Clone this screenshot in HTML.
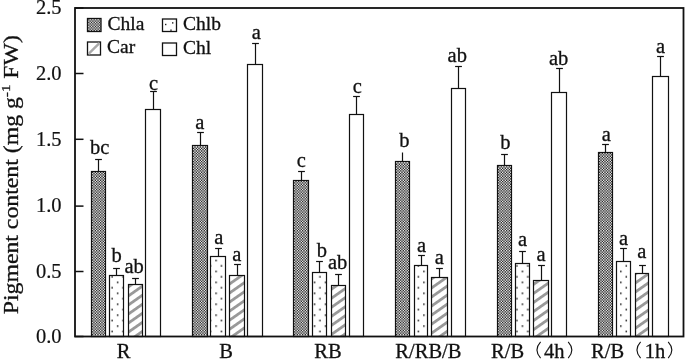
<!DOCTYPE html><html><head><meta charset="utf-8"><style>html,body{margin:0;padding:0;background:#fff;width:685px;height:359px;overflow:hidden}svg{display:block;filter:grayscale(1) blur(0.35px)}text{font-family:"Liberation Serif",serif;fill:#111;stroke:#111;stroke-width:0.3px}</style></head><body>
<svg width="685" height="359" viewBox="0 0 685 359">
<defs>
<pattern id="pb" patternUnits="userSpaceOnUse" width="10.94" height="10.94" x="116.85" y="303.45"><rect width="10.94" height="10.94" fill="#fff"/><rect x="0" y="0" width="1.5" height="1.5" fill="#111"/><rect x="5.47" y="5.47" width="1.5" height="1.5" fill="#111"/></pattern>
<pattern id="pc0" patternUnits="userSpaceOnUse" width="40" height="7.413" patternTransform="translate(129.6,311.48) rotate(-35)"><rect x="-1" y="-1" width="42" height="9.413" fill="#fff"/><rect x="-1" y="0" width="42" height="2.817" fill="#999"/></pattern>
<pattern id="pc1" patternUnits="userSpaceOnUse" width="40" height="7.413" patternTransform="translate(230.6,308.68) rotate(-35)"><rect x="-1" y="-1" width="42" height="9.413" fill="#fff"/><rect x="-1" y="0" width="42" height="2.817" fill="#999"/></pattern>
<pattern id="pc2" patternUnits="userSpaceOnUse" width="40" height="7.413" patternTransform="translate(331.9,305.28) rotate(-35)"><rect x="-1" y="-1" width="42" height="9.413" fill="#fff"/><rect x="-1" y="0" width="42" height="2.817" fill="#999"/></pattern>
<pattern id="pc3" patternUnits="userSpaceOnUse" width="40" height="7.413" patternTransform="translate(433.3,312.18) rotate(-35)"><rect x="-1" y="-1" width="42" height="9.413" fill="#fff"/><rect x="-1" y="0" width="42" height="2.817" fill="#999"/></pattern>
<pattern id="pc4" patternUnits="userSpaceOnUse" width="40" height="7.413" patternTransform="translate(534.2,309.38) rotate(-35)"><rect x="-1" y="-1" width="42" height="9.413" fill="#fff"/><rect x="-1" y="0" width="42" height="2.817" fill="#999"/></pattern>
<pattern id="pc5" patternUnits="userSpaceOnUse" width="40" height="7.413" patternTransform="translate(636,307.98) rotate(-35)"><rect x="-1" y="-1" width="42" height="9.413" fill="#fff"/><rect x="-1" y="0" width="42" height="2.817" fill="#999"/></pattern>
</defs>
<rect x="91.50" y="171.50" width="14.00" height="165.00" fill="#e8e8e8"/>
<path d="M92.00 333.84h1.33v1.33h-1.33zM94.66 333.84h1.33v1.33h-1.33zM97.32 333.84h1.33v1.33h-1.33zM99.98 333.84h1.33v1.33h-1.33zM102.64 333.84h1.33v1.33h-1.33zM93.33 332.51h1.33v1.33h-1.33zM95.99 332.51h1.33v1.33h-1.33zM98.65 332.51h1.33v1.33h-1.33zM101.31 332.51h1.33v1.33h-1.33zM103.97 332.51h1.03v1.33h-1.03zM92.00 331.18h1.33v1.33h-1.33zM94.66 331.18h1.33v1.33h-1.33zM97.32 331.18h1.33v1.33h-1.33zM99.98 331.18h1.33v1.33h-1.33zM102.64 331.18h1.33v1.33h-1.33zM93.33 329.85h1.33v1.33h-1.33zM95.99 329.85h1.33v1.33h-1.33zM98.65 329.85h1.33v1.33h-1.33zM101.31 329.85h1.33v1.33h-1.33zM103.97 329.85h1.03v1.33h-1.03zM92.00 328.52h1.33v1.33h-1.33zM94.66 328.52h1.33v1.33h-1.33zM97.32 328.52h1.33v1.33h-1.33zM99.98 328.52h1.33v1.33h-1.33zM102.64 328.52h1.33v1.33h-1.33zM93.33 327.19h1.33v1.33h-1.33zM95.99 327.19h1.33v1.33h-1.33zM98.65 327.19h1.33v1.33h-1.33zM101.31 327.19h1.33v1.33h-1.33zM103.97 327.19h1.03v1.33h-1.03zM92.00 325.86h1.33v1.33h-1.33zM94.66 325.86h1.33v1.33h-1.33zM97.32 325.86h1.33v1.33h-1.33zM99.98 325.86h1.33v1.33h-1.33zM102.64 325.86h1.33v1.33h-1.33zM93.33 324.53h1.33v1.33h-1.33zM95.99 324.53h1.33v1.33h-1.33zM98.65 324.53h1.33v1.33h-1.33zM101.31 324.53h1.33v1.33h-1.33zM103.97 324.53h1.03v1.33h-1.03zM92.00 323.20h1.33v1.33h-1.33zM94.66 323.20h1.33v1.33h-1.33zM97.32 323.20h1.33v1.33h-1.33zM99.98 323.20h1.33v1.33h-1.33zM102.64 323.20h1.33v1.33h-1.33zM93.33 321.87h1.33v1.33h-1.33zM95.99 321.87h1.33v1.33h-1.33zM98.65 321.87h1.33v1.33h-1.33zM101.31 321.87h1.33v1.33h-1.33zM103.97 321.87h1.03v1.33h-1.03zM92.00 320.54h1.33v1.33h-1.33zM94.66 320.54h1.33v1.33h-1.33zM97.32 320.54h1.33v1.33h-1.33zM99.98 320.54h1.33v1.33h-1.33zM102.64 320.54h1.33v1.33h-1.33zM93.33 319.21h1.33v1.33h-1.33zM95.99 319.21h1.33v1.33h-1.33zM98.65 319.21h1.33v1.33h-1.33zM101.31 319.21h1.33v1.33h-1.33zM103.97 319.21h1.03v1.33h-1.03zM92.00 317.88h1.33v1.33h-1.33zM94.66 317.88h1.33v1.33h-1.33zM97.32 317.88h1.33v1.33h-1.33zM99.98 317.88h1.33v1.33h-1.33zM102.64 317.88h1.33v1.33h-1.33zM93.33 316.55h1.33v1.33h-1.33zM95.99 316.55h1.33v1.33h-1.33zM98.65 316.55h1.33v1.33h-1.33zM101.31 316.55h1.33v1.33h-1.33zM103.97 316.55h1.03v1.33h-1.03zM92.00 315.22h1.33v1.33h-1.33zM94.66 315.22h1.33v1.33h-1.33zM97.32 315.22h1.33v1.33h-1.33zM99.98 315.22h1.33v1.33h-1.33zM102.64 315.22h1.33v1.33h-1.33zM93.33 313.89h1.33v1.33h-1.33zM95.99 313.89h1.33v1.33h-1.33zM98.65 313.89h1.33v1.33h-1.33zM101.31 313.89h1.33v1.33h-1.33zM103.97 313.89h1.03v1.33h-1.03zM92.00 312.56h1.33v1.33h-1.33zM94.66 312.56h1.33v1.33h-1.33zM97.32 312.56h1.33v1.33h-1.33zM99.98 312.56h1.33v1.33h-1.33zM102.64 312.56h1.33v1.33h-1.33zM93.33 311.23h1.33v1.33h-1.33zM95.99 311.23h1.33v1.33h-1.33zM98.65 311.23h1.33v1.33h-1.33zM101.31 311.23h1.33v1.33h-1.33zM103.97 311.23h1.03v1.33h-1.03zM92.00 309.90h1.33v1.33h-1.33zM94.66 309.90h1.33v1.33h-1.33zM97.32 309.90h1.33v1.33h-1.33zM99.98 309.90h1.33v1.33h-1.33zM102.64 309.90h1.33v1.33h-1.33zM93.33 308.57h1.33v1.33h-1.33zM95.99 308.57h1.33v1.33h-1.33zM98.65 308.57h1.33v1.33h-1.33zM101.31 308.57h1.33v1.33h-1.33zM103.97 308.57h1.03v1.33h-1.03zM92.00 307.24h1.33v1.33h-1.33zM94.66 307.24h1.33v1.33h-1.33zM97.32 307.24h1.33v1.33h-1.33zM99.98 307.24h1.33v1.33h-1.33zM102.64 307.24h1.33v1.33h-1.33zM93.33 305.91h1.33v1.33h-1.33zM95.99 305.91h1.33v1.33h-1.33zM98.65 305.91h1.33v1.33h-1.33zM101.31 305.91h1.33v1.33h-1.33zM103.97 305.91h1.03v1.33h-1.03zM92.00 304.58h1.33v1.33h-1.33zM94.66 304.58h1.33v1.33h-1.33zM97.32 304.58h1.33v1.33h-1.33zM99.98 304.58h1.33v1.33h-1.33zM102.64 304.58h1.33v1.33h-1.33zM93.33 303.25h1.33v1.33h-1.33zM95.99 303.25h1.33v1.33h-1.33zM98.65 303.25h1.33v1.33h-1.33zM101.31 303.25h1.33v1.33h-1.33zM103.97 303.25h1.03v1.33h-1.03zM92.00 301.92h1.33v1.33h-1.33zM94.66 301.92h1.33v1.33h-1.33zM97.32 301.92h1.33v1.33h-1.33zM99.98 301.92h1.33v1.33h-1.33zM102.64 301.92h1.33v1.33h-1.33zM93.33 300.59h1.33v1.33h-1.33zM95.99 300.59h1.33v1.33h-1.33zM98.65 300.59h1.33v1.33h-1.33zM101.31 300.59h1.33v1.33h-1.33zM103.97 300.59h1.03v1.33h-1.03zM92.00 299.26h1.33v1.33h-1.33zM94.66 299.26h1.33v1.33h-1.33zM97.32 299.26h1.33v1.33h-1.33zM99.98 299.26h1.33v1.33h-1.33zM102.64 299.26h1.33v1.33h-1.33zM93.33 297.93h1.33v1.33h-1.33zM95.99 297.93h1.33v1.33h-1.33zM98.65 297.93h1.33v1.33h-1.33zM101.31 297.93h1.33v1.33h-1.33zM103.97 297.93h1.03v1.33h-1.03zM92.00 296.60h1.33v1.33h-1.33zM94.66 296.60h1.33v1.33h-1.33zM97.32 296.60h1.33v1.33h-1.33zM99.98 296.60h1.33v1.33h-1.33zM102.64 296.60h1.33v1.33h-1.33zM93.33 295.27h1.33v1.33h-1.33zM95.99 295.27h1.33v1.33h-1.33zM98.65 295.27h1.33v1.33h-1.33zM101.31 295.27h1.33v1.33h-1.33zM103.97 295.27h1.03v1.33h-1.03zM92.00 293.94h1.33v1.33h-1.33zM94.66 293.94h1.33v1.33h-1.33zM97.32 293.94h1.33v1.33h-1.33zM99.98 293.94h1.33v1.33h-1.33zM102.64 293.94h1.33v1.33h-1.33zM93.33 292.61h1.33v1.33h-1.33zM95.99 292.61h1.33v1.33h-1.33zM98.65 292.61h1.33v1.33h-1.33zM101.31 292.61h1.33v1.33h-1.33zM103.97 292.61h1.03v1.33h-1.03zM92.00 291.28h1.33v1.33h-1.33zM94.66 291.28h1.33v1.33h-1.33zM97.32 291.28h1.33v1.33h-1.33zM99.98 291.28h1.33v1.33h-1.33zM102.64 291.28h1.33v1.33h-1.33zM93.33 289.95h1.33v1.33h-1.33zM95.99 289.95h1.33v1.33h-1.33zM98.65 289.95h1.33v1.33h-1.33zM101.31 289.95h1.33v1.33h-1.33zM103.97 289.95h1.03v1.33h-1.03zM92.00 288.62h1.33v1.33h-1.33zM94.66 288.62h1.33v1.33h-1.33zM97.32 288.62h1.33v1.33h-1.33zM99.98 288.62h1.33v1.33h-1.33zM102.64 288.62h1.33v1.33h-1.33zM93.33 287.29h1.33v1.33h-1.33zM95.99 287.29h1.33v1.33h-1.33zM98.65 287.29h1.33v1.33h-1.33zM101.31 287.29h1.33v1.33h-1.33zM103.97 287.29h1.03v1.33h-1.03zM92.00 285.96h1.33v1.33h-1.33zM94.66 285.96h1.33v1.33h-1.33zM97.32 285.96h1.33v1.33h-1.33zM99.98 285.96h1.33v1.33h-1.33zM102.64 285.96h1.33v1.33h-1.33zM93.33 284.63h1.33v1.33h-1.33zM95.99 284.63h1.33v1.33h-1.33zM98.65 284.63h1.33v1.33h-1.33zM101.31 284.63h1.33v1.33h-1.33zM103.97 284.63h1.03v1.33h-1.03zM92.00 283.30h1.33v1.33h-1.33zM94.66 283.30h1.33v1.33h-1.33zM97.32 283.30h1.33v1.33h-1.33zM99.98 283.30h1.33v1.33h-1.33zM102.64 283.30h1.33v1.33h-1.33zM93.33 281.97h1.33v1.33h-1.33zM95.99 281.97h1.33v1.33h-1.33zM98.65 281.97h1.33v1.33h-1.33zM101.31 281.97h1.33v1.33h-1.33zM103.97 281.97h1.03v1.33h-1.03zM92.00 280.64h1.33v1.33h-1.33zM94.66 280.64h1.33v1.33h-1.33zM97.32 280.64h1.33v1.33h-1.33zM99.98 280.64h1.33v1.33h-1.33zM102.64 280.64h1.33v1.33h-1.33zM93.33 279.31h1.33v1.33h-1.33zM95.99 279.31h1.33v1.33h-1.33zM98.65 279.31h1.33v1.33h-1.33zM101.31 279.31h1.33v1.33h-1.33zM103.97 279.31h1.03v1.33h-1.03zM92.00 277.98h1.33v1.33h-1.33zM94.66 277.98h1.33v1.33h-1.33zM97.32 277.98h1.33v1.33h-1.33zM99.98 277.98h1.33v1.33h-1.33zM102.64 277.98h1.33v1.33h-1.33zM93.33 276.65h1.33v1.33h-1.33zM95.99 276.65h1.33v1.33h-1.33zM98.65 276.65h1.33v1.33h-1.33zM101.31 276.65h1.33v1.33h-1.33zM103.97 276.65h1.03v1.33h-1.03zM92.00 275.32h1.33v1.33h-1.33zM94.66 275.32h1.33v1.33h-1.33zM97.32 275.32h1.33v1.33h-1.33zM99.98 275.32h1.33v1.33h-1.33zM102.64 275.32h1.33v1.33h-1.33zM93.33 273.99h1.33v1.33h-1.33zM95.99 273.99h1.33v1.33h-1.33zM98.65 273.99h1.33v1.33h-1.33zM101.31 273.99h1.33v1.33h-1.33zM103.97 273.99h1.03v1.33h-1.03zM92.00 272.66h1.33v1.33h-1.33zM94.66 272.66h1.33v1.33h-1.33zM97.32 272.66h1.33v1.33h-1.33zM99.98 272.66h1.33v1.33h-1.33zM102.64 272.66h1.33v1.33h-1.33zM93.33 271.33h1.33v1.33h-1.33zM95.99 271.33h1.33v1.33h-1.33zM98.65 271.33h1.33v1.33h-1.33zM101.31 271.33h1.33v1.33h-1.33zM103.97 271.33h1.03v1.33h-1.03zM92.00 270.00h1.33v1.33h-1.33zM94.66 270.00h1.33v1.33h-1.33zM97.32 270.00h1.33v1.33h-1.33zM99.98 270.00h1.33v1.33h-1.33zM102.64 270.00h1.33v1.33h-1.33zM93.33 268.67h1.33v1.33h-1.33zM95.99 268.67h1.33v1.33h-1.33zM98.65 268.67h1.33v1.33h-1.33zM101.31 268.67h1.33v1.33h-1.33zM103.97 268.67h1.03v1.33h-1.03zM92.00 267.34h1.33v1.33h-1.33zM94.66 267.34h1.33v1.33h-1.33zM97.32 267.34h1.33v1.33h-1.33zM99.98 267.34h1.33v1.33h-1.33zM102.64 267.34h1.33v1.33h-1.33zM93.33 266.01h1.33v1.33h-1.33zM95.99 266.01h1.33v1.33h-1.33zM98.65 266.01h1.33v1.33h-1.33zM101.31 266.01h1.33v1.33h-1.33zM103.97 266.01h1.03v1.33h-1.03zM92.00 264.68h1.33v1.33h-1.33zM94.66 264.68h1.33v1.33h-1.33zM97.32 264.68h1.33v1.33h-1.33zM99.98 264.68h1.33v1.33h-1.33zM102.64 264.68h1.33v1.33h-1.33zM93.33 263.35h1.33v1.33h-1.33zM95.99 263.35h1.33v1.33h-1.33zM98.65 263.35h1.33v1.33h-1.33zM101.31 263.35h1.33v1.33h-1.33zM103.97 263.35h1.03v1.33h-1.03zM92.00 262.02h1.33v1.33h-1.33zM94.66 262.02h1.33v1.33h-1.33zM97.32 262.02h1.33v1.33h-1.33zM99.98 262.02h1.33v1.33h-1.33zM102.64 262.02h1.33v1.33h-1.33zM93.33 260.69h1.33v1.33h-1.33zM95.99 260.69h1.33v1.33h-1.33zM98.65 260.69h1.33v1.33h-1.33zM101.31 260.69h1.33v1.33h-1.33zM103.97 260.69h1.03v1.33h-1.03zM92.00 259.36h1.33v1.33h-1.33zM94.66 259.36h1.33v1.33h-1.33zM97.32 259.36h1.33v1.33h-1.33zM99.98 259.36h1.33v1.33h-1.33zM102.64 259.36h1.33v1.33h-1.33zM93.33 258.03h1.33v1.33h-1.33zM95.99 258.03h1.33v1.33h-1.33zM98.65 258.03h1.33v1.33h-1.33zM101.31 258.03h1.33v1.33h-1.33zM103.97 258.03h1.03v1.33h-1.03zM92.00 256.70h1.33v1.33h-1.33zM94.66 256.70h1.33v1.33h-1.33zM97.32 256.70h1.33v1.33h-1.33zM99.98 256.70h1.33v1.33h-1.33zM102.64 256.70h1.33v1.33h-1.33zM93.33 255.37h1.33v1.33h-1.33zM95.99 255.37h1.33v1.33h-1.33zM98.65 255.37h1.33v1.33h-1.33zM101.31 255.37h1.33v1.33h-1.33zM103.97 255.37h1.03v1.33h-1.03zM92.00 254.04h1.33v1.33h-1.33zM94.66 254.04h1.33v1.33h-1.33zM97.32 254.04h1.33v1.33h-1.33zM99.98 254.04h1.33v1.33h-1.33zM102.64 254.04h1.33v1.33h-1.33zM93.33 252.71h1.33v1.33h-1.33zM95.99 252.71h1.33v1.33h-1.33zM98.65 252.71h1.33v1.33h-1.33zM101.31 252.71h1.33v1.33h-1.33zM103.97 252.71h1.03v1.33h-1.03zM92.00 251.38h1.33v1.33h-1.33zM94.66 251.38h1.33v1.33h-1.33zM97.32 251.38h1.33v1.33h-1.33zM99.98 251.38h1.33v1.33h-1.33zM102.64 251.38h1.33v1.33h-1.33zM93.33 250.05h1.33v1.33h-1.33zM95.99 250.05h1.33v1.33h-1.33zM98.65 250.05h1.33v1.33h-1.33zM101.31 250.05h1.33v1.33h-1.33zM103.97 250.05h1.03v1.33h-1.03zM92.00 248.72h1.33v1.33h-1.33zM94.66 248.72h1.33v1.33h-1.33zM97.32 248.72h1.33v1.33h-1.33zM99.98 248.72h1.33v1.33h-1.33zM102.64 248.72h1.33v1.33h-1.33zM93.33 247.39h1.33v1.33h-1.33zM95.99 247.39h1.33v1.33h-1.33zM98.65 247.39h1.33v1.33h-1.33zM101.31 247.39h1.33v1.33h-1.33zM103.97 247.39h1.03v1.33h-1.03zM92.00 246.06h1.33v1.33h-1.33zM94.66 246.06h1.33v1.33h-1.33zM97.32 246.06h1.33v1.33h-1.33zM99.98 246.06h1.33v1.33h-1.33zM102.64 246.06h1.33v1.33h-1.33zM93.33 244.73h1.33v1.33h-1.33zM95.99 244.73h1.33v1.33h-1.33zM98.65 244.73h1.33v1.33h-1.33zM101.31 244.73h1.33v1.33h-1.33zM103.97 244.73h1.03v1.33h-1.03zM92.00 243.40h1.33v1.33h-1.33zM94.66 243.40h1.33v1.33h-1.33zM97.32 243.40h1.33v1.33h-1.33zM99.98 243.40h1.33v1.33h-1.33zM102.64 243.40h1.33v1.33h-1.33zM93.33 242.07h1.33v1.33h-1.33zM95.99 242.07h1.33v1.33h-1.33zM98.65 242.07h1.33v1.33h-1.33zM101.31 242.07h1.33v1.33h-1.33zM103.97 242.07h1.03v1.33h-1.03zM92.00 240.74h1.33v1.33h-1.33zM94.66 240.74h1.33v1.33h-1.33zM97.32 240.74h1.33v1.33h-1.33zM99.98 240.74h1.33v1.33h-1.33zM102.64 240.74h1.33v1.33h-1.33zM93.33 239.41h1.33v1.33h-1.33zM95.99 239.41h1.33v1.33h-1.33zM98.65 239.41h1.33v1.33h-1.33zM101.31 239.41h1.33v1.33h-1.33zM103.97 239.41h1.03v1.33h-1.03zM92.00 238.08h1.33v1.33h-1.33zM94.66 238.08h1.33v1.33h-1.33zM97.32 238.08h1.33v1.33h-1.33zM99.98 238.08h1.33v1.33h-1.33zM102.64 238.08h1.33v1.33h-1.33zM93.33 236.75h1.33v1.33h-1.33zM95.99 236.75h1.33v1.33h-1.33zM98.65 236.75h1.33v1.33h-1.33zM101.31 236.75h1.33v1.33h-1.33zM103.97 236.75h1.03v1.33h-1.03zM92.00 235.42h1.33v1.33h-1.33zM94.66 235.42h1.33v1.33h-1.33zM97.32 235.42h1.33v1.33h-1.33zM99.98 235.42h1.33v1.33h-1.33zM102.64 235.42h1.33v1.33h-1.33zM93.33 234.09h1.33v1.33h-1.33zM95.99 234.09h1.33v1.33h-1.33zM98.65 234.09h1.33v1.33h-1.33zM101.31 234.09h1.33v1.33h-1.33zM103.97 234.09h1.03v1.33h-1.03zM92.00 232.76h1.33v1.33h-1.33zM94.66 232.76h1.33v1.33h-1.33zM97.32 232.76h1.33v1.33h-1.33zM99.98 232.76h1.33v1.33h-1.33zM102.64 232.76h1.33v1.33h-1.33zM93.33 231.43h1.33v1.33h-1.33zM95.99 231.43h1.33v1.33h-1.33zM98.65 231.43h1.33v1.33h-1.33zM101.31 231.43h1.33v1.33h-1.33zM103.97 231.43h1.03v1.33h-1.03zM92.00 230.10h1.33v1.33h-1.33zM94.66 230.10h1.33v1.33h-1.33zM97.32 230.10h1.33v1.33h-1.33zM99.98 230.10h1.33v1.33h-1.33zM102.64 230.10h1.33v1.33h-1.33zM93.33 228.77h1.33v1.33h-1.33zM95.99 228.77h1.33v1.33h-1.33zM98.65 228.77h1.33v1.33h-1.33zM101.31 228.77h1.33v1.33h-1.33zM103.97 228.77h1.03v1.33h-1.03zM92.00 227.44h1.33v1.33h-1.33zM94.66 227.44h1.33v1.33h-1.33zM97.32 227.44h1.33v1.33h-1.33zM99.98 227.44h1.33v1.33h-1.33zM102.64 227.44h1.33v1.33h-1.33zM93.33 226.11h1.33v1.33h-1.33zM95.99 226.11h1.33v1.33h-1.33zM98.65 226.11h1.33v1.33h-1.33zM101.31 226.11h1.33v1.33h-1.33zM103.97 226.11h1.03v1.33h-1.03zM92.00 224.78h1.33v1.33h-1.33zM94.66 224.78h1.33v1.33h-1.33zM97.32 224.78h1.33v1.33h-1.33zM99.98 224.78h1.33v1.33h-1.33zM102.64 224.78h1.33v1.33h-1.33zM93.33 223.45h1.33v1.33h-1.33zM95.99 223.45h1.33v1.33h-1.33zM98.65 223.45h1.33v1.33h-1.33zM101.31 223.45h1.33v1.33h-1.33zM103.97 223.45h1.03v1.33h-1.03zM92.00 222.12h1.33v1.33h-1.33zM94.66 222.12h1.33v1.33h-1.33zM97.32 222.12h1.33v1.33h-1.33zM99.98 222.12h1.33v1.33h-1.33zM102.64 222.12h1.33v1.33h-1.33zM93.33 220.79h1.33v1.33h-1.33zM95.99 220.79h1.33v1.33h-1.33zM98.65 220.79h1.33v1.33h-1.33zM101.31 220.79h1.33v1.33h-1.33zM103.97 220.79h1.03v1.33h-1.03zM92.00 219.46h1.33v1.33h-1.33zM94.66 219.46h1.33v1.33h-1.33zM97.32 219.46h1.33v1.33h-1.33zM99.98 219.46h1.33v1.33h-1.33zM102.64 219.46h1.33v1.33h-1.33zM93.33 218.13h1.33v1.33h-1.33zM95.99 218.13h1.33v1.33h-1.33zM98.65 218.13h1.33v1.33h-1.33zM101.31 218.13h1.33v1.33h-1.33zM103.97 218.13h1.03v1.33h-1.03zM92.00 216.80h1.33v1.33h-1.33zM94.66 216.80h1.33v1.33h-1.33zM97.32 216.80h1.33v1.33h-1.33zM99.98 216.80h1.33v1.33h-1.33zM102.64 216.80h1.33v1.33h-1.33zM93.33 215.47h1.33v1.33h-1.33zM95.99 215.47h1.33v1.33h-1.33zM98.65 215.47h1.33v1.33h-1.33zM101.31 215.47h1.33v1.33h-1.33zM103.97 215.47h1.03v1.33h-1.03zM92.00 214.14h1.33v1.33h-1.33zM94.66 214.14h1.33v1.33h-1.33zM97.32 214.14h1.33v1.33h-1.33zM99.98 214.14h1.33v1.33h-1.33zM102.64 214.14h1.33v1.33h-1.33zM93.33 212.81h1.33v1.33h-1.33zM95.99 212.81h1.33v1.33h-1.33zM98.65 212.81h1.33v1.33h-1.33zM101.31 212.81h1.33v1.33h-1.33zM103.97 212.81h1.03v1.33h-1.03zM92.00 211.48h1.33v1.33h-1.33zM94.66 211.48h1.33v1.33h-1.33zM97.32 211.48h1.33v1.33h-1.33zM99.98 211.48h1.33v1.33h-1.33zM102.64 211.48h1.33v1.33h-1.33zM93.33 210.15h1.33v1.33h-1.33zM95.99 210.15h1.33v1.33h-1.33zM98.65 210.15h1.33v1.33h-1.33zM101.31 210.15h1.33v1.33h-1.33zM103.97 210.15h1.03v1.33h-1.03zM92.00 208.82h1.33v1.33h-1.33zM94.66 208.82h1.33v1.33h-1.33zM97.32 208.82h1.33v1.33h-1.33zM99.98 208.82h1.33v1.33h-1.33zM102.64 208.82h1.33v1.33h-1.33zM93.33 207.49h1.33v1.33h-1.33zM95.99 207.49h1.33v1.33h-1.33zM98.65 207.49h1.33v1.33h-1.33zM101.31 207.49h1.33v1.33h-1.33zM103.97 207.49h1.03v1.33h-1.03zM92.00 206.16h1.33v1.33h-1.33zM94.66 206.16h1.33v1.33h-1.33zM97.32 206.16h1.33v1.33h-1.33zM99.98 206.16h1.33v1.33h-1.33zM102.64 206.16h1.33v1.33h-1.33zM93.33 204.83h1.33v1.33h-1.33zM95.99 204.83h1.33v1.33h-1.33zM98.65 204.83h1.33v1.33h-1.33zM101.31 204.83h1.33v1.33h-1.33zM103.97 204.83h1.03v1.33h-1.03zM92.00 203.50h1.33v1.33h-1.33zM94.66 203.50h1.33v1.33h-1.33zM97.32 203.50h1.33v1.33h-1.33zM99.98 203.50h1.33v1.33h-1.33zM102.64 203.50h1.33v1.33h-1.33zM93.33 202.17h1.33v1.33h-1.33zM95.99 202.17h1.33v1.33h-1.33zM98.65 202.17h1.33v1.33h-1.33zM101.31 202.17h1.33v1.33h-1.33zM103.97 202.17h1.03v1.33h-1.03zM92.00 200.84h1.33v1.33h-1.33zM94.66 200.84h1.33v1.33h-1.33zM97.32 200.84h1.33v1.33h-1.33zM99.98 200.84h1.33v1.33h-1.33zM102.64 200.84h1.33v1.33h-1.33zM93.33 199.51h1.33v1.33h-1.33zM95.99 199.51h1.33v1.33h-1.33zM98.65 199.51h1.33v1.33h-1.33zM101.31 199.51h1.33v1.33h-1.33zM103.97 199.51h1.03v1.33h-1.03zM92.00 198.18h1.33v1.33h-1.33zM94.66 198.18h1.33v1.33h-1.33zM97.32 198.18h1.33v1.33h-1.33zM99.98 198.18h1.33v1.33h-1.33zM102.64 198.18h1.33v1.33h-1.33zM93.33 196.85h1.33v1.33h-1.33zM95.99 196.85h1.33v1.33h-1.33zM98.65 196.85h1.33v1.33h-1.33zM101.31 196.85h1.33v1.33h-1.33zM103.97 196.85h1.03v1.33h-1.03zM92.00 195.52h1.33v1.33h-1.33zM94.66 195.52h1.33v1.33h-1.33zM97.32 195.52h1.33v1.33h-1.33zM99.98 195.52h1.33v1.33h-1.33zM102.64 195.52h1.33v1.33h-1.33zM93.33 194.19h1.33v1.33h-1.33zM95.99 194.19h1.33v1.33h-1.33zM98.65 194.19h1.33v1.33h-1.33zM101.31 194.19h1.33v1.33h-1.33zM103.97 194.19h1.03v1.33h-1.03zM92.00 192.86h1.33v1.33h-1.33zM94.66 192.86h1.33v1.33h-1.33zM97.32 192.86h1.33v1.33h-1.33zM99.98 192.86h1.33v1.33h-1.33zM102.64 192.86h1.33v1.33h-1.33zM93.33 191.53h1.33v1.33h-1.33zM95.99 191.53h1.33v1.33h-1.33zM98.65 191.53h1.33v1.33h-1.33zM101.31 191.53h1.33v1.33h-1.33zM103.97 191.53h1.03v1.33h-1.03zM92.00 190.20h1.33v1.33h-1.33zM94.66 190.20h1.33v1.33h-1.33zM97.32 190.20h1.33v1.33h-1.33zM99.98 190.20h1.33v1.33h-1.33zM102.64 190.20h1.33v1.33h-1.33zM93.33 188.87h1.33v1.33h-1.33zM95.99 188.87h1.33v1.33h-1.33zM98.65 188.87h1.33v1.33h-1.33zM101.31 188.87h1.33v1.33h-1.33zM103.97 188.87h1.03v1.33h-1.03zM92.00 187.54h1.33v1.33h-1.33zM94.66 187.54h1.33v1.33h-1.33zM97.32 187.54h1.33v1.33h-1.33zM99.98 187.54h1.33v1.33h-1.33zM102.64 187.54h1.33v1.33h-1.33zM93.33 186.21h1.33v1.33h-1.33zM95.99 186.21h1.33v1.33h-1.33zM98.65 186.21h1.33v1.33h-1.33zM101.31 186.21h1.33v1.33h-1.33zM103.97 186.21h1.03v1.33h-1.03zM92.00 184.88h1.33v1.33h-1.33zM94.66 184.88h1.33v1.33h-1.33zM97.32 184.88h1.33v1.33h-1.33zM99.98 184.88h1.33v1.33h-1.33zM102.64 184.88h1.33v1.33h-1.33zM93.33 183.55h1.33v1.33h-1.33zM95.99 183.55h1.33v1.33h-1.33zM98.65 183.55h1.33v1.33h-1.33zM101.31 183.55h1.33v1.33h-1.33zM103.97 183.55h1.03v1.33h-1.03zM92.00 182.22h1.33v1.33h-1.33zM94.66 182.22h1.33v1.33h-1.33zM97.32 182.22h1.33v1.33h-1.33zM99.98 182.22h1.33v1.33h-1.33zM102.64 182.22h1.33v1.33h-1.33zM93.33 180.89h1.33v1.33h-1.33zM95.99 180.89h1.33v1.33h-1.33zM98.65 180.89h1.33v1.33h-1.33zM101.31 180.89h1.33v1.33h-1.33zM103.97 180.89h1.03v1.33h-1.03zM92.00 179.56h1.33v1.33h-1.33zM94.66 179.56h1.33v1.33h-1.33zM97.32 179.56h1.33v1.33h-1.33zM99.98 179.56h1.33v1.33h-1.33zM102.64 179.56h1.33v1.33h-1.33zM93.33 178.23h1.33v1.33h-1.33zM95.99 178.23h1.33v1.33h-1.33zM98.65 178.23h1.33v1.33h-1.33zM101.31 178.23h1.33v1.33h-1.33zM103.97 178.23h1.03v1.33h-1.03zM92.00 176.90h1.33v1.33h-1.33zM94.66 176.90h1.33v1.33h-1.33zM97.32 176.90h1.33v1.33h-1.33zM99.98 176.90h1.33v1.33h-1.33zM102.64 176.90h1.33v1.33h-1.33zM93.33 175.57h1.33v1.33h-1.33zM95.99 175.57h1.33v1.33h-1.33zM98.65 175.57h1.33v1.33h-1.33zM101.31 175.57h1.33v1.33h-1.33zM103.97 175.57h1.03v1.33h-1.03zM92.00 174.24h1.33v1.33h-1.33zM94.66 174.24h1.33v1.33h-1.33zM97.32 174.24h1.33v1.33h-1.33zM99.98 174.24h1.33v1.33h-1.33zM102.64 174.24h1.33v1.33h-1.33zM93.33 172.91h1.33v1.33h-1.33zM95.99 172.91h1.33v1.33h-1.33zM98.65 172.91h1.33v1.33h-1.33zM101.31 172.91h1.33v1.33h-1.33zM103.97 172.91h1.03v1.33h-1.03zM92.00 172.00h1.33v0.91h-1.33zM94.66 172.00h1.33v0.91h-1.33zM97.32 172.00h1.33v0.91h-1.33zM99.98 172.00h1.33v0.91h-1.33zM102.64 172.00h1.33v0.91h-1.33z" fill="#2a2a2a"/>
<rect x="91.50" y="171.50" width="14.00" height="165.00" fill="none" stroke="#111" stroke-width="1.2"/>
<line x1="98.50" y1="171.00" x2="98.50" y2="159.50" stroke="#111" stroke-width="1.2"/>
<line x1="95.10" y1="159.50" x2="101.90" y2="159.50" stroke="#111" stroke-width="1.2"/>
<text x="99.60" y="154.20" font-size="20.5" text-anchor="middle">bc</text>
<rect x="109.50" y="275.50" width="14.00" height="61.00" fill="url(#pb)" stroke="#111" stroke-width="1.2"/>
<line x1="116.50" y1="275.00" x2="116.50" y2="268.50" stroke="#111" stroke-width="1.2"/>
<line x1="113.10" y1="268.50" x2="119.90" y2="268.50" stroke="#111" stroke-width="1.2"/>
<text x="116.60" y="262.10" font-size="20.5" text-anchor="middle">b</text>
<rect x="128.50" y="284.50" width="14.00" height="52.00" fill="url(#pc0)" stroke="#111" stroke-width="1.2"/>
<line x1="135.50" y1="284.00" x2="135.50" y2="278.50" stroke="#111" stroke-width="1.2"/>
<line x1="132.10" y1="278.50" x2="138.90" y2="278.50" stroke="#111" stroke-width="1.2"/>
<text x="134.20" y="272.80" font-size="20.5" text-anchor="middle">ab</text>
<rect x="145.50" y="109.50" width="15.00" height="227.00" fill="#fff" stroke="#111" stroke-width="1.2"/>
<line x1="153.50" y1="109.00" x2="153.50" y2="91.50" stroke="#111" stroke-width="1.2"/>
<line x1="150.10" y1="91.50" x2="156.90" y2="91.50" stroke="#111" stroke-width="1.2"/>
<text x="153.50" y="89.90" font-size="20.5" text-anchor="middle">c</text>
<rect x="192.50" y="145.50" width="15.00" height="191.00" fill="#e8e8e8"/>
<path d="M193.00 333.84h1.33v1.33h-1.33zM195.66 333.84h1.33v1.33h-1.33zM198.32 333.84h1.33v1.33h-1.33zM200.98 333.84h1.33v1.33h-1.33zM203.64 333.84h1.33v1.33h-1.33zM206.30 333.84h0.70v1.33h-0.70zM194.33 332.51h1.33v1.33h-1.33zM196.99 332.51h1.33v1.33h-1.33zM199.65 332.51h1.33v1.33h-1.33zM202.31 332.51h1.33v1.33h-1.33zM204.97 332.51h1.33v1.33h-1.33zM193.00 331.18h1.33v1.33h-1.33zM195.66 331.18h1.33v1.33h-1.33zM198.32 331.18h1.33v1.33h-1.33zM200.98 331.18h1.33v1.33h-1.33zM203.64 331.18h1.33v1.33h-1.33zM206.30 331.18h0.70v1.33h-0.70zM194.33 329.85h1.33v1.33h-1.33zM196.99 329.85h1.33v1.33h-1.33zM199.65 329.85h1.33v1.33h-1.33zM202.31 329.85h1.33v1.33h-1.33zM204.97 329.85h1.33v1.33h-1.33zM193.00 328.52h1.33v1.33h-1.33zM195.66 328.52h1.33v1.33h-1.33zM198.32 328.52h1.33v1.33h-1.33zM200.98 328.52h1.33v1.33h-1.33zM203.64 328.52h1.33v1.33h-1.33zM206.30 328.52h0.70v1.33h-0.70zM194.33 327.19h1.33v1.33h-1.33zM196.99 327.19h1.33v1.33h-1.33zM199.65 327.19h1.33v1.33h-1.33zM202.31 327.19h1.33v1.33h-1.33zM204.97 327.19h1.33v1.33h-1.33zM193.00 325.86h1.33v1.33h-1.33zM195.66 325.86h1.33v1.33h-1.33zM198.32 325.86h1.33v1.33h-1.33zM200.98 325.86h1.33v1.33h-1.33zM203.64 325.86h1.33v1.33h-1.33zM206.30 325.86h0.70v1.33h-0.70zM194.33 324.53h1.33v1.33h-1.33zM196.99 324.53h1.33v1.33h-1.33zM199.65 324.53h1.33v1.33h-1.33zM202.31 324.53h1.33v1.33h-1.33zM204.97 324.53h1.33v1.33h-1.33zM193.00 323.20h1.33v1.33h-1.33zM195.66 323.20h1.33v1.33h-1.33zM198.32 323.20h1.33v1.33h-1.33zM200.98 323.20h1.33v1.33h-1.33zM203.64 323.20h1.33v1.33h-1.33zM206.30 323.20h0.70v1.33h-0.70zM194.33 321.87h1.33v1.33h-1.33zM196.99 321.87h1.33v1.33h-1.33zM199.65 321.87h1.33v1.33h-1.33zM202.31 321.87h1.33v1.33h-1.33zM204.97 321.87h1.33v1.33h-1.33zM193.00 320.54h1.33v1.33h-1.33zM195.66 320.54h1.33v1.33h-1.33zM198.32 320.54h1.33v1.33h-1.33zM200.98 320.54h1.33v1.33h-1.33zM203.64 320.54h1.33v1.33h-1.33zM206.30 320.54h0.70v1.33h-0.70zM194.33 319.21h1.33v1.33h-1.33zM196.99 319.21h1.33v1.33h-1.33zM199.65 319.21h1.33v1.33h-1.33zM202.31 319.21h1.33v1.33h-1.33zM204.97 319.21h1.33v1.33h-1.33zM193.00 317.88h1.33v1.33h-1.33zM195.66 317.88h1.33v1.33h-1.33zM198.32 317.88h1.33v1.33h-1.33zM200.98 317.88h1.33v1.33h-1.33zM203.64 317.88h1.33v1.33h-1.33zM206.30 317.88h0.70v1.33h-0.70zM194.33 316.55h1.33v1.33h-1.33zM196.99 316.55h1.33v1.33h-1.33zM199.65 316.55h1.33v1.33h-1.33zM202.31 316.55h1.33v1.33h-1.33zM204.97 316.55h1.33v1.33h-1.33zM193.00 315.22h1.33v1.33h-1.33zM195.66 315.22h1.33v1.33h-1.33zM198.32 315.22h1.33v1.33h-1.33zM200.98 315.22h1.33v1.33h-1.33zM203.64 315.22h1.33v1.33h-1.33zM206.30 315.22h0.70v1.33h-0.70zM194.33 313.89h1.33v1.33h-1.33zM196.99 313.89h1.33v1.33h-1.33zM199.65 313.89h1.33v1.33h-1.33zM202.31 313.89h1.33v1.33h-1.33zM204.97 313.89h1.33v1.33h-1.33zM193.00 312.56h1.33v1.33h-1.33zM195.66 312.56h1.33v1.33h-1.33zM198.32 312.56h1.33v1.33h-1.33zM200.98 312.56h1.33v1.33h-1.33zM203.64 312.56h1.33v1.33h-1.33zM206.30 312.56h0.70v1.33h-0.70zM194.33 311.23h1.33v1.33h-1.33zM196.99 311.23h1.33v1.33h-1.33zM199.65 311.23h1.33v1.33h-1.33zM202.31 311.23h1.33v1.33h-1.33zM204.97 311.23h1.33v1.33h-1.33zM193.00 309.90h1.33v1.33h-1.33zM195.66 309.90h1.33v1.33h-1.33zM198.32 309.90h1.33v1.33h-1.33zM200.98 309.90h1.33v1.33h-1.33zM203.64 309.90h1.33v1.33h-1.33zM206.30 309.90h0.70v1.33h-0.70zM194.33 308.57h1.33v1.33h-1.33zM196.99 308.57h1.33v1.33h-1.33zM199.65 308.57h1.33v1.33h-1.33zM202.31 308.57h1.33v1.33h-1.33zM204.97 308.57h1.33v1.33h-1.33zM193.00 307.24h1.33v1.33h-1.33zM195.66 307.24h1.33v1.33h-1.33zM198.32 307.24h1.33v1.33h-1.33zM200.98 307.24h1.33v1.33h-1.33zM203.64 307.24h1.33v1.33h-1.33zM206.30 307.24h0.70v1.33h-0.70zM194.33 305.91h1.33v1.33h-1.33zM196.99 305.91h1.33v1.33h-1.33zM199.65 305.91h1.33v1.33h-1.33zM202.31 305.91h1.33v1.33h-1.33zM204.97 305.91h1.33v1.33h-1.33zM193.00 304.58h1.33v1.33h-1.33zM195.66 304.58h1.33v1.33h-1.33zM198.32 304.58h1.33v1.33h-1.33zM200.98 304.58h1.33v1.33h-1.33zM203.64 304.58h1.33v1.33h-1.33zM206.30 304.58h0.70v1.33h-0.70zM194.33 303.25h1.33v1.33h-1.33zM196.99 303.25h1.33v1.33h-1.33zM199.65 303.25h1.33v1.33h-1.33zM202.31 303.25h1.33v1.33h-1.33zM204.97 303.25h1.33v1.33h-1.33zM193.00 301.92h1.33v1.33h-1.33zM195.66 301.92h1.33v1.33h-1.33zM198.32 301.92h1.33v1.33h-1.33zM200.98 301.92h1.33v1.33h-1.33zM203.64 301.92h1.33v1.33h-1.33zM206.30 301.92h0.70v1.33h-0.70zM194.33 300.59h1.33v1.33h-1.33zM196.99 300.59h1.33v1.33h-1.33zM199.65 300.59h1.33v1.33h-1.33zM202.31 300.59h1.33v1.33h-1.33zM204.97 300.59h1.33v1.33h-1.33zM193.00 299.26h1.33v1.33h-1.33zM195.66 299.26h1.33v1.33h-1.33zM198.32 299.26h1.33v1.33h-1.33zM200.98 299.26h1.33v1.33h-1.33zM203.64 299.26h1.33v1.33h-1.33zM206.30 299.26h0.70v1.33h-0.70zM194.33 297.93h1.33v1.33h-1.33zM196.99 297.93h1.33v1.33h-1.33zM199.65 297.93h1.33v1.33h-1.33zM202.31 297.93h1.33v1.33h-1.33zM204.97 297.93h1.33v1.33h-1.33zM193.00 296.60h1.33v1.33h-1.33zM195.66 296.60h1.33v1.33h-1.33zM198.32 296.60h1.33v1.33h-1.33zM200.98 296.60h1.33v1.33h-1.33zM203.64 296.60h1.33v1.33h-1.33zM206.30 296.60h0.70v1.33h-0.70zM194.33 295.27h1.33v1.33h-1.33zM196.99 295.27h1.33v1.33h-1.33zM199.65 295.27h1.33v1.33h-1.33zM202.31 295.27h1.33v1.33h-1.33zM204.97 295.27h1.33v1.33h-1.33zM193.00 293.94h1.33v1.33h-1.33zM195.66 293.94h1.33v1.33h-1.33zM198.32 293.94h1.33v1.33h-1.33zM200.98 293.94h1.33v1.33h-1.33zM203.64 293.94h1.33v1.33h-1.33zM206.30 293.94h0.70v1.33h-0.70zM194.33 292.61h1.33v1.33h-1.33zM196.99 292.61h1.33v1.33h-1.33zM199.65 292.61h1.33v1.33h-1.33zM202.31 292.61h1.33v1.33h-1.33zM204.97 292.61h1.33v1.33h-1.33zM193.00 291.28h1.33v1.33h-1.33zM195.66 291.28h1.33v1.33h-1.33zM198.32 291.28h1.33v1.33h-1.33zM200.98 291.28h1.33v1.33h-1.33zM203.64 291.28h1.33v1.33h-1.33zM206.30 291.28h0.70v1.33h-0.70zM194.33 289.95h1.33v1.33h-1.33zM196.99 289.95h1.33v1.33h-1.33zM199.65 289.95h1.33v1.33h-1.33zM202.31 289.95h1.33v1.33h-1.33zM204.97 289.95h1.33v1.33h-1.33zM193.00 288.62h1.33v1.33h-1.33zM195.66 288.62h1.33v1.33h-1.33zM198.32 288.62h1.33v1.33h-1.33zM200.98 288.62h1.33v1.33h-1.33zM203.64 288.62h1.33v1.33h-1.33zM206.30 288.62h0.70v1.33h-0.70zM194.33 287.29h1.33v1.33h-1.33zM196.99 287.29h1.33v1.33h-1.33zM199.65 287.29h1.33v1.33h-1.33zM202.31 287.29h1.33v1.33h-1.33zM204.97 287.29h1.33v1.33h-1.33zM193.00 285.96h1.33v1.33h-1.33zM195.66 285.96h1.33v1.33h-1.33zM198.32 285.96h1.33v1.33h-1.33zM200.98 285.96h1.33v1.33h-1.33zM203.64 285.96h1.33v1.33h-1.33zM206.30 285.96h0.70v1.33h-0.70zM194.33 284.63h1.33v1.33h-1.33zM196.99 284.63h1.33v1.33h-1.33zM199.65 284.63h1.33v1.33h-1.33zM202.31 284.63h1.33v1.33h-1.33zM204.97 284.63h1.33v1.33h-1.33zM193.00 283.30h1.33v1.33h-1.33zM195.66 283.30h1.33v1.33h-1.33zM198.32 283.30h1.33v1.33h-1.33zM200.98 283.30h1.33v1.33h-1.33zM203.64 283.30h1.33v1.33h-1.33zM206.30 283.30h0.70v1.33h-0.70zM194.33 281.97h1.33v1.33h-1.33zM196.99 281.97h1.33v1.33h-1.33zM199.65 281.97h1.33v1.33h-1.33zM202.31 281.97h1.33v1.33h-1.33zM204.97 281.97h1.33v1.33h-1.33zM193.00 280.64h1.33v1.33h-1.33zM195.66 280.64h1.33v1.33h-1.33zM198.32 280.64h1.33v1.33h-1.33zM200.98 280.64h1.33v1.33h-1.33zM203.64 280.64h1.33v1.33h-1.33zM206.30 280.64h0.70v1.33h-0.70zM194.33 279.31h1.33v1.33h-1.33zM196.99 279.31h1.33v1.33h-1.33zM199.65 279.31h1.33v1.33h-1.33zM202.31 279.31h1.33v1.33h-1.33zM204.97 279.31h1.33v1.33h-1.33zM193.00 277.98h1.33v1.33h-1.33zM195.66 277.98h1.33v1.33h-1.33zM198.32 277.98h1.33v1.33h-1.33zM200.98 277.98h1.33v1.33h-1.33zM203.64 277.98h1.33v1.33h-1.33zM206.30 277.98h0.70v1.33h-0.70zM194.33 276.65h1.33v1.33h-1.33zM196.99 276.65h1.33v1.33h-1.33zM199.65 276.65h1.33v1.33h-1.33zM202.31 276.65h1.33v1.33h-1.33zM204.97 276.65h1.33v1.33h-1.33zM193.00 275.32h1.33v1.33h-1.33zM195.66 275.32h1.33v1.33h-1.33zM198.32 275.32h1.33v1.33h-1.33zM200.98 275.32h1.33v1.33h-1.33zM203.64 275.32h1.33v1.33h-1.33zM206.30 275.32h0.70v1.33h-0.70zM194.33 273.99h1.33v1.33h-1.33zM196.99 273.99h1.33v1.33h-1.33zM199.65 273.99h1.33v1.33h-1.33zM202.31 273.99h1.33v1.33h-1.33zM204.97 273.99h1.33v1.33h-1.33zM193.00 272.66h1.33v1.33h-1.33zM195.66 272.66h1.33v1.33h-1.33zM198.32 272.66h1.33v1.33h-1.33zM200.98 272.66h1.33v1.33h-1.33zM203.64 272.66h1.33v1.33h-1.33zM206.30 272.66h0.70v1.33h-0.70zM194.33 271.33h1.33v1.33h-1.33zM196.99 271.33h1.33v1.33h-1.33zM199.65 271.33h1.33v1.33h-1.33zM202.31 271.33h1.33v1.33h-1.33zM204.97 271.33h1.33v1.33h-1.33zM193.00 270.00h1.33v1.33h-1.33zM195.66 270.00h1.33v1.33h-1.33zM198.32 270.00h1.33v1.33h-1.33zM200.98 270.00h1.33v1.33h-1.33zM203.64 270.00h1.33v1.33h-1.33zM206.30 270.00h0.70v1.33h-0.70zM194.33 268.67h1.33v1.33h-1.33zM196.99 268.67h1.33v1.33h-1.33zM199.65 268.67h1.33v1.33h-1.33zM202.31 268.67h1.33v1.33h-1.33zM204.97 268.67h1.33v1.33h-1.33zM193.00 267.34h1.33v1.33h-1.33zM195.66 267.34h1.33v1.33h-1.33zM198.32 267.34h1.33v1.33h-1.33zM200.98 267.34h1.33v1.33h-1.33zM203.64 267.34h1.33v1.33h-1.33zM206.30 267.34h0.70v1.33h-0.70zM194.33 266.01h1.33v1.33h-1.33zM196.99 266.01h1.33v1.33h-1.33zM199.65 266.01h1.33v1.33h-1.33zM202.31 266.01h1.33v1.33h-1.33zM204.97 266.01h1.33v1.33h-1.33zM193.00 264.68h1.33v1.33h-1.33zM195.66 264.68h1.33v1.33h-1.33zM198.32 264.68h1.33v1.33h-1.33zM200.98 264.68h1.33v1.33h-1.33zM203.64 264.68h1.33v1.33h-1.33zM206.30 264.68h0.70v1.33h-0.70zM194.33 263.35h1.33v1.33h-1.33zM196.99 263.35h1.33v1.33h-1.33zM199.65 263.35h1.33v1.33h-1.33zM202.31 263.35h1.33v1.33h-1.33zM204.97 263.35h1.33v1.33h-1.33zM193.00 262.02h1.33v1.33h-1.33zM195.66 262.02h1.33v1.33h-1.33zM198.32 262.02h1.33v1.33h-1.33zM200.98 262.02h1.33v1.33h-1.33zM203.64 262.02h1.33v1.33h-1.33zM206.30 262.02h0.70v1.33h-0.70zM194.33 260.69h1.33v1.33h-1.33zM196.99 260.69h1.33v1.33h-1.33zM199.65 260.69h1.33v1.33h-1.33zM202.31 260.69h1.33v1.33h-1.33zM204.97 260.69h1.33v1.33h-1.33zM193.00 259.36h1.33v1.33h-1.33zM195.66 259.36h1.33v1.33h-1.33zM198.32 259.36h1.33v1.33h-1.33zM200.98 259.36h1.33v1.33h-1.33zM203.64 259.36h1.33v1.33h-1.33zM206.30 259.36h0.70v1.33h-0.70zM194.33 258.03h1.33v1.33h-1.33zM196.99 258.03h1.33v1.33h-1.33zM199.65 258.03h1.33v1.33h-1.33zM202.31 258.03h1.33v1.33h-1.33zM204.97 258.03h1.33v1.33h-1.33zM193.00 256.70h1.33v1.33h-1.33zM195.66 256.70h1.33v1.33h-1.33zM198.32 256.70h1.33v1.33h-1.33zM200.98 256.70h1.33v1.33h-1.33zM203.64 256.70h1.33v1.33h-1.33zM206.30 256.70h0.70v1.33h-0.70zM194.33 255.37h1.33v1.33h-1.33zM196.99 255.37h1.33v1.33h-1.33zM199.65 255.37h1.33v1.33h-1.33zM202.31 255.37h1.33v1.33h-1.33zM204.97 255.37h1.33v1.33h-1.33zM193.00 254.04h1.33v1.33h-1.33zM195.66 254.04h1.33v1.33h-1.33zM198.32 254.04h1.33v1.33h-1.33zM200.98 254.04h1.33v1.33h-1.33zM203.64 254.04h1.33v1.33h-1.33zM206.30 254.04h0.70v1.33h-0.70zM194.33 252.71h1.33v1.33h-1.33zM196.99 252.71h1.33v1.33h-1.33zM199.65 252.71h1.33v1.33h-1.33zM202.31 252.71h1.33v1.33h-1.33zM204.97 252.71h1.33v1.33h-1.33zM193.00 251.38h1.33v1.33h-1.33zM195.66 251.38h1.33v1.33h-1.33zM198.32 251.38h1.33v1.33h-1.33zM200.98 251.38h1.33v1.33h-1.33zM203.64 251.38h1.33v1.33h-1.33zM206.30 251.38h0.70v1.33h-0.70zM194.33 250.05h1.33v1.33h-1.33zM196.99 250.05h1.33v1.33h-1.33zM199.65 250.05h1.33v1.33h-1.33zM202.31 250.05h1.33v1.33h-1.33zM204.97 250.05h1.33v1.33h-1.33zM193.00 248.72h1.33v1.33h-1.33zM195.66 248.72h1.33v1.33h-1.33zM198.32 248.72h1.33v1.33h-1.33zM200.98 248.72h1.33v1.33h-1.33zM203.64 248.72h1.33v1.33h-1.33zM206.30 248.72h0.70v1.33h-0.70zM194.33 247.39h1.33v1.33h-1.33zM196.99 247.39h1.33v1.33h-1.33zM199.65 247.39h1.33v1.33h-1.33zM202.31 247.39h1.33v1.33h-1.33zM204.97 247.39h1.33v1.33h-1.33zM193.00 246.06h1.33v1.33h-1.33zM195.66 246.06h1.33v1.33h-1.33zM198.32 246.06h1.33v1.33h-1.33zM200.98 246.06h1.33v1.33h-1.33zM203.64 246.06h1.33v1.33h-1.33zM206.30 246.06h0.70v1.33h-0.70zM194.33 244.73h1.33v1.33h-1.33zM196.99 244.73h1.33v1.33h-1.33zM199.65 244.73h1.33v1.33h-1.33zM202.31 244.73h1.33v1.33h-1.33zM204.97 244.73h1.33v1.33h-1.33zM193.00 243.40h1.33v1.33h-1.33zM195.66 243.40h1.33v1.33h-1.33zM198.32 243.40h1.33v1.33h-1.33zM200.98 243.40h1.33v1.33h-1.33zM203.64 243.40h1.33v1.33h-1.33zM206.30 243.40h0.70v1.33h-0.70zM194.33 242.07h1.33v1.33h-1.33zM196.99 242.07h1.33v1.33h-1.33zM199.65 242.07h1.33v1.33h-1.33zM202.31 242.07h1.33v1.33h-1.33zM204.97 242.07h1.33v1.33h-1.33zM193.00 240.74h1.33v1.33h-1.33zM195.66 240.74h1.33v1.33h-1.33zM198.32 240.74h1.33v1.33h-1.33zM200.98 240.74h1.33v1.33h-1.33zM203.64 240.74h1.33v1.33h-1.33zM206.30 240.74h0.70v1.33h-0.70zM194.33 239.41h1.33v1.33h-1.33zM196.99 239.41h1.33v1.33h-1.33zM199.65 239.41h1.33v1.33h-1.33zM202.31 239.41h1.33v1.33h-1.33zM204.97 239.41h1.33v1.33h-1.33zM193.00 238.08h1.33v1.33h-1.33zM195.66 238.08h1.33v1.33h-1.33zM198.32 238.08h1.33v1.33h-1.33zM200.98 238.08h1.33v1.33h-1.33zM203.64 238.08h1.33v1.33h-1.33zM206.30 238.08h0.70v1.33h-0.70zM194.33 236.75h1.33v1.33h-1.33zM196.99 236.75h1.33v1.33h-1.33zM199.65 236.75h1.33v1.33h-1.33zM202.31 236.75h1.33v1.33h-1.33zM204.97 236.75h1.33v1.33h-1.33zM193.00 235.42h1.33v1.33h-1.33zM195.66 235.42h1.33v1.33h-1.33zM198.32 235.42h1.33v1.33h-1.33zM200.98 235.42h1.33v1.33h-1.33zM203.64 235.42h1.33v1.33h-1.33zM206.30 235.42h0.70v1.33h-0.70zM194.33 234.09h1.33v1.33h-1.33zM196.99 234.09h1.33v1.33h-1.33zM199.65 234.09h1.33v1.33h-1.33zM202.31 234.09h1.33v1.33h-1.33zM204.97 234.09h1.33v1.33h-1.33zM193.00 232.76h1.33v1.33h-1.33zM195.66 232.76h1.33v1.33h-1.33zM198.32 232.76h1.33v1.33h-1.33zM200.98 232.76h1.33v1.33h-1.33zM203.64 232.76h1.33v1.33h-1.33zM206.30 232.76h0.70v1.33h-0.70zM194.33 231.43h1.33v1.33h-1.33zM196.99 231.43h1.33v1.33h-1.33zM199.65 231.43h1.33v1.33h-1.33zM202.31 231.43h1.33v1.33h-1.33zM204.97 231.43h1.33v1.33h-1.33zM193.00 230.10h1.33v1.33h-1.33zM195.66 230.10h1.33v1.33h-1.33zM198.32 230.10h1.33v1.33h-1.33zM200.98 230.10h1.33v1.33h-1.33zM203.64 230.10h1.33v1.33h-1.33zM206.30 230.10h0.70v1.33h-0.70zM194.33 228.77h1.33v1.33h-1.33zM196.99 228.77h1.33v1.33h-1.33zM199.65 228.77h1.33v1.33h-1.33zM202.31 228.77h1.33v1.33h-1.33zM204.97 228.77h1.33v1.33h-1.33zM193.00 227.44h1.33v1.33h-1.33zM195.66 227.44h1.33v1.33h-1.33zM198.32 227.44h1.33v1.33h-1.33zM200.98 227.44h1.33v1.33h-1.33zM203.64 227.44h1.33v1.33h-1.33zM206.30 227.44h0.70v1.33h-0.70zM194.33 226.11h1.33v1.33h-1.33zM196.99 226.11h1.33v1.33h-1.33zM199.65 226.11h1.33v1.33h-1.33zM202.31 226.11h1.33v1.33h-1.33zM204.97 226.11h1.33v1.33h-1.33zM193.00 224.78h1.33v1.33h-1.33zM195.66 224.78h1.33v1.33h-1.33zM198.32 224.78h1.33v1.33h-1.33zM200.98 224.78h1.33v1.33h-1.33zM203.64 224.78h1.33v1.33h-1.33zM206.30 224.78h0.70v1.33h-0.70zM194.33 223.45h1.33v1.33h-1.33zM196.99 223.45h1.33v1.33h-1.33zM199.65 223.45h1.33v1.33h-1.33zM202.31 223.45h1.33v1.33h-1.33zM204.97 223.45h1.33v1.33h-1.33zM193.00 222.12h1.33v1.33h-1.33zM195.66 222.12h1.33v1.33h-1.33zM198.32 222.12h1.33v1.33h-1.33zM200.98 222.12h1.33v1.33h-1.33zM203.64 222.12h1.33v1.33h-1.33zM206.30 222.12h0.70v1.33h-0.70zM194.33 220.79h1.33v1.33h-1.33zM196.99 220.79h1.33v1.33h-1.33zM199.65 220.79h1.33v1.33h-1.33zM202.31 220.79h1.33v1.33h-1.33zM204.97 220.79h1.33v1.33h-1.33zM193.00 219.46h1.33v1.33h-1.33zM195.66 219.46h1.33v1.33h-1.33zM198.32 219.46h1.33v1.33h-1.33zM200.98 219.46h1.33v1.33h-1.33zM203.64 219.46h1.33v1.33h-1.33zM206.30 219.46h0.70v1.33h-0.70zM194.33 218.13h1.33v1.33h-1.33zM196.99 218.13h1.33v1.33h-1.33zM199.65 218.13h1.33v1.33h-1.33zM202.31 218.13h1.33v1.33h-1.33zM204.97 218.13h1.33v1.33h-1.33zM193.00 216.80h1.33v1.33h-1.33zM195.66 216.80h1.33v1.33h-1.33zM198.32 216.80h1.33v1.33h-1.33zM200.98 216.80h1.33v1.33h-1.33zM203.64 216.80h1.33v1.33h-1.33zM206.30 216.80h0.70v1.33h-0.70zM194.33 215.47h1.33v1.33h-1.33zM196.99 215.47h1.33v1.33h-1.33zM199.65 215.47h1.33v1.33h-1.33zM202.31 215.47h1.33v1.33h-1.33zM204.97 215.47h1.33v1.33h-1.33zM193.00 214.14h1.33v1.33h-1.33zM195.66 214.14h1.33v1.33h-1.33zM198.32 214.14h1.33v1.33h-1.33zM200.98 214.14h1.33v1.33h-1.33zM203.64 214.14h1.33v1.33h-1.33zM206.30 214.14h0.70v1.33h-0.70zM194.33 212.81h1.33v1.33h-1.33zM196.99 212.81h1.33v1.33h-1.33zM199.65 212.81h1.33v1.33h-1.33zM202.31 212.81h1.33v1.33h-1.33zM204.97 212.81h1.33v1.33h-1.33zM193.00 211.48h1.33v1.33h-1.33zM195.66 211.48h1.33v1.33h-1.33zM198.32 211.48h1.33v1.33h-1.33zM200.98 211.48h1.33v1.33h-1.33zM203.64 211.48h1.33v1.33h-1.33zM206.30 211.48h0.70v1.33h-0.70zM194.33 210.15h1.33v1.33h-1.33zM196.99 210.15h1.33v1.33h-1.33zM199.65 210.15h1.33v1.33h-1.33zM202.31 210.15h1.33v1.33h-1.33zM204.97 210.15h1.33v1.33h-1.33zM193.00 208.82h1.33v1.33h-1.33zM195.66 208.82h1.33v1.33h-1.33zM198.32 208.82h1.33v1.33h-1.33zM200.98 208.82h1.33v1.33h-1.33zM203.64 208.82h1.33v1.33h-1.33zM206.30 208.82h0.70v1.33h-0.70zM194.33 207.49h1.33v1.33h-1.33zM196.99 207.49h1.33v1.33h-1.33zM199.65 207.49h1.33v1.33h-1.33zM202.31 207.49h1.33v1.33h-1.33zM204.97 207.49h1.33v1.33h-1.33zM193.00 206.16h1.33v1.33h-1.33zM195.66 206.16h1.33v1.33h-1.33zM198.32 206.16h1.33v1.33h-1.33zM200.98 206.16h1.33v1.33h-1.33zM203.64 206.16h1.33v1.33h-1.33zM206.30 206.16h0.70v1.33h-0.70zM194.33 204.83h1.33v1.33h-1.33zM196.99 204.83h1.33v1.33h-1.33zM199.65 204.83h1.33v1.33h-1.33zM202.31 204.83h1.33v1.33h-1.33zM204.97 204.83h1.33v1.33h-1.33zM193.00 203.50h1.33v1.33h-1.33zM195.66 203.50h1.33v1.33h-1.33zM198.32 203.50h1.33v1.33h-1.33zM200.98 203.50h1.33v1.33h-1.33zM203.64 203.50h1.33v1.33h-1.33zM206.30 203.50h0.70v1.33h-0.70zM194.33 202.17h1.33v1.33h-1.33zM196.99 202.17h1.33v1.33h-1.33zM199.65 202.17h1.33v1.33h-1.33zM202.31 202.17h1.33v1.33h-1.33zM204.97 202.17h1.33v1.33h-1.33zM193.00 200.84h1.33v1.33h-1.33zM195.66 200.84h1.33v1.33h-1.33zM198.32 200.84h1.33v1.33h-1.33zM200.98 200.84h1.33v1.33h-1.33zM203.64 200.84h1.33v1.33h-1.33zM206.30 200.84h0.70v1.33h-0.70zM194.33 199.51h1.33v1.33h-1.33zM196.99 199.51h1.33v1.33h-1.33zM199.65 199.51h1.33v1.33h-1.33zM202.31 199.51h1.33v1.33h-1.33zM204.97 199.51h1.33v1.33h-1.33zM193.00 198.18h1.33v1.33h-1.33zM195.66 198.18h1.33v1.33h-1.33zM198.32 198.18h1.33v1.33h-1.33zM200.98 198.18h1.33v1.33h-1.33zM203.64 198.18h1.33v1.33h-1.33zM206.30 198.18h0.70v1.33h-0.70zM194.33 196.85h1.33v1.33h-1.33zM196.99 196.85h1.33v1.33h-1.33zM199.65 196.85h1.33v1.33h-1.33zM202.31 196.85h1.33v1.33h-1.33zM204.97 196.85h1.33v1.33h-1.33zM193.00 195.52h1.33v1.33h-1.33zM195.66 195.52h1.33v1.33h-1.33zM198.32 195.52h1.33v1.33h-1.33zM200.98 195.52h1.33v1.33h-1.33zM203.64 195.52h1.33v1.33h-1.33zM206.30 195.52h0.70v1.33h-0.70zM194.33 194.19h1.33v1.33h-1.33zM196.99 194.19h1.33v1.33h-1.33zM199.65 194.19h1.33v1.33h-1.33zM202.31 194.19h1.33v1.33h-1.33zM204.97 194.19h1.33v1.33h-1.33zM193.00 192.86h1.33v1.33h-1.33zM195.66 192.86h1.33v1.33h-1.33zM198.32 192.86h1.33v1.33h-1.33zM200.98 192.86h1.33v1.33h-1.33zM203.64 192.86h1.33v1.33h-1.33zM206.30 192.86h0.70v1.33h-0.70zM194.33 191.53h1.33v1.33h-1.33zM196.99 191.53h1.33v1.33h-1.33zM199.65 191.53h1.33v1.33h-1.33zM202.31 191.53h1.33v1.33h-1.33zM204.97 191.53h1.33v1.33h-1.33zM193.00 190.20h1.33v1.33h-1.33zM195.66 190.20h1.33v1.33h-1.33zM198.32 190.20h1.33v1.33h-1.33zM200.98 190.20h1.33v1.33h-1.33zM203.64 190.20h1.33v1.33h-1.33zM206.30 190.20h0.70v1.33h-0.70zM194.33 188.87h1.33v1.33h-1.33zM196.99 188.87h1.33v1.33h-1.33zM199.65 188.87h1.33v1.33h-1.33zM202.31 188.87h1.33v1.33h-1.33zM204.97 188.87h1.33v1.33h-1.33zM193.00 187.54h1.33v1.33h-1.33zM195.66 187.54h1.33v1.33h-1.33zM198.32 187.54h1.33v1.33h-1.33zM200.98 187.54h1.33v1.33h-1.33zM203.64 187.54h1.33v1.33h-1.33zM206.30 187.54h0.70v1.33h-0.70zM194.33 186.21h1.33v1.33h-1.33zM196.99 186.21h1.33v1.33h-1.33zM199.65 186.21h1.33v1.33h-1.33zM202.31 186.21h1.33v1.33h-1.33zM204.97 186.21h1.33v1.33h-1.33zM193.00 184.88h1.33v1.33h-1.33zM195.66 184.88h1.33v1.33h-1.33zM198.32 184.88h1.33v1.33h-1.33zM200.98 184.88h1.33v1.33h-1.33zM203.64 184.88h1.33v1.33h-1.33zM206.30 184.88h0.70v1.33h-0.70zM194.33 183.55h1.33v1.33h-1.33zM196.99 183.55h1.33v1.33h-1.33zM199.65 183.55h1.33v1.33h-1.33zM202.31 183.55h1.33v1.33h-1.33zM204.97 183.55h1.33v1.33h-1.33zM193.00 182.22h1.33v1.33h-1.33zM195.66 182.22h1.33v1.33h-1.33zM198.32 182.22h1.33v1.33h-1.33zM200.98 182.22h1.33v1.33h-1.33zM203.64 182.22h1.33v1.33h-1.33zM206.30 182.22h0.70v1.33h-0.70zM194.33 180.89h1.33v1.33h-1.33zM196.99 180.89h1.33v1.33h-1.33zM199.65 180.89h1.33v1.33h-1.33zM202.31 180.89h1.33v1.33h-1.33zM204.97 180.89h1.33v1.33h-1.33zM193.00 179.56h1.33v1.33h-1.33zM195.66 179.56h1.33v1.33h-1.33zM198.32 179.56h1.33v1.33h-1.33zM200.98 179.56h1.33v1.33h-1.33zM203.64 179.56h1.33v1.33h-1.33zM206.30 179.56h0.70v1.33h-0.70zM194.33 178.23h1.33v1.33h-1.33zM196.99 178.23h1.33v1.33h-1.33zM199.65 178.23h1.33v1.33h-1.33zM202.31 178.23h1.33v1.33h-1.33zM204.97 178.23h1.33v1.33h-1.33zM193.00 176.90h1.33v1.33h-1.33zM195.66 176.90h1.33v1.33h-1.33zM198.32 176.90h1.33v1.33h-1.33zM200.98 176.90h1.33v1.33h-1.33zM203.64 176.90h1.33v1.33h-1.33zM206.30 176.90h0.70v1.33h-0.70zM194.33 175.57h1.33v1.33h-1.33zM196.99 175.57h1.33v1.33h-1.33zM199.65 175.57h1.33v1.33h-1.33zM202.31 175.57h1.33v1.33h-1.33zM204.97 175.57h1.33v1.33h-1.33zM193.00 174.24h1.33v1.33h-1.33zM195.66 174.24h1.33v1.33h-1.33zM198.32 174.24h1.33v1.33h-1.33zM200.98 174.24h1.33v1.33h-1.33zM203.64 174.24h1.33v1.33h-1.33zM206.30 174.24h0.70v1.33h-0.70zM194.33 172.91h1.33v1.33h-1.33zM196.99 172.91h1.33v1.33h-1.33zM199.65 172.91h1.33v1.33h-1.33zM202.31 172.91h1.33v1.33h-1.33zM204.97 172.91h1.33v1.33h-1.33zM193.00 171.58h1.33v1.33h-1.33zM195.66 171.58h1.33v1.33h-1.33zM198.32 171.58h1.33v1.33h-1.33zM200.98 171.58h1.33v1.33h-1.33zM203.64 171.58h1.33v1.33h-1.33zM206.30 171.58h0.70v1.33h-0.70zM194.33 170.25h1.33v1.33h-1.33zM196.99 170.25h1.33v1.33h-1.33zM199.65 170.25h1.33v1.33h-1.33zM202.31 170.25h1.33v1.33h-1.33zM204.97 170.25h1.33v1.33h-1.33zM193.00 168.92h1.33v1.33h-1.33zM195.66 168.92h1.33v1.33h-1.33zM198.32 168.92h1.33v1.33h-1.33zM200.98 168.92h1.33v1.33h-1.33zM203.64 168.92h1.33v1.33h-1.33zM206.30 168.92h0.70v1.33h-0.70zM194.33 167.59h1.33v1.33h-1.33zM196.99 167.59h1.33v1.33h-1.33zM199.65 167.59h1.33v1.33h-1.33zM202.31 167.59h1.33v1.33h-1.33zM204.97 167.59h1.33v1.33h-1.33zM193.00 166.26h1.33v1.33h-1.33zM195.66 166.26h1.33v1.33h-1.33zM198.32 166.26h1.33v1.33h-1.33zM200.98 166.26h1.33v1.33h-1.33zM203.64 166.26h1.33v1.33h-1.33zM206.30 166.26h0.70v1.33h-0.70zM194.33 164.93h1.33v1.33h-1.33zM196.99 164.93h1.33v1.33h-1.33zM199.65 164.93h1.33v1.33h-1.33zM202.31 164.93h1.33v1.33h-1.33zM204.97 164.93h1.33v1.33h-1.33zM193.00 163.60h1.33v1.33h-1.33zM195.66 163.60h1.33v1.33h-1.33zM198.32 163.60h1.33v1.33h-1.33zM200.98 163.60h1.33v1.33h-1.33zM203.64 163.60h1.33v1.33h-1.33zM206.30 163.60h0.70v1.33h-0.70zM194.33 162.27h1.33v1.33h-1.33zM196.99 162.27h1.33v1.33h-1.33zM199.65 162.27h1.33v1.33h-1.33zM202.31 162.27h1.33v1.33h-1.33zM204.97 162.27h1.33v1.33h-1.33zM193.00 160.94h1.33v1.33h-1.33zM195.66 160.94h1.33v1.33h-1.33zM198.32 160.94h1.33v1.33h-1.33zM200.98 160.94h1.33v1.33h-1.33zM203.64 160.94h1.33v1.33h-1.33zM206.30 160.94h0.70v1.33h-0.70zM194.33 159.61h1.33v1.33h-1.33zM196.99 159.61h1.33v1.33h-1.33zM199.65 159.61h1.33v1.33h-1.33zM202.31 159.61h1.33v1.33h-1.33zM204.97 159.61h1.33v1.33h-1.33zM193.00 158.28h1.33v1.33h-1.33zM195.66 158.28h1.33v1.33h-1.33zM198.32 158.28h1.33v1.33h-1.33zM200.98 158.28h1.33v1.33h-1.33zM203.64 158.28h1.33v1.33h-1.33zM206.30 158.28h0.70v1.33h-0.70zM194.33 156.95h1.33v1.33h-1.33zM196.99 156.95h1.33v1.33h-1.33zM199.65 156.95h1.33v1.33h-1.33zM202.31 156.95h1.33v1.33h-1.33zM204.97 156.95h1.33v1.33h-1.33zM193.00 155.62h1.33v1.33h-1.33zM195.66 155.62h1.33v1.33h-1.33zM198.32 155.62h1.33v1.33h-1.33zM200.98 155.62h1.33v1.33h-1.33zM203.64 155.62h1.33v1.33h-1.33zM206.30 155.62h0.70v1.33h-0.70zM194.33 154.29h1.33v1.33h-1.33zM196.99 154.29h1.33v1.33h-1.33zM199.65 154.29h1.33v1.33h-1.33zM202.31 154.29h1.33v1.33h-1.33zM204.97 154.29h1.33v1.33h-1.33zM193.00 152.96h1.33v1.33h-1.33zM195.66 152.96h1.33v1.33h-1.33zM198.32 152.96h1.33v1.33h-1.33zM200.98 152.96h1.33v1.33h-1.33zM203.64 152.96h1.33v1.33h-1.33zM206.30 152.96h0.70v1.33h-0.70zM194.33 151.63h1.33v1.33h-1.33zM196.99 151.63h1.33v1.33h-1.33zM199.65 151.63h1.33v1.33h-1.33zM202.31 151.63h1.33v1.33h-1.33zM204.97 151.63h1.33v1.33h-1.33zM193.00 150.30h1.33v1.33h-1.33zM195.66 150.30h1.33v1.33h-1.33zM198.32 150.30h1.33v1.33h-1.33zM200.98 150.30h1.33v1.33h-1.33zM203.64 150.30h1.33v1.33h-1.33zM206.30 150.30h0.70v1.33h-0.70zM194.33 148.97h1.33v1.33h-1.33zM196.99 148.97h1.33v1.33h-1.33zM199.65 148.97h1.33v1.33h-1.33zM202.31 148.97h1.33v1.33h-1.33zM204.97 148.97h1.33v1.33h-1.33zM193.00 147.64h1.33v1.33h-1.33zM195.66 147.64h1.33v1.33h-1.33zM198.32 147.64h1.33v1.33h-1.33zM200.98 147.64h1.33v1.33h-1.33zM203.64 147.64h1.33v1.33h-1.33zM206.30 147.64h0.70v1.33h-0.70zM194.33 146.31h1.33v1.33h-1.33zM196.99 146.31h1.33v1.33h-1.33zM199.65 146.31h1.33v1.33h-1.33zM202.31 146.31h1.33v1.33h-1.33zM204.97 146.31h1.33v1.33h-1.33z" fill="#2a2a2a"/>
<rect x="192.50" y="145.50" width="15.00" height="191.00" fill="none" stroke="#111" stroke-width="1.2"/>
<line x1="200.50" y1="145.00" x2="200.50" y2="132.50" stroke="#111" stroke-width="1.2"/>
<line x1="197.10" y1="132.50" x2="203.90" y2="132.50" stroke="#111" stroke-width="1.2"/>
<text x="199.80" y="128.90" font-size="20.5" text-anchor="middle">a</text>
<rect x="210.50" y="256.50" width="15.00" height="80.00" fill="url(#pb)" stroke="#111" stroke-width="1.2"/>
<line x1="218.50" y1="256.00" x2="218.50" y2="248.50" stroke="#111" stroke-width="1.2"/>
<line x1="215.10" y1="248.50" x2="221.90" y2="248.50" stroke="#111" stroke-width="1.2"/>
<text x="218.80" y="244.00" font-size="20.5" text-anchor="middle">a</text>
<rect x="229.50" y="275.50" width="15.00" height="61.00" fill="url(#pc1)" stroke="#111" stroke-width="1.2"/>
<line x1="237.50" y1="275.00" x2="237.50" y2="264.50" stroke="#111" stroke-width="1.2"/>
<line x1="234.10" y1="264.50" x2="240.90" y2="264.50" stroke="#111" stroke-width="1.2"/>
<text x="236.70" y="261.40" font-size="20.5" text-anchor="middle">a</text>
<rect x="247.50" y="64.50" width="15.00" height="272.00" fill="#fff" stroke="#111" stroke-width="1.2"/>
<line x1="255.50" y1="64.00" x2="255.50" y2="43.50" stroke="#111" stroke-width="1.2"/>
<line x1="252.10" y1="43.50" x2="258.90" y2="43.50" stroke="#111" stroke-width="1.2"/>
<text x="256.30" y="38.80" font-size="20.5" text-anchor="middle">a</text>
<rect x="293.50" y="180.50" width="15.00" height="156.00" fill="#e8e8e8"/>
<path d="M294.00 333.84h1.33v1.33h-1.33zM296.66 333.84h1.33v1.33h-1.33zM299.32 333.84h1.33v1.33h-1.33zM301.98 333.84h1.33v1.33h-1.33zM304.64 333.84h1.33v1.33h-1.33zM307.30 333.84h0.70v1.33h-0.70zM295.33 332.51h1.33v1.33h-1.33zM297.99 332.51h1.33v1.33h-1.33zM300.65 332.51h1.33v1.33h-1.33zM303.31 332.51h1.33v1.33h-1.33zM305.97 332.51h1.33v1.33h-1.33zM294.00 331.18h1.33v1.33h-1.33zM296.66 331.18h1.33v1.33h-1.33zM299.32 331.18h1.33v1.33h-1.33zM301.98 331.18h1.33v1.33h-1.33zM304.64 331.18h1.33v1.33h-1.33zM307.30 331.18h0.70v1.33h-0.70zM295.33 329.85h1.33v1.33h-1.33zM297.99 329.85h1.33v1.33h-1.33zM300.65 329.85h1.33v1.33h-1.33zM303.31 329.85h1.33v1.33h-1.33zM305.97 329.85h1.33v1.33h-1.33zM294.00 328.52h1.33v1.33h-1.33zM296.66 328.52h1.33v1.33h-1.33zM299.32 328.52h1.33v1.33h-1.33zM301.98 328.52h1.33v1.33h-1.33zM304.64 328.52h1.33v1.33h-1.33zM307.30 328.52h0.70v1.33h-0.70zM295.33 327.19h1.33v1.33h-1.33zM297.99 327.19h1.33v1.33h-1.33zM300.65 327.19h1.33v1.33h-1.33zM303.31 327.19h1.33v1.33h-1.33zM305.97 327.19h1.33v1.33h-1.33zM294.00 325.86h1.33v1.33h-1.33zM296.66 325.86h1.33v1.33h-1.33zM299.32 325.86h1.33v1.33h-1.33zM301.98 325.86h1.33v1.33h-1.33zM304.64 325.86h1.33v1.33h-1.33zM307.30 325.86h0.70v1.33h-0.70zM295.33 324.53h1.33v1.33h-1.33zM297.99 324.53h1.33v1.33h-1.33zM300.65 324.53h1.33v1.33h-1.33zM303.31 324.53h1.33v1.33h-1.33zM305.97 324.53h1.33v1.33h-1.33zM294.00 323.20h1.33v1.33h-1.33zM296.66 323.20h1.33v1.33h-1.33zM299.32 323.20h1.33v1.33h-1.33zM301.98 323.20h1.33v1.33h-1.33zM304.64 323.20h1.33v1.33h-1.33zM307.30 323.20h0.70v1.33h-0.70zM295.33 321.87h1.33v1.33h-1.33zM297.99 321.87h1.33v1.33h-1.33zM300.65 321.87h1.33v1.33h-1.33zM303.31 321.87h1.33v1.33h-1.33zM305.97 321.87h1.33v1.33h-1.33zM294.00 320.54h1.33v1.33h-1.33zM296.66 320.54h1.33v1.33h-1.33zM299.32 320.54h1.33v1.33h-1.33zM301.98 320.54h1.33v1.33h-1.33zM304.64 320.54h1.33v1.33h-1.33zM307.30 320.54h0.70v1.33h-0.70zM295.33 319.21h1.33v1.33h-1.33zM297.99 319.21h1.33v1.33h-1.33zM300.65 319.21h1.33v1.33h-1.33zM303.31 319.21h1.33v1.33h-1.33zM305.97 319.21h1.33v1.33h-1.33zM294.00 317.88h1.33v1.33h-1.33zM296.66 317.88h1.33v1.33h-1.33zM299.32 317.88h1.33v1.33h-1.33zM301.98 317.88h1.33v1.33h-1.33zM304.64 317.88h1.33v1.33h-1.33zM307.30 317.88h0.70v1.33h-0.70zM295.33 316.55h1.33v1.33h-1.33zM297.99 316.55h1.33v1.33h-1.33zM300.65 316.55h1.33v1.33h-1.33zM303.31 316.55h1.33v1.33h-1.33zM305.97 316.55h1.33v1.33h-1.33zM294.00 315.22h1.33v1.33h-1.33zM296.66 315.22h1.33v1.33h-1.33zM299.32 315.22h1.33v1.33h-1.33zM301.98 315.22h1.33v1.33h-1.33zM304.64 315.22h1.33v1.33h-1.33zM307.30 315.22h0.70v1.33h-0.70zM295.33 313.89h1.33v1.33h-1.33zM297.99 313.89h1.33v1.33h-1.33zM300.65 313.89h1.33v1.33h-1.33zM303.31 313.89h1.33v1.33h-1.33zM305.97 313.89h1.33v1.33h-1.33zM294.00 312.56h1.33v1.33h-1.33zM296.66 312.56h1.33v1.33h-1.33zM299.32 312.56h1.33v1.33h-1.33zM301.98 312.56h1.33v1.33h-1.33zM304.64 312.56h1.33v1.33h-1.33zM307.30 312.56h0.70v1.33h-0.70zM295.33 311.23h1.33v1.33h-1.33zM297.99 311.23h1.33v1.33h-1.33zM300.65 311.23h1.33v1.33h-1.33zM303.31 311.23h1.33v1.33h-1.33zM305.97 311.23h1.33v1.33h-1.33zM294.00 309.90h1.33v1.33h-1.33zM296.66 309.90h1.33v1.33h-1.33zM299.32 309.90h1.33v1.33h-1.33zM301.98 309.90h1.33v1.33h-1.33zM304.64 309.90h1.33v1.33h-1.33zM307.30 309.90h0.70v1.33h-0.70zM295.33 308.57h1.33v1.33h-1.33zM297.99 308.57h1.33v1.33h-1.33zM300.65 308.57h1.33v1.33h-1.33zM303.31 308.57h1.33v1.33h-1.33zM305.97 308.57h1.33v1.33h-1.33zM294.00 307.24h1.33v1.33h-1.33zM296.66 307.24h1.33v1.33h-1.33zM299.32 307.24h1.33v1.33h-1.33zM301.98 307.24h1.33v1.33h-1.33zM304.64 307.24h1.33v1.33h-1.33zM307.30 307.24h0.70v1.33h-0.70zM295.33 305.91h1.33v1.33h-1.33zM297.99 305.91h1.33v1.33h-1.33zM300.65 305.91h1.33v1.33h-1.33zM303.31 305.91h1.33v1.33h-1.33zM305.97 305.91h1.33v1.33h-1.33zM294.00 304.58h1.33v1.33h-1.33zM296.66 304.58h1.33v1.33h-1.33zM299.32 304.58h1.33v1.33h-1.33zM301.98 304.58h1.33v1.33h-1.33zM304.64 304.58h1.33v1.33h-1.33zM307.30 304.58h0.70v1.33h-0.70zM295.33 303.25h1.33v1.33h-1.33zM297.99 303.25h1.33v1.33h-1.33zM300.65 303.25h1.33v1.33h-1.33zM303.31 303.25h1.33v1.33h-1.33zM305.97 303.25h1.33v1.33h-1.33zM294.00 301.92h1.33v1.33h-1.33zM296.66 301.92h1.33v1.33h-1.33zM299.32 301.92h1.33v1.33h-1.33zM301.98 301.92h1.33v1.33h-1.33zM304.64 301.92h1.33v1.33h-1.33zM307.30 301.92h0.70v1.33h-0.70zM295.33 300.59h1.33v1.33h-1.33zM297.99 300.59h1.33v1.33h-1.33zM300.65 300.59h1.33v1.33h-1.33zM303.31 300.59h1.33v1.33h-1.33zM305.97 300.59h1.33v1.33h-1.33zM294.00 299.26h1.33v1.33h-1.33zM296.66 299.26h1.33v1.33h-1.33zM299.32 299.26h1.33v1.33h-1.33zM301.98 299.26h1.33v1.33h-1.33zM304.64 299.26h1.33v1.33h-1.33zM307.30 299.26h0.70v1.33h-0.70zM295.33 297.93h1.33v1.33h-1.33zM297.99 297.93h1.33v1.33h-1.33zM300.65 297.93h1.33v1.33h-1.33zM303.31 297.93h1.33v1.33h-1.33zM305.97 297.93h1.33v1.33h-1.33zM294.00 296.60h1.33v1.33h-1.33zM296.66 296.60h1.33v1.33h-1.33zM299.32 296.60h1.33v1.33h-1.33zM301.98 296.60h1.33v1.33h-1.33zM304.64 296.60h1.33v1.33h-1.33zM307.30 296.60h0.70v1.33h-0.70zM295.33 295.27h1.33v1.33h-1.33zM297.99 295.27h1.33v1.33h-1.33zM300.65 295.27h1.33v1.33h-1.33zM303.31 295.27h1.33v1.33h-1.33zM305.97 295.27h1.33v1.33h-1.33zM294.00 293.94h1.33v1.33h-1.33zM296.66 293.94h1.33v1.33h-1.33zM299.32 293.94h1.33v1.33h-1.33zM301.98 293.94h1.33v1.33h-1.33zM304.64 293.94h1.33v1.33h-1.33zM307.30 293.94h0.70v1.33h-0.70zM295.33 292.61h1.33v1.33h-1.33zM297.99 292.61h1.33v1.33h-1.33zM300.65 292.61h1.33v1.33h-1.33zM303.31 292.61h1.33v1.33h-1.33zM305.97 292.61h1.33v1.33h-1.33zM294.00 291.28h1.33v1.33h-1.33zM296.66 291.28h1.33v1.33h-1.33zM299.32 291.28h1.33v1.33h-1.33zM301.98 291.28h1.33v1.33h-1.33zM304.64 291.28h1.33v1.33h-1.33zM307.30 291.28h0.70v1.33h-0.70zM295.33 289.95h1.33v1.33h-1.33zM297.99 289.95h1.33v1.33h-1.33zM300.65 289.95h1.33v1.33h-1.33zM303.31 289.95h1.33v1.33h-1.33zM305.97 289.95h1.33v1.33h-1.33zM294.00 288.62h1.33v1.33h-1.33zM296.66 288.62h1.33v1.33h-1.33zM299.32 288.62h1.33v1.33h-1.33zM301.98 288.62h1.33v1.33h-1.33zM304.64 288.62h1.33v1.33h-1.33zM307.30 288.62h0.70v1.33h-0.70zM295.33 287.29h1.33v1.33h-1.33zM297.99 287.29h1.33v1.33h-1.33zM300.65 287.29h1.33v1.33h-1.33zM303.31 287.29h1.33v1.33h-1.33zM305.97 287.29h1.33v1.33h-1.33zM294.00 285.96h1.33v1.33h-1.33zM296.66 285.96h1.33v1.33h-1.33zM299.32 285.96h1.33v1.33h-1.33zM301.98 285.96h1.33v1.33h-1.33zM304.64 285.96h1.33v1.33h-1.33zM307.30 285.96h0.70v1.33h-0.70zM295.33 284.63h1.33v1.33h-1.33zM297.99 284.63h1.33v1.33h-1.33zM300.65 284.63h1.33v1.33h-1.33zM303.31 284.63h1.33v1.33h-1.33zM305.97 284.63h1.33v1.33h-1.33zM294.00 283.30h1.33v1.33h-1.33zM296.66 283.30h1.33v1.33h-1.33zM299.32 283.30h1.33v1.33h-1.33zM301.98 283.30h1.33v1.33h-1.33zM304.64 283.30h1.33v1.33h-1.33zM307.30 283.30h0.70v1.33h-0.70zM295.33 281.97h1.33v1.33h-1.33zM297.99 281.97h1.33v1.33h-1.33zM300.65 281.97h1.33v1.33h-1.33zM303.31 281.97h1.33v1.33h-1.33zM305.97 281.97h1.33v1.33h-1.33zM294.00 280.64h1.33v1.33h-1.33zM296.66 280.64h1.33v1.33h-1.33zM299.32 280.64h1.33v1.33h-1.33zM301.98 280.64h1.33v1.33h-1.33zM304.64 280.64h1.33v1.33h-1.33zM307.30 280.64h0.70v1.33h-0.70zM295.33 279.31h1.33v1.33h-1.33zM297.99 279.31h1.33v1.33h-1.33zM300.65 279.31h1.33v1.33h-1.33zM303.31 279.31h1.33v1.33h-1.33zM305.97 279.31h1.33v1.33h-1.33zM294.00 277.98h1.33v1.33h-1.33zM296.66 277.98h1.33v1.33h-1.33zM299.32 277.98h1.33v1.33h-1.33zM301.98 277.98h1.33v1.33h-1.33zM304.64 277.98h1.33v1.33h-1.33zM307.30 277.98h0.70v1.33h-0.70zM295.33 276.65h1.33v1.33h-1.33zM297.99 276.65h1.33v1.33h-1.33zM300.65 276.65h1.33v1.33h-1.33zM303.31 276.65h1.33v1.33h-1.33zM305.97 276.65h1.33v1.33h-1.33zM294.00 275.32h1.33v1.33h-1.33zM296.66 275.32h1.33v1.33h-1.33zM299.32 275.32h1.33v1.33h-1.33zM301.98 275.32h1.33v1.33h-1.33zM304.64 275.32h1.33v1.33h-1.33zM307.30 275.32h0.70v1.33h-0.70zM295.33 273.99h1.33v1.33h-1.33zM297.99 273.99h1.33v1.33h-1.33zM300.65 273.99h1.33v1.33h-1.33zM303.31 273.99h1.33v1.33h-1.33zM305.97 273.99h1.33v1.33h-1.33zM294.00 272.66h1.33v1.33h-1.33zM296.66 272.66h1.33v1.33h-1.33zM299.32 272.66h1.33v1.33h-1.33zM301.98 272.66h1.33v1.33h-1.33zM304.64 272.66h1.33v1.33h-1.33zM307.30 272.66h0.70v1.33h-0.70zM295.33 271.33h1.33v1.33h-1.33zM297.99 271.33h1.33v1.33h-1.33zM300.65 271.33h1.33v1.33h-1.33zM303.31 271.33h1.33v1.33h-1.33zM305.97 271.33h1.33v1.33h-1.33zM294.00 270.00h1.33v1.33h-1.33zM296.66 270.00h1.33v1.33h-1.33zM299.32 270.00h1.33v1.33h-1.33zM301.98 270.00h1.33v1.33h-1.33zM304.64 270.00h1.33v1.33h-1.33zM307.30 270.00h0.70v1.33h-0.70zM295.33 268.67h1.33v1.33h-1.33zM297.99 268.67h1.33v1.33h-1.33zM300.65 268.67h1.33v1.33h-1.33zM303.31 268.67h1.33v1.33h-1.33zM305.97 268.67h1.33v1.33h-1.33zM294.00 267.34h1.33v1.33h-1.33zM296.66 267.34h1.33v1.33h-1.33zM299.32 267.34h1.33v1.33h-1.33zM301.98 267.34h1.33v1.33h-1.33zM304.64 267.34h1.33v1.33h-1.33zM307.30 267.34h0.70v1.33h-0.70zM295.33 266.01h1.33v1.33h-1.33zM297.99 266.01h1.33v1.33h-1.33zM300.65 266.01h1.33v1.33h-1.33zM303.31 266.01h1.33v1.33h-1.33zM305.97 266.01h1.33v1.33h-1.33zM294.00 264.68h1.33v1.33h-1.33zM296.66 264.68h1.33v1.33h-1.33zM299.32 264.68h1.33v1.33h-1.33zM301.98 264.68h1.33v1.33h-1.33zM304.64 264.68h1.33v1.33h-1.33zM307.30 264.68h0.70v1.33h-0.70zM295.33 263.35h1.33v1.33h-1.33zM297.99 263.35h1.33v1.33h-1.33zM300.65 263.35h1.33v1.33h-1.33zM303.31 263.35h1.33v1.33h-1.33zM305.97 263.35h1.33v1.33h-1.33zM294.00 262.02h1.33v1.33h-1.33zM296.66 262.02h1.33v1.33h-1.33zM299.32 262.02h1.33v1.33h-1.33zM301.98 262.02h1.33v1.33h-1.33zM304.64 262.02h1.33v1.33h-1.33zM307.30 262.02h0.70v1.33h-0.70zM295.33 260.69h1.33v1.33h-1.33zM297.99 260.69h1.33v1.33h-1.33zM300.65 260.69h1.33v1.33h-1.33zM303.31 260.69h1.33v1.33h-1.33zM305.97 260.69h1.33v1.33h-1.33zM294.00 259.36h1.33v1.33h-1.33zM296.66 259.36h1.33v1.33h-1.33zM299.32 259.36h1.33v1.33h-1.33zM301.98 259.36h1.33v1.33h-1.33zM304.64 259.36h1.33v1.33h-1.33zM307.30 259.36h0.70v1.33h-0.70zM295.33 258.03h1.33v1.33h-1.33zM297.99 258.03h1.33v1.33h-1.33zM300.65 258.03h1.33v1.33h-1.33zM303.31 258.03h1.33v1.33h-1.33zM305.97 258.03h1.33v1.33h-1.33zM294.00 256.70h1.33v1.33h-1.33zM296.66 256.70h1.33v1.33h-1.33zM299.32 256.70h1.33v1.33h-1.33zM301.98 256.70h1.33v1.33h-1.33zM304.64 256.70h1.33v1.33h-1.33zM307.30 256.70h0.70v1.33h-0.70zM295.33 255.37h1.33v1.33h-1.33zM297.99 255.37h1.33v1.33h-1.33zM300.65 255.37h1.33v1.33h-1.33zM303.31 255.37h1.33v1.33h-1.33zM305.97 255.37h1.33v1.33h-1.33zM294.00 254.04h1.33v1.33h-1.33zM296.66 254.04h1.33v1.33h-1.33zM299.32 254.04h1.33v1.33h-1.33zM301.98 254.04h1.33v1.33h-1.33zM304.64 254.04h1.33v1.33h-1.33zM307.30 254.04h0.70v1.33h-0.70zM295.33 252.71h1.33v1.33h-1.33zM297.99 252.71h1.33v1.33h-1.33zM300.65 252.71h1.33v1.33h-1.33zM303.31 252.71h1.33v1.33h-1.33zM305.97 252.71h1.33v1.33h-1.33zM294.00 251.38h1.33v1.33h-1.33zM296.66 251.38h1.33v1.33h-1.33zM299.32 251.38h1.33v1.33h-1.33zM301.98 251.38h1.33v1.33h-1.33zM304.64 251.38h1.33v1.33h-1.33zM307.30 251.38h0.70v1.33h-0.70zM295.33 250.05h1.33v1.33h-1.33zM297.99 250.05h1.33v1.33h-1.33zM300.65 250.05h1.33v1.33h-1.33zM303.31 250.05h1.33v1.33h-1.33zM305.97 250.05h1.33v1.33h-1.33zM294.00 248.72h1.33v1.33h-1.33zM296.66 248.72h1.33v1.33h-1.33zM299.32 248.72h1.33v1.33h-1.33zM301.98 248.72h1.33v1.33h-1.33zM304.64 248.72h1.33v1.33h-1.33zM307.30 248.72h0.70v1.33h-0.70zM295.33 247.39h1.33v1.33h-1.33zM297.99 247.39h1.33v1.33h-1.33zM300.65 247.39h1.33v1.33h-1.33zM303.31 247.39h1.33v1.33h-1.33zM305.97 247.39h1.33v1.33h-1.33zM294.00 246.06h1.33v1.33h-1.33zM296.66 246.06h1.33v1.33h-1.33zM299.32 246.06h1.33v1.33h-1.33zM301.98 246.06h1.33v1.33h-1.33zM304.64 246.06h1.33v1.33h-1.33zM307.30 246.06h0.70v1.33h-0.70zM295.33 244.73h1.33v1.33h-1.33zM297.99 244.73h1.33v1.33h-1.33zM300.65 244.73h1.33v1.33h-1.33zM303.31 244.73h1.33v1.33h-1.33zM305.97 244.73h1.33v1.33h-1.33zM294.00 243.40h1.33v1.33h-1.33zM296.66 243.40h1.33v1.33h-1.33zM299.32 243.40h1.33v1.33h-1.33zM301.98 243.40h1.33v1.33h-1.33zM304.64 243.40h1.33v1.33h-1.33zM307.30 243.40h0.70v1.33h-0.70zM295.33 242.07h1.33v1.33h-1.33zM297.99 242.07h1.33v1.33h-1.33zM300.65 242.07h1.33v1.33h-1.33zM303.31 242.07h1.33v1.33h-1.33zM305.97 242.07h1.33v1.33h-1.33zM294.00 240.74h1.33v1.33h-1.33zM296.66 240.74h1.33v1.33h-1.33zM299.32 240.74h1.33v1.33h-1.33zM301.98 240.74h1.33v1.33h-1.33zM304.64 240.74h1.33v1.33h-1.33zM307.30 240.74h0.70v1.33h-0.70zM295.33 239.41h1.33v1.33h-1.33zM297.99 239.41h1.33v1.33h-1.33zM300.65 239.41h1.33v1.33h-1.33zM303.31 239.41h1.33v1.33h-1.33zM305.97 239.41h1.33v1.33h-1.33zM294.00 238.08h1.33v1.33h-1.33zM296.66 238.08h1.33v1.33h-1.33zM299.32 238.08h1.33v1.33h-1.33zM301.98 238.08h1.33v1.33h-1.33zM304.64 238.08h1.33v1.33h-1.33zM307.30 238.08h0.70v1.33h-0.70zM295.33 236.75h1.33v1.33h-1.33zM297.99 236.75h1.33v1.33h-1.33zM300.65 236.75h1.33v1.33h-1.33zM303.31 236.75h1.33v1.33h-1.33zM305.97 236.75h1.33v1.33h-1.33zM294.00 235.42h1.33v1.33h-1.33zM296.66 235.42h1.33v1.33h-1.33zM299.32 235.42h1.33v1.33h-1.33zM301.98 235.42h1.33v1.33h-1.33zM304.64 235.42h1.33v1.33h-1.33zM307.30 235.42h0.70v1.33h-0.70zM295.33 234.09h1.33v1.33h-1.33zM297.99 234.09h1.33v1.33h-1.33zM300.65 234.09h1.33v1.33h-1.33zM303.31 234.09h1.33v1.33h-1.33zM305.97 234.09h1.33v1.33h-1.33zM294.00 232.76h1.33v1.33h-1.33zM296.66 232.76h1.33v1.33h-1.33zM299.32 232.76h1.33v1.33h-1.33zM301.98 232.76h1.33v1.33h-1.33zM304.64 232.76h1.33v1.33h-1.33zM307.30 232.76h0.70v1.33h-0.70zM295.33 231.43h1.33v1.33h-1.33zM297.99 231.43h1.33v1.33h-1.33zM300.65 231.43h1.33v1.33h-1.33zM303.31 231.43h1.33v1.33h-1.33zM305.97 231.43h1.33v1.33h-1.33zM294.00 230.10h1.33v1.33h-1.33zM296.66 230.10h1.33v1.33h-1.33zM299.32 230.10h1.33v1.33h-1.33zM301.98 230.10h1.33v1.33h-1.33zM304.64 230.10h1.33v1.33h-1.33zM307.30 230.10h0.70v1.33h-0.70zM295.33 228.77h1.33v1.33h-1.33zM297.99 228.77h1.33v1.33h-1.33zM300.65 228.77h1.33v1.33h-1.33zM303.31 228.77h1.33v1.33h-1.33zM305.97 228.77h1.33v1.33h-1.33zM294.00 227.44h1.33v1.33h-1.33zM296.66 227.44h1.33v1.33h-1.33zM299.32 227.44h1.33v1.33h-1.33zM301.98 227.44h1.33v1.33h-1.33zM304.64 227.44h1.33v1.33h-1.33zM307.30 227.44h0.70v1.33h-0.70zM295.33 226.11h1.33v1.33h-1.33zM297.99 226.11h1.33v1.33h-1.33zM300.65 226.11h1.33v1.33h-1.33zM303.31 226.11h1.33v1.33h-1.33zM305.97 226.11h1.33v1.33h-1.33zM294.00 224.78h1.33v1.33h-1.33zM296.66 224.78h1.33v1.33h-1.33zM299.32 224.78h1.33v1.33h-1.33zM301.98 224.78h1.33v1.33h-1.33zM304.64 224.78h1.33v1.33h-1.33zM307.30 224.78h0.70v1.33h-0.70zM295.33 223.45h1.33v1.33h-1.33zM297.99 223.45h1.33v1.33h-1.33zM300.65 223.45h1.33v1.33h-1.33zM303.31 223.45h1.33v1.33h-1.33zM305.97 223.45h1.33v1.33h-1.33zM294.00 222.12h1.33v1.33h-1.33zM296.66 222.12h1.33v1.33h-1.33zM299.32 222.12h1.33v1.33h-1.33zM301.98 222.12h1.33v1.33h-1.33zM304.64 222.12h1.33v1.33h-1.33zM307.30 222.12h0.70v1.33h-0.70zM295.33 220.79h1.33v1.33h-1.33zM297.99 220.79h1.33v1.33h-1.33zM300.65 220.79h1.33v1.33h-1.33zM303.31 220.79h1.33v1.33h-1.33zM305.97 220.79h1.33v1.33h-1.33zM294.00 219.46h1.33v1.33h-1.33zM296.66 219.46h1.33v1.33h-1.33zM299.32 219.46h1.33v1.33h-1.33zM301.98 219.46h1.33v1.33h-1.33zM304.64 219.46h1.33v1.33h-1.33zM307.30 219.46h0.70v1.33h-0.70zM295.33 218.13h1.33v1.33h-1.33zM297.99 218.13h1.33v1.33h-1.33zM300.65 218.13h1.33v1.33h-1.33zM303.31 218.13h1.33v1.33h-1.33zM305.97 218.13h1.33v1.33h-1.33zM294.00 216.80h1.33v1.33h-1.33zM296.66 216.80h1.33v1.33h-1.33zM299.32 216.80h1.33v1.33h-1.33zM301.98 216.80h1.33v1.33h-1.33zM304.64 216.80h1.33v1.33h-1.33zM307.30 216.80h0.70v1.33h-0.70zM295.33 215.47h1.33v1.33h-1.33zM297.99 215.47h1.33v1.33h-1.33zM300.65 215.47h1.33v1.33h-1.33zM303.31 215.47h1.33v1.33h-1.33zM305.97 215.47h1.33v1.33h-1.33zM294.00 214.14h1.33v1.33h-1.33zM296.66 214.14h1.33v1.33h-1.33zM299.32 214.14h1.33v1.33h-1.33zM301.98 214.14h1.33v1.33h-1.33zM304.64 214.14h1.33v1.33h-1.33zM307.30 214.14h0.70v1.33h-0.70zM295.33 212.81h1.33v1.33h-1.33zM297.99 212.81h1.33v1.33h-1.33zM300.65 212.81h1.33v1.33h-1.33zM303.31 212.81h1.33v1.33h-1.33zM305.97 212.81h1.33v1.33h-1.33zM294.00 211.48h1.33v1.33h-1.33zM296.66 211.48h1.33v1.33h-1.33zM299.32 211.48h1.33v1.33h-1.33zM301.98 211.48h1.33v1.33h-1.33zM304.64 211.48h1.33v1.33h-1.33zM307.30 211.48h0.70v1.33h-0.70zM295.33 210.15h1.33v1.33h-1.33zM297.99 210.15h1.33v1.33h-1.33zM300.65 210.15h1.33v1.33h-1.33zM303.31 210.15h1.33v1.33h-1.33zM305.97 210.15h1.33v1.33h-1.33zM294.00 208.82h1.33v1.33h-1.33zM296.66 208.82h1.33v1.33h-1.33zM299.32 208.82h1.33v1.33h-1.33zM301.98 208.82h1.33v1.33h-1.33zM304.64 208.82h1.33v1.33h-1.33zM307.30 208.82h0.70v1.33h-0.70zM295.33 207.49h1.33v1.33h-1.33zM297.99 207.49h1.33v1.33h-1.33zM300.65 207.49h1.33v1.33h-1.33zM303.31 207.49h1.33v1.33h-1.33zM305.97 207.49h1.33v1.33h-1.33zM294.00 206.16h1.33v1.33h-1.33zM296.66 206.16h1.33v1.33h-1.33zM299.32 206.16h1.33v1.33h-1.33zM301.98 206.16h1.33v1.33h-1.33zM304.64 206.16h1.33v1.33h-1.33zM307.30 206.16h0.70v1.33h-0.70zM295.33 204.83h1.33v1.33h-1.33zM297.99 204.83h1.33v1.33h-1.33zM300.65 204.83h1.33v1.33h-1.33zM303.31 204.83h1.33v1.33h-1.33zM305.97 204.83h1.33v1.33h-1.33zM294.00 203.50h1.33v1.33h-1.33zM296.66 203.50h1.33v1.33h-1.33zM299.32 203.50h1.33v1.33h-1.33zM301.98 203.50h1.33v1.33h-1.33zM304.64 203.50h1.33v1.33h-1.33zM307.30 203.50h0.70v1.33h-0.70zM295.33 202.17h1.33v1.33h-1.33zM297.99 202.17h1.33v1.33h-1.33zM300.65 202.17h1.33v1.33h-1.33zM303.31 202.17h1.33v1.33h-1.33zM305.97 202.17h1.33v1.33h-1.33zM294.00 200.84h1.33v1.33h-1.33zM296.66 200.84h1.33v1.33h-1.33zM299.32 200.84h1.33v1.33h-1.33zM301.98 200.84h1.33v1.33h-1.33zM304.64 200.84h1.33v1.33h-1.33zM307.30 200.84h0.70v1.33h-0.70zM295.33 199.51h1.33v1.33h-1.33zM297.99 199.51h1.33v1.33h-1.33zM300.65 199.51h1.33v1.33h-1.33zM303.31 199.51h1.33v1.33h-1.33zM305.97 199.51h1.33v1.33h-1.33zM294.00 198.18h1.33v1.33h-1.33zM296.66 198.18h1.33v1.33h-1.33zM299.32 198.18h1.33v1.33h-1.33zM301.98 198.18h1.33v1.33h-1.33zM304.64 198.18h1.33v1.33h-1.33zM307.30 198.18h0.70v1.33h-0.70zM295.33 196.85h1.33v1.33h-1.33zM297.99 196.85h1.33v1.33h-1.33zM300.65 196.85h1.33v1.33h-1.33zM303.31 196.85h1.33v1.33h-1.33zM305.97 196.85h1.33v1.33h-1.33zM294.00 195.52h1.33v1.33h-1.33zM296.66 195.52h1.33v1.33h-1.33zM299.32 195.52h1.33v1.33h-1.33zM301.98 195.52h1.33v1.33h-1.33zM304.64 195.52h1.33v1.33h-1.33zM307.30 195.52h0.70v1.33h-0.70zM295.33 194.19h1.33v1.33h-1.33zM297.99 194.19h1.33v1.33h-1.33zM300.65 194.19h1.33v1.33h-1.33zM303.31 194.19h1.33v1.33h-1.33zM305.97 194.19h1.33v1.33h-1.33zM294.00 192.86h1.33v1.33h-1.33zM296.66 192.86h1.33v1.33h-1.33zM299.32 192.86h1.33v1.33h-1.33zM301.98 192.86h1.33v1.33h-1.33zM304.64 192.86h1.33v1.33h-1.33zM307.30 192.86h0.70v1.33h-0.70zM295.33 191.53h1.33v1.33h-1.33zM297.99 191.53h1.33v1.33h-1.33zM300.65 191.53h1.33v1.33h-1.33zM303.31 191.53h1.33v1.33h-1.33zM305.97 191.53h1.33v1.33h-1.33zM294.00 190.20h1.33v1.33h-1.33zM296.66 190.20h1.33v1.33h-1.33zM299.32 190.20h1.33v1.33h-1.33zM301.98 190.20h1.33v1.33h-1.33zM304.64 190.20h1.33v1.33h-1.33zM307.30 190.20h0.70v1.33h-0.70zM295.33 188.87h1.33v1.33h-1.33zM297.99 188.87h1.33v1.33h-1.33zM300.65 188.87h1.33v1.33h-1.33zM303.31 188.87h1.33v1.33h-1.33zM305.97 188.87h1.33v1.33h-1.33zM294.00 187.54h1.33v1.33h-1.33zM296.66 187.54h1.33v1.33h-1.33zM299.32 187.54h1.33v1.33h-1.33zM301.98 187.54h1.33v1.33h-1.33zM304.64 187.54h1.33v1.33h-1.33zM307.30 187.54h0.70v1.33h-0.70zM295.33 186.21h1.33v1.33h-1.33zM297.99 186.21h1.33v1.33h-1.33zM300.65 186.21h1.33v1.33h-1.33zM303.31 186.21h1.33v1.33h-1.33zM305.97 186.21h1.33v1.33h-1.33zM294.00 184.88h1.33v1.33h-1.33zM296.66 184.88h1.33v1.33h-1.33zM299.32 184.88h1.33v1.33h-1.33zM301.98 184.88h1.33v1.33h-1.33zM304.64 184.88h1.33v1.33h-1.33zM307.30 184.88h0.70v1.33h-0.70zM295.33 183.55h1.33v1.33h-1.33zM297.99 183.55h1.33v1.33h-1.33zM300.65 183.55h1.33v1.33h-1.33zM303.31 183.55h1.33v1.33h-1.33zM305.97 183.55h1.33v1.33h-1.33zM294.00 182.22h1.33v1.33h-1.33zM296.66 182.22h1.33v1.33h-1.33zM299.32 182.22h1.33v1.33h-1.33zM301.98 182.22h1.33v1.33h-1.33zM304.64 182.22h1.33v1.33h-1.33zM307.30 182.22h0.70v1.33h-0.70zM295.33 181.00h1.33v1.22h-1.33zM297.99 181.00h1.33v1.22h-1.33zM300.65 181.00h1.33v1.22h-1.33zM303.31 181.00h1.33v1.22h-1.33zM305.97 181.00h1.33v1.22h-1.33z" fill="#2a2a2a"/>
<rect x="293.50" y="180.50" width="15.00" height="156.00" fill="none" stroke="#111" stroke-width="1.2"/>
<line x1="301.50" y1="180.00" x2="301.50" y2="171.50" stroke="#111" stroke-width="1.2"/>
<line x1="298.10" y1="171.50" x2="304.90" y2="171.50" stroke="#111" stroke-width="1.2"/>
<text x="301.40" y="167.30" font-size="20.5" text-anchor="middle">c</text>
<rect x="312.50" y="272.50" width="14.00" height="64.00" fill="url(#pb)" stroke="#111" stroke-width="1.2"/>
<line x1="319.50" y1="272.00" x2="319.50" y2="261.50" stroke="#111" stroke-width="1.2"/>
<line x1="316.10" y1="261.50" x2="322.90" y2="261.50" stroke="#111" stroke-width="1.2"/>
<text x="321.80" y="256.90" font-size="20.5" text-anchor="middle">b</text>
<rect x="331.50" y="285.50" width="14.00" height="51.00" fill="url(#pc2)" stroke="#111" stroke-width="1.2"/>
<line x1="338.50" y1="285.00" x2="338.50" y2="274.50" stroke="#111" stroke-width="1.2"/>
<line x1="335.10" y1="274.50" x2="341.90" y2="274.50" stroke="#111" stroke-width="1.2"/>
<text x="337.70" y="269.20" font-size="20.5" text-anchor="middle">ab</text>
<rect x="349.50" y="114.50" width="14.00" height="222.00" fill="#fff" stroke="#111" stroke-width="1.2"/>
<line x1="356.50" y1="114.00" x2="356.50" y2="96.50" stroke="#111" stroke-width="1.2"/>
<line x1="353.10" y1="96.50" x2="359.90" y2="96.50" stroke="#111" stroke-width="1.2"/>
<text x="357.40" y="92.60" font-size="20.5" text-anchor="middle">c</text>
<rect x="395.50" y="161.50" width="14.00" height="175.00" fill="#e8e8e8"/>
<path d="M396.00 333.84h1.33v1.33h-1.33zM398.66 333.84h1.33v1.33h-1.33zM401.32 333.84h1.33v1.33h-1.33zM403.98 333.84h1.33v1.33h-1.33zM406.64 333.84h1.33v1.33h-1.33zM397.33 332.51h1.33v1.33h-1.33zM399.99 332.51h1.33v1.33h-1.33zM402.65 332.51h1.33v1.33h-1.33zM405.31 332.51h1.33v1.33h-1.33zM407.97 332.51h1.03v1.33h-1.03zM396.00 331.18h1.33v1.33h-1.33zM398.66 331.18h1.33v1.33h-1.33zM401.32 331.18h1.33v1.33h-1.33zM403.98 331.18h1.33v1.33h-1.33zM406.64 331.18h1.33v1.33h-1.33zM397.33 329.85h1.33v1.33h-1.33zM399.99 329.85h1.33v1.33h-1.33zM402.65 329.85h1.33v1.33h-1.33zM405.31 329.85h1.33v1.33h-1.33zM407.97 329.85h1.03v1.33h-1.03zM396.00 328.52h1.33v1.33h-1.33zM398.66 328.52h1.33v1.33h-1.33zM401.32 328.52h1.33v1.33h-1.33zM403.98 328.52h1.33v1.33h-1.33zM406.64 328.52h1.33v1.33h-1.33zM397.33 327.19h1.33v1.33h-1.33zM399.99 327.19h1.33v1.33h-1.33zM402.65 327.19h1.33v1.33h-1.33zM405.31 327.19h1.33v1.33h-1.33zM407.97 327.19h1.03v1.33h-1.03zM396.00 325.86h1.33v1.33h-1.33zM398.66 325.86h1.33v1.33h-1.33zM401.32 325.86h1.33v1.33h-1.33zM403.98 325.86h1.33v1.33h-1.33zM406.64 325.86h1.33v1.33h-1.33zM397.33 324.53h1.33v1.33h-1.33zM399.99 324.53h1.33v1.33h-1.33zM402.65 324.53h1.33v1.33h-1.33zM405.31 324.53h1.33v1.33h-1.33zM407.97 324.53h1.03v1.33h-1.03zM396.00 323.20h1.33v1.33h-1.33zM398.66 323.20h1.33v1.33h-1.33zM401.32 323.20h1.33v1.33h-1.33zM403.98 323.20h1.33v1.33h-1.33zM406.64 323.20h1.33v1.33h-1.33zM397.33 321.87h1.33v1.33h-1.33zM399.99 321.87h1.33v1.33h-1.33zM402.65 321.87h1.33v1.33h-1.33zM405.31 321.87h1.33v1.33h-1.33zM407.97 321.87h1.03v1.33h-1.03zM396.00 320.54h1.33v1.33h-1.33zM398.66 320.54h1.33v1.33h-1.33zM401.32 320.54h1.33v1.33h-1.33zM403.98 320.54h1.33v1.33h-1.33zM406.64 320.54h1.33v1.33h-1.33zM397.33 319.21h1.33v1.33h-1.33zM399.99 319.21h1.33v1.33h-1.33zM402.65 319.21h1.33v1.33h-1.33zM405.31 319.21h1.33v1.33h-1.33zM407.97 319.21h1.03v1.33h-1.03zM396.00 317.88h1.33v1.33h-1.33zM398.66 317.88h1.33v1.33h-1.33zM401.32 317.88h1.33v1.33h-1.33zM403.98 317.88h1.33v1.33h-1.33zM406.64 317.88h1.33v1.33h-1.33zM397.33 316.55h1.33v1.33h-1.33zM399.99 316.55h1.33v1.33h-1.33zM402.65 316.55h1.33v1.33h-1.33zM405.31 316.55h1.33v1.33h-1.33zM407.97 316.55h1.03v1.33h-1.03zM396.00 315.22h1.33v1.33h-1.33zM398.66 315.22h1.33v1.33h-1.33zM401.32 315.22h1.33v1.33h-1.33zM403.98 315.22h1.33v1.33h-1.33zM406.64 315.22h1.33v1.33h-1.33zM397.33 313.89h1.33v1.33h-1.33zM399.99 313.89h1.33v1.33h-1.33zM402.65 313.89h1.33v1.33h-1.33zM405.31 313.89h1.33v1.33h-1.33zM407.97 313.89h1.03v1.33h-1.03zM396.00 312.56h1.33v1.33h-1.33zM398.66 312.56h1.33v1.33h-1.33zM401.32 312.56h1.33v1.33h-1.33zM403.98 312.56h1.33v1.33h-1.33zM406.64 312.56h1.33v1.33h-1.33zM397.33 311.23h1.33v1.33h-1.33zM399.99 311.23h1.33v1.33h-1.33zM402.65 311.23h1.33v1.33h-1.33zM405.31 311.23h1.33v1.33h-1.33zM407.97 311.23h1.03v1.33h-1.03zM396.00 309.90h1.33v1.33h-1.33zM398.66 309.90h1.33v1.33h-1.33zM401.32 309.90h1.33v1.33h-1.33zM403.98 309.90h1.33v1.33h-1.33zM406.64 309.90h1.33v1.33h-1.33zM397.33 308.57h1.33v1.33h-1.33zM399.99 308.57h1.33v1.33h-1.33zM402.65 308.57h1.33v1.33h-1.33zM405.31 308.57h1.33v1.33h-1.33zM407.97 308.57h1.03v1.33h-1.03zM396.00 307.24h1.33v1.33h-1.33zM398.66 307.24h1.33v1.33h-1.33zM401.32 307.24h1.33v1.33h-1.33zM403.98 307.24h1.33v1.33h-1.33zM406.64 307.24h1.33v1.33h-1.33zM397.33 305.91h1.33v1.33h-1.33zM399.99 305.91h1.33v1.33h-1.33zM402.65 305.91h1.33v1.33h-1.33zM405.31 305.91h1.33v1.33h-1.33zM407.97 305.91h1.03v1.33h-1.03zM396.00 304.58h1.33v1.33h-1.33zM398.66 304.58h1.33v1.33h-1.33zM401.32 304.58h1.33v1.33h-1.33zM403.98 304.58h1.33v1.33h-1.33zM406.64 304.58h1.33v1.33h-1.33zM397.33 303.25h1.33v1.33h-1.33zM399.99 303.25h1.33v1.33h-1.33zM402.65 303.25h1.33v1.33h-1.33zM405.31 303.25h1.33v1.33h-1.33zM407.97 303.25h1.03v1.33h-1.03zM396.00 301.92h1.33v1.33h-1.33zM398.66 301.92h1.33v1.33h-1.33zM401.32 301.92h1.33v1.33h-1.33zM403.98 301.92h1.33v1.33h-1.33zM406.64 301.92h1.33v1.33h-1.33zM397.33 300.59h1.33v1.33h-1.33zM399.99 300.59h1.33v1.33h-1.33zM402.65 300.59h1.33v1.33h-1.33zM405.31 300.59h1.33v1.33h-1.33zM407.97 300.59h1.03v1.33h-1.03zM396.00 299.26h1.33v1.33h-1.33zM398.66 299.26h1.33v1.33h-1.33zM401.32 299.26h1.33v1.33h-1.33zM403.98 299.26h1.33v1.33h-1.33zM406.64 299.26h1.33v1.33h-1.33zM397.33 297.93h1.33v1.33h-1.33zM399.99 297.93h1.33v1.33h-1.33zM402.65 297.93h1.33v1.33h-1.33zM405.31 297.93h1.33v1.33h-1.33zM407.97 297.93h1.03v1.33h-1.03zM396.00 296.60h1.33v1.33h-1.33zM398.66 296.60h1.33v1.33h-1.33zM401.32 296.60h1.33v1.33h-1.33zM403.98 296.60h1.33v1.33h-1.33zM406.64 296.60h1.33v1.33h-1.33zM397.33 295.27h1.33v1.33h-1.33zM399.99 295.27h1.33v1.33h-1.33zM402.65 295.27h1.33v1.33h-1.33zM405.31 295.27h1.33v1.33h-1.33zM407.97 295.27h1.03v1.33h-1.03zM396.00 293.94h1.33v1.33h-1.33zM398.66 293.94h1.33v1.33h-1.33zM401.32 293.94h1.33v1.33h-1.33zM403.98 293.94h1.33v1.33h-1.33zM406.64 293.94h1.33v1.33h-1.33zM397.33 292.61h1.33v1.33h-1.33zM399.99 292.61h1.33v1.33h-1.33zM402.65 292.61h1.33v1.33h-1.33zM405.31 292.61h1.33v1.33h-1.33zM407.97 292.61h1.03v1.33h-1.03zM396.00 291.28h1.33v1.33h-1.33zM398.66 291.28h1.33v1.33h-1.33zM401.32 291.28h1.33v1.33h-1.33zM403.98 291.28h1.33v1.33h-1.33zM406.64 291.28h1.33v1.33h-1.33zM397.33 289.95h1.33v1.33h-1.33zM399.99 289.95h1.33v1.33h-1.33zM402.65 289.95h1.33v1.33h-1.33zM405.31 289.95h1.33v1.33h-1.33zM407.97 289.95h1.03v1.33h-1.03zM396.00 288.62h1.33v1.33h-1.33zM398.66 288.62h1.33v1.33h-1.33zM401.32 288.62h1.33v1.33h-1.33zM403.98 288.62h1.33v1.33h-1.33zM406.64 288.62h1.33v1.33h-1.33zM397.33 287.29h1.33v1.33h-1.33zM399.99 287.29h1.33v1.33h-1.33zM402.65 287.29h1.33v1.33h-1.33zM405.31 287.29h1.33v1.33h-1.33zM407.97 287.29h1.03v1.33h-1.03zM396.00 285.96h1.33v1.33h-1.33zM398.66 285.96h1.33v1.33h-1.33zM401.32 285.96h1.33v1.33h-1.33zM403.98 285.96h1.33v1.33h-1.33zM406.64 285.96h1.33v1.33h-1.33zM397.33 284.63h1.33v1.33h-1.33zM399.99 284.63h1.33v1.33h-1.33zM402.65 284.63h1.33v1.33h-1.33zM405.31 284.63h1.33v1.33h-1.33zM407.97 284.63h1.03v1.33h-1.03zM396.00 283.30h1.33v1.33h-1.33zM398.66 283.30h1.33v1.33h-1.33zM401.32 283.30h1.33v1.33h-1.33zM403.98 283.30h1.33v1.33h-1.33zM406.64 283.30h1.33v1.33h-1.33zM397.33 281.97h1.33v1.33h-1.33zM399.99 281.97h1.33v1.33h-1.33zM402.65 281.97h1.33v1.33h-1.33zM405.31 281.97h1.33v1.33h-1.33zM407.97 281.97h1.03v1.33h-1.03zM396.00 280.64h1.33v1.33h-1.33zM398.66 280.64h1.33v1.33h-1.33zM401.32 280.64h1.33v1.33h-1.33zM403.98 280.64h1.33v1.33h-1.33zM406.64 280.64h1.33v1.33h-1.33zM397.33 279.31h1.33v1.33h-1.33zM399.99 279.31h1.33v1.33h-1.33zM402.65 279.31h1.33v1.33h-1.33zM405.31 279.31h1.33v1.33h-1.33zM407.97 279.31h1.03v1.33h-1.03zM396.00 277.98h1.33v1.33h-1.33zM398.66 277.98h1.33v1.33h-1.33zM401.32 277.98h1.33v1.33h-1.33zM403.98 277.98h1.33v1.33h-1.33zM406.64 277.98h1.33v1.33h-1.33zM397.33 276.65h1.33v1.33h-1.33zM399.99 276.65h1.33v1.33h-1.33zM402.65 276.65h1.33v1.33h-1.33zM405.31 276.65h1.33v1.33h-1.33zM407.97 276.65h1.03v1.33h-1.03zM396.00 275.32h1.33v1.33h-1.33zM398.66 275.32h1.33v1.33h-1.33zM401.32 275.32h1.33v1.33h-1.33zM403.98 275.32h1.33v1.33h-1.33zM406.64 275.32h1.33v1.33h-1.33zM397.33 273.99h1.33v1.33h-1.33zM399.99 273.99h1.33v1.33h-1.33zM402.65 273.99h1.33v1.33h-1.33zM405.31 273.99h1.33v1.33h-1.33zM407.97 273.99h1.03v1.33h-1.03zM396.00 272.66h1.33v1.33h-1.33zM398.66 272.66h1.33v1.33h-1.33zM401.32 272.66h1.33v1.33h-1.33zM403.98 272.66h1.33v1.33h-1.33zM406.64 272.66h1.33v1.33h-1.33zM397.33 271.33h1.33v1.33h-1.33zM399.99 271.33h1.33v1.33h-1.33zM402.65 271.33h1.33v1.33h-1.33zM405.31 271.33h1.33v1.33h-1.33zM407.97 271.33h1.03v1.33h-1.03zM396.00 270.00h1.33v1.33h-1.33zM398.66 270.00h1.33v1.33h-1.33zM401.32 270.00h1.33v1.33h-1.33zM403.98 270.00h1.33v1.33h-1.33zM406.64 270.00h1.33v1.33h-1.33zM397.33 268.67h1.33v1.33h-1.33zM399.99 268.67h1.33v1.33h-1.33zM402.65 268.67h1.33v1.33h-1.33zM405.31 268.67h1.33v1.33h-1.33zM407.97 268.67h1.03v1.33h-1.03zM396.00 267.34h1.33v1.33h-1.33zM398.66 267.34h1.33v1.33h-1.33zM401.32 267.34h1.33v1.33h-1.33zM403.98 267.34h1.33v1.33h-1.33zM406.64 267.34h1.33v1.33h-1.33zM397.33 266.01h1.33v1.33h-1.33zM399.99 266.01h1.33v1.33h-1.33zM402.65 266.01h1.33v1.33h-1.33zM405.31 266.01h1.33v1.33h-1.33zM407.97 266.01h1.03v1.33h-1.03zM396.00 264.68h1.33v1.33h-1.33zM398.66 264.68h1.33v1.33h-1.33zM401.32 264.68h1.33v1.33h-1.33zM403.98 264.68h1.33v1.33h-1.33zM406.64 264.68h1.33v1.33h-1.33zM397.33 263.35h1.33v1.33h-1.33zM399.99 263.35h1.33v1.33h-1.33zM402.65 263.35h1.33v1.33h-1.33zM405.31 263.35h1.33v1.33h-1.33zM407.97 263.35h1.03v1.33h-1.03zM396.00 262.02h1.33v1.33h-1.33zM398.66 262.02h1.33v1.33h-1.33zM401.32 262.02h1.33v1.33h-1.33zM403.98 262.02h1.33v1.33h-1.33zM406.64 262.02h1.33v1.33h-1.33zM397.33 260.69h1.33v1.33h-1.33zM399.99 260.69h1.33v1.33h-1.33zM402.65 260.69h1.33v1.33h-1.33zM405.31 260.69h1.33v1.33h-1.33zM407.97 260.69h1.03v1.33h-1.03zM396.00 259.36h1.33v1.33h-1.33zM398.66 259.36h1.33v1.33h-1.33zM401.32 259.36h1.33v1.33h-1.33zM403.98 259.36h1.33v1.33h-1.33zM406.64 259.36h1.33v1.33h-1.33zM397.33 258.03h1.33v1.33h-1.33zM399.99 258.03h1.33v1.33h-1.33zM402.65 258.03h1.33v1.33h-1.33zM405.31 258.03h1.33v1.33h-1.33zM407.97 258.03h1.03v1.33h-1.03zM396.00 256.70h1.33v1.33h-1.33zM398.66 256.70h1.33v1.33h-1.33zM401.32 256.70h1.33v1.33h-1.33zM403.98 256.70h1.33v1.33h-1.33zM406.64 256.70h1.33v1.33h-1.33zM397.33 255.37h1.33v1.33h-1.33zM399.99 255.37h1.33v1.33h-1.33zM402.65 255.37h1.33v1.33h-1.33zM405.31 255.37h1.33v1.33h-1.33zM407.97 255.37h1.03v1.33h-1.03zM396.00 254.04h1.33v1.33h-1.33zM398.66 254.04h1.33v1.33h-1.33zM401.32 254.04h1.33v1.33h-1.33zM403.98 254.04h1.33v1.33h-1.33zM406.64 254.04h1.33v1.33h-1.33zM397.33 252.71h1.33v1.33h-1.33zM399.99 252.71h1.33v1.33h-1.33zM402.65 252.71h1.33v1.33h-1.33zM405.31 252.71h1.33v1.33h-1.33zM407.97 252.71h1.03v1.33h-1.03zM396.00 251.38h1.33v1.33h-1.33zM398.66 251.38h1.33v1.33h-1.33zM401.32 251.38h1.33v1.33h-1.33zM403.98 251.38h1.33v1.33h-1.33zM406.64 251.38h1.33v1.33h-1.33zM397.33 250.05h1.33v1.33h-1.33zM399.99 250.05h1.33v1.33h-1.33zM402.65 250.05h1.33v1.33h-1.33zM405.31 250.05h1.33v1.33h-1.33zM407.97 250.05h1.03v1.33h-1.03zM396.00 248.72h1.33v1.33h-1.33zM398.66 248.72h1.33v1.33h-1.33zM401.32 248.72h1.33v1.33h-1.33zM403.98 248.72h1.33v1.33h-1.33zM406.64 248.72h1.33v1.33h-1.33zM397.33 247.39h1.33v1.33h-1.33zM399.99 247.39h1.33v1.33h-1.33zM402.65 247.39h1.33v1.33h-1.33zM405.31 247.39h1.33v1.33h-1.33zM407.97 247.39h1.03v1.33h-1.03zM396.00 246.06h1.33v1.33h-1.33zM398.66 246.06h1.33v1.33h-1.33zM401.32 246.06h1.33v1.33h-1.33zM403.98 246.06h1.33v1.33h-1.33zM406.64 246.06h1.33v1.33h-1.33zM397.33 244.73h1.33v1.33h-1.33zM399.99 244.73h1.33v1.33h-1.33zM402.65 244.73h1.33v1.33h-1.33zM405.31 244.73h1.33v1.33h-1.33zM407.97 244.73h1.03v1.33h-1.03zM396.00 243.40h1.33v1.33h-1.33zM398.66 243.40h1.33v1.33h-1.33zM401.32 243.40h1.33v1.33h-1.33zM403.98 243.40h1.33v1.33h-1.33zM406.64 243.40h1.33v1.33h-1.33zM397.33 242.07h1.33v1.33h-1.33zM399.99 242.07h1.33v1.33h-1.33zM402.65 242.07h1.33v1.33h-1.33zM405.31 242.07h1.33v1.33h-1.33zM407.97 242.07h1.03v1.33h-1.03zM396.00 240.74h1.33v1.33h-1.33zM398.66 240.74h1.33v1.33h-1.33zM401.32 240.74h1.33v1.33h-1.33zM403.98 240.74h1.33v1.33h-1.33zM406.64 240.74h1.33v1.33h-1.33zM397.33 239.41h1.33v1.33h-1.33zM399.99 239.41h1.33v1.33h-1.33zM402.65 239.41h1.33v1.33h-1.33zM405.31 239.41h1.33v1.33h-1.33zM407.97 239.41h1.03v1.33h-1.03zM396.00 238.08h1.33v1.33h-1.33zM398.66 238.08h1.33v1.33h-1.33zM401.32 238.08h1.33v1.33h-1.33zM403.98 238.08h1.33v1.33h-1.33zM406.64 238.08h1.33v1.33h-1.33zM397.33 236.75h1.33v1.33h-1.33zM399.99 236.75h1.33v1.33h-1.33zM402.65 236.75h1.33v1.33h-1.33zM405.31 236.75h1.33v1.33h-1.33zM407.97 236.75h1.03v1.33h-1.03zM396.00 235.42h1.33v1.33h-1.33zM398.66 235.42h1.33v1.33h-1.33zM401.32 235.42h1.33v1.33h-1.33zM403.98 235.42h1.33v1.33h-1.33zM406.64 235.42h1.33v1.33h-1.33zM397.33 234.09h1.33v1.33h-1.33zM399.99 234.09h1.33v1.33h-1.33zM402.65 234.09h1.33v1.33h-1.33zM405.31 234.09h1.33v1.33h-1.33zM407.97 234.09h1.03v1.33h-1.03zM396.00 232.76h1.33v1.33h-1.33zM398.66 232.76h1.33v1.33h-1.33zM401.32 232.76h1.33v1.33h-1.33zM403.98 232.76h1.33v1.33h-1.33zM406.64 232.76h1.33v1.33h-1.33zM397.33 231.43h1.33v1.33h-1.33zM399.99 231.43h1.33v1.33h-1.33zM402.65 231.43h1.33v1.33h-1.33zM405.31 231.43h1.33v1.33h-1.33zM407.97 231.43h1.03v1.33h-1.03zM396.00 230.10h1.33v1.33h-1.33zM398.66 230.10h1.33v1.33h-1.33zM401.32 230.10h1.33v1.33h-1.33zM403.98 230.10h1.33v1.33h-1.33zM406.64 230.10h1.33v1.33h-1.33zM397.33 228.77h1.33v1.33h-1.33zM399.99 228.77h1.33v1.33h-1.33zM402.65 228.77h1.33v1.33h-1.33zM405.31 228.77h1.33v1.33h-1.33zM407.97 228.77h1.03v1.33h-1.03zM396.00 227.44h1.33v1.33h-1.33zM398.66 227.44h1.33v1.33h-1.33zM401.32 227.44h1.33v1.33h-1.33zM403.98 227.44h1.33v1.33h-1.33zM406.64 227.44h1.33v1.33h-1.33zM397.33 226.11h1.33v1.33h-1.33zM399.99 226.11h1.33v1.33h-1.33zM402.65 226.11h1.33v1.33h-1.33zM405.31 226.11h1.33v1.33h-1.33zM407.97 226.11h1.03v1.33h-1.03zM396.00 224.78h1.33v1.33h-1.33zM398.66 224.78h1.33v1.33h-1.33zM401.32 224.78h1.33v1.33h-1.33zM403.98 224.78h1.33v1.33h-1.33zM406.64 224.78h1.33v1.33h-1.33zM397.33 223.45h1.33v1.33h-1.33zM399.99 223.45h1.33v1.33h-1.33zM402.65 223.45h1.33v1.33h-1.33zM405.31 223.45h1.33v1.33h-1.33zM407.97 223.45h1.03v1.33h-1.03zM396.00 222.12h1.33v1.33h-1.33zM398.66 222.12h1.33v1.33h-1.33zM401.32 222.12h1.33v1.33h-1.33zM403.98 222.12h1.33v1.33h-1.33zM406.64 222.12h1.33v1.33h-1.33zM397.33 220.79h1.33v1.33h-1.33zM399.99 220.79h1.33v1.33h-1.33zM402.65 220.79h1.33v1.33h-1.33zM405.31 220.79h1.33v1.33h-1.33zM407.97 220.79h1.03v1.33h-1.03zM396.00 219.46h1.33v1.33h-1.33zM398.66 219.46h1.33v1.33h-1.33zM401.32 219.46h1.33v1.33h-1.33zM403.98 219.46h1.33v1.33h-1.33zM406.64 219.46h1.33v1.33h-1.33zM397.33 218.13h1.33v1.33h-1.33zM399.99 218.13h1.33v1.33h-1.33zM402.65 218.13h1.33v1.33h-1.33zM405.31 218.13h1.33v1.33h-1.33zM407.97 218.13h1.03v1.33h-1.03zM396.00 216.80h1.33v1.33h-1.33zM398.66 216.80h1.33v1.33h-1.33zM401.32 216.80h1.33v1.33h-1.33zM403.98 216.80h1.33v1.33h-1.33zM406.64 216.80h1.33v1.33h-1.33zM397.33 215.47h1.33v1.33h-1.33zM399.99 215.47h1.33v1.33h-1.33zM402.65 215.47h1.33v1.33h-1.33zM405.31 215.47h1.33v1.33h-1.33zM407.97 215.47h1.03v1.33h-1.03zM396.00 214.14h1.33v1.33h-1.33zM398.66 214.14h1.33v1.33h-1.33zM401.32 214.14h1.33v1.33h-1.33zM403.98 214.14h1.33v1.33h-1.33zM406.64 214.14h1.33v1.33h-1.33zM397.33 212.81h1.33v1.33h-1.33zM399.99 212.81h1.33v1.33h-1.33zM402.65 212.81h1.33v1.33h-1.33zM405.31 212.81h1.33v1.33h-1.33zM407.97 212.81h1.03v1.33h-1.03zM396.00 211.48h1.33v1.33h-1.33zM398.66 211.48h1.33v1.33h-1.33zM401.32 211.48h1.33v1.33h-1.33zM403.98 211.48h1.33v1.33h-1.33zM406.64 211.48h1.33v1.33h-1.33zM397.33 210.15h1.33v1.33h-1.33zM399.99 210.15h1.33v1.33h-1.33zM402.65 210.15h1.33v1.33h-1.33zM405.31 210.15h1.33v1.33h-1.33zM407.97 210.15h1.03v1.33h-1.03zM396.00 208.82h1.33v1.33h-1.33zM398.66 208.82h1.33v1.33h-1.33zM401.32 208.82h1.33v1.33h-1.33zM403.98 208.82h1.33v1.33h-1.33zM406.64 208.82h1.33v1.33h-1.33zM397.33 207.49h1.33v1.33h-1.33zM399.99 207.49h1.33v1.33h-1.33zM402.65 207.49h1.33v1.33h-1.33zM405.31 207.49h1.33v1.33h-1.33zM407.97 207.49h1.03v1.33h-1.03zM396.00 206.16h1.33v1.33h-1.33zM398.66 206.16h1.33v1.33h-1.33zM401.32 206.16h1.33v1.33h-1.33zM403.98 206.16h1.33v1.33h-1.33zM406.64 206.16h1.33v1.33h-1.33zM397.33 204.83h1.33v1.33h-1.33zM399.99 204.83h1.33v1.33h-1.33zM402.65 204.83h1.33v1.33h-1.33zM405.31 204.83h1.33v1.33h-1.33zM407.97 204.83h1.03v1.33h-1.03zM396.00 203.50h1.33v1.33h-1.33zM398.66 203.50h1.33v1.33h-1.33zM401.32 203.50h1.33v1.33h-1.33zM403.98 203.50h1.33v1.33h-1.33zM406.64 203.50h1.33v1.33h-1.33zM397.33 202.17h1.33v1.33h-1.33zM399.99 202.17h1.33v1.33h-1.33zM402.65 202.17h1.33v1.33h-1.33zM405.31 202.17h1.33v1.33h-1.33zM407.97 202.17h1.03v1.33h-1.03zM396.00 200.84h1.33v1.33h-1.33zM398.66 200.84h1.33v1.33h-1.33zM401.32 200.84h1.33v1.33h-1.33zM403.98 200.84h1.33v1.33h-1.33zM406.64 200.84h1.33v1.33h-1.33zM397.33 199.51h1.33v1.33h-1.33zM399.99 199.51h1.33v1.33h-1.33zM402.65 199.51h1.33v1.33h-1.33zM405.31 199.51h1.33v1.33h-1.33zM407.97 199.51h1.03v1.33h-1.03zM396.00 198.18h1.33v1.33h-1.33zM398.66 198.18h1.33v1.33h-1.33zM401.32 198.18h1.33v1.33h-1.33zM403.98 198.18h1.33v1.33h-1.33zM406.64 198.18h1.33v1.33h-1.33zM397.33 196.85h1.33v1.33h-1.33zM399.99 196.85h1.33v1.33h-1.33zM402.65 196.85h1.33v1.33h-1.33zM405.31 196.85h1.33v1.33h-1.33zM407.97 196.85h1.03v1.33h-1.03zM396.00 195.52h1.33v1.33h-1.33zM398.66 195.52h1.33v1.33h-1.33zM401.32 195.52h1.33v1.33h-1.33zM403.98 195.52h1.33v1.33h-1.33zM406.64 195.52h1.33v1.33h-1.33zM397.33 194.19h1.33v1.33h-1.33zM399.99 194.19h1.33v1.33h-1.33zM402.65 194.19h1.33v1.33h-1.33zM405.31 194.19h1.33v1.33h-1.33zM407.97 194.19h1.03v1.33h-1.03zM396.00 192.86h1.33v1.33h-1.33zM398.66 192.86h1.33v1.33h-1.33zM401.32 192.86h1.33v1.33h-1.33zM403.98 192.86h1.33v1.33h-1.33zM406.64 192.86h1.33v1.33h-1.33zM397.33 191.53h1.33v1.33h-1.33zM399.99 191.53h1.33v1.33h-1.33zM402.65 191.53h1.33v1.33h-1.33zM405.31 191.53h1.33v1.33h-1.33zM407.97 191.53h1.03v1.33h-1.03zM396.00 190.20h1.33v1.33h-1.33zM398.66 190.20h1.33v1.33h-1.33zM401.32 190.20h1.33v1.33h-1.33zM403.98 190.20h1.33v1.33h-1.33zM406.64 190.20h1.33v1.33h-1.33zM397.33 188.87h1.33v1.33h-1.33zM399.99 188.87h1.33v1.33h-1.33zM402.65 188.87h1.33v1.33h-1.33zM405.31 188.87h1.33v1.33h-1.33zM407.97 188.87h1.03v1.33h-1.03zM396.00 187.54h1.33v1.33h-1.33zM398.66 187.54h1.33v1.33h-1.33zM401.32 187.54h1.33v1.33h-1.33zM403.98 187.54h1.33v1.33h-1.33zM406.64 187.54h1.33v1.33h-1.33zM397.33 186.21h1.33v1.33h-1.33zM399.99 186.21h1.33v1.33h-1.33zM402.65 186.21h1.33v1.33h-1.33zM405.31 186.21h1.33v1.33h-1.33zM407.97 186.21h1.03v1.33h-1.03zM396.00 184.88h1.33v1.33h-1.33zM398.66 184.88h1.33v1.33h-1.33zM401.32 184.88h1.33v1.33h-1.33zM403.98 184.88h1.33v1.33h-1.33zM406.64 184.88h1.33v1.33h-1.33zM397.33 183.55h1.33v1.33h-1.33zM399.99 183.55h1.33v1.33h-1.33zM402.65 183.55h1.33v1.33h-1.33zM405.31 183.55h1.33v1.33h-1.33zM407.97 183.55h1.03v1.33h-1.03zM396.00 182.22h1.33v1.33h-1.33zM398.66 182.22h1.33v1.33h-1.33zM401.32 182.22h1.33v1.33h-1.33zM403.98 182.22h1.33v1.33h-1.33zM406.64 182.22h1.33v1.33h-1.33zM397.33 180.89h1.33v1.33h-1.33zM399.99 180.89h1.33v1.33h-1.33zM402.65 180.89h1.33v1.33h-1.33zM405.31 180.89h1.33v1.33h-1.33zM407.97 180.89h1.03v1.33h-1.03zM396.00 179.56h1.33v1.33h-1.33zM398.66 179.56h1.33v1.33h-1.33zM401.32 179.56h1.33v1.33h-1.33zM403.98 179.56h1.33v1.33h-1.33zM406.64 179.56h1.33v1.33h-1.33zM397.33 178.23h1.33v1.33h-1.33zM399.99 178.23h1.33v1.33h-1.33zM402.65 178.23h1.33v1.33h-1.33zM405.31 178.23h1.33v1.33h-1.33zM407.97 178.23h1.03v1.33h-1.03zM396.00 176.90h1.33v1.33h-1.33zM398.66 176.90h1.33v1.33h-1.33zM401.32 176.90h1.33v1.33h-1.33zM403.98 176.90h1.33v1.33h-1.33zM406.64 176.90h1.33v1.33h-1.33zM397.33 175.57h1.33v1.33h-1.33zM399.99 175.57h1.33v1.33h-1.33zM402.65 175.57h1.33v1.33h-1.33zM405.31 175.57h1.33v1.33h-1.33zM407.97 175.57h1.03v1.33h-1.03zM396.00 174.24h1.33v1.33h-1.33zM398.66 174.24h1.33v1.33h-1.33zM401.32 174.24h1.33v1.33h-1.33zM403.98 174.24h1.33v1.33h-1.33zM406.64 174.24h1.33v1.33h-1.33zM397.33 172.91h1.33v1.33h-1.33zM399.99 172.91h1.33v1.33h-1.33zM402.65 172.91h1.33v1.33h-1.33zM405.31 172.91h1.33v1.33h-1.33zM407.97 172.91h1.03v1.33h-1.03zM396.00 171.58h1.33v1.33h-1.33zM398.66 171.58h1.33v1.33h-1.33zM401.32 171.58h1.33v1.33h-1.33zM403.98 171.58h1.33v1.33h-1.33zM406.64 171.58h1.33v1.33h-1.33zM397.33 170.25h1.33v1.33h-1.33zM399.99 170.25h1.33v1.33h-1.33zM402.65 170.25h1.33v1.33h-1.33zM405.31 170.25h1.33v1.33h-1.33zM407.97 170.25h1.03v1.33h-1.03zM396.00 168.92h1.33v1.33h-1.33zM398.66 168.92h1.33v1.33h-1.33zM401.32 168.92h1.33v1.33h-1.33zM403.98 168.92h1.33v1.33h-1.33zM406.64 168.92h1.33v1.33h-1.33zM397.33 167.59h1.33v1.33h-1.33zM399.99 167.59h1.33v1.33h-1.33zM402.65 167.59h1.33v1.33h-1.33zM405.31 167.59h1.33v1.33h-1.33zM407.97 167.59h1.03v1.33h-1.03zM396.00 166.26h1.33v1.33h-1.33zM398.66 166.26h1.33v1.33h-1.33zM401.32 166.26h1.33v1.33h-1.33zM403.98 166.26h1.33v1.33h-1.33zM406.64 166.26h1.33v1.33h-1.33zM397.33 164.93h1.33v1.33h-1.33zM399.99 164.93h1.33v1.33h-1.33zM402.65 164.93h1.33v1.33h-1.33zM405.31 164.93h1.33v1.33h-1.33zM407.97 164.93h1.03v1.33h-1.03zM396.00 163.60h1.33v1.33h-1.33zM398.66 163.60h1.33v1.33h-1.33zM401.32 163.60h1.33v1.33h-1.33zM403.98 163.60h1.33v1.33h-1.33zM406.64 163.60h1.33v1.33h-1.33zM397.33 162.27h1.33v1.33h-1.33zM399.99 162.27h1.33v1.33h-1.33zM402.65 162.27h1.33v1.33h-1.33zM405.31 162.27h1.33v1.33h-1.33zM407.97 162.27h1.03v1.33h-1.03z" fill="#2a2a2a"/>
<rect x="395.50" y="161.50" width="14.00" height="175.00" fill="none" stroke="#111" stroke-width="1.2"/>
<line x1="402.50" y1="161.00" x2="402.50" y2="152.50" stroke="#111" stroke-width="1.2"/>
<text x="404.40" y="147.20" font-size="20.5" text-anchor="middle">b</text>
<rect x="414.50" y="265.50" width="13.00" height="71.00" fill="url(#pb)" stroke="#111" stroke-width="1.2"/>
<line x1="421.50" y1="265.00" x2="421.50" y2="255.50" stroke="#111" stroke-width="1.2"/>
<line x1="418.10" y1="255.50" x2="424.90" y2="255.50" stroke="#111" stroke-width="1.2"/>
<text x="421.50" y="251.70" font-size="20.5" text-anchor="middle">a</text>
<rect x="431.50" y="277.50" width="16.00" height="59.00" fill="url(#pc3)" stroke="#111" stroke-width="1.2"/>
<line x1="439.50" y1="277.00" x2="439.50" y2="268.50" stroke="#111" stroke-width="1.2"/>
<line x1="436.10" y1="268.50" x2="442.90" y2="268.50" stroke="#111" stroke-width="1.2"/>
<text x="439.30" y="263.90" font-size="20.5" text-anchor="middle">a</text>
<rect x="451.50" y="88.50" width="14.00" height="248.00" fill="#fff" stroke="#111" stroke-width="1.2"/>
<line x1="458.50" y1="88.00" x2="458.50" y2="66.50" stroke="#111" stroke-width="1.2"/>
<line x1="455.10" y1="66.50" x2="461.90" y2="66.50" stroke="#111" stroke-width="1.2"/>
<text x="457.30" y="62.00" font-size="20.5" text-anchor="middle">ab</text>
<rect x="497.50" y="165.50" width="14.00" height="171.00" fill="#e8e8e8"/>
<path d="M498.00 333.84h1.33v1.33h-1.33zM500.66 333.84h1.33v1.33h-1.33zM503.32 333.84h1.33v1.33h-1.33zM505.98 333.84h1.33v1.33h-1.33zM508.64 333.84h1.33v1.33h-1.33zM499.33 332.51h1.33v1.33h-1.33zM501.99 332.51h1.33v1.33h-1.33zM504.65 332.51h1.33v1.33h-1.33zM507.31 332.51h1.33v1.33h-1.33zM509.97 332.51h1.03v1.33h-1.03zM498.00 331.18h1.33v1.33h-1.33zM500.66 331.18h1.33v1.33h-1.33zM503.32 331.18h1.33v1.33h-1.33zM505.98 331.18h1.33v1.33h-1.33zM508.64 331.18h1.33v1.33h-1.33zM499.33 329.85h1.33v1.33h-1.33zM501.99 329.85h1.33v1.33h-1.33zM504.65 329.85h1.33v1.33h-1.33zM507.31 329.85h1.33v1.33h-1.33zM509.97 329.85h1.03v1.33h-1.03zM498.00 328.52h1.33v1.33h-1.33zM500.66 328.52h1.33v1.33h-1.33zM503.32 328.52h1.33v1.33h-1.33zM505.98 328.52h1.33v1.33h-1.33zM508.64 328.52h1.33v1.33h-1.33zM499.33 327.19h1.33v1.33h-1.33zM501.99 327.19h1.33v1.33h-1.33zM504.65 327.19h1.33v1.33h-1.33zM507.31 327.19h1.33v1.33h-1.33zM509.97 327.19h1.03v1.33h-1.03zM498.00 325.86h1.33v1.33h-1.33zM500.66 325.86h1.33v1.33h-1.33zM503.32 325.86h1.33v1.33h-1.33zM505.98 325.86h1.33v1.33h-1.33zM508.64 325.86h1.33v1.33h-1.33zM499.33 324.53h1.33v1.33h-1.33zM501.99 324.53h1.33v1.33h-1.33zM504.65 324.53h1.33v1.33h-1.33zM507.31 324.53h1.33v1.33h-1.33zM509.97 324.53h1.03v1.33h-1.03zM498.00 323.20h1.33v1.33h-1.33zM500.66 323.20h1.33v1.33h-1.33zM503.32 323.20h1.33v1.33h-1.33zM505.98 323.20h1.33v1.33h-1.33zM508.64 323.20h1.33v1.33h-1.33zM499.33 321.87h1.33v1.33h-1.33zM501.99 321.87h1.33v1.33h-1.33zM504.65 321.87h1.33v1.33h-1.33zM507.31 321.87h1.33v1.33h-1.33zM509.97 321.87h1.03v1.33h-1.03zM498.00 320.54h1.33v1.33h-1.33zM500.66 320.54h1.33v1.33h-1.33zM503.32 320.54h1.33v1.33h-1.33zM505.98 320.54h1.33v1.33h-1.33zM508.64 320.54h1.33v1.33h-1.33zM499.33 319.21h1.33v1.33h-1.33zM501.99 319.21h1.33v1.33h-1.33zM504.65 319.21h1.33v1.33h-1.33zM507.31 319.21h1.33v1.33h-1.33zM509.97 319.21h1.03v1.33h-1.03zM498.00 317.88h1.33v1.33h-1.33zM500.66 317.88h1.33v1.33h-1.33zM503.32 317.88h1.33v1.33h-1.33zM505.98 317.88h1.33v1.33h-1.33zM508.64 317.88h1.33v1.33h-1.33zM499.33 316.55h1.33v1.33h-1.33zM501.99 316.55h1.33v1.33h-1.33zM504.65 316.55h1.33v1.33h-1.33zM507.31 316.55h1.33v1.33h-1.33zM509.97 316.55h1.03v1.33h-1.03zM498.00 315.22h1.33v1.33h-1.33zM500.66 315.22h1.33v1.33h-1.33zM503.32 315.22h1.33v1.33h-1.33zM505.98 315.22h1.33v1.33h-1.33zM508.64 315.22h1.33v1.33h-1.33zM499.33 313.89h1.33v1.33h-1.33zM501.99 313.89h1.33v1.33h-1.33zM504.65 313.89h1.33v1.33h-1.33zM507.31 313.89h1.33v1.33h-1.33zM509.97 313.89h1.03v1.33h-1.03zM498.00 312.56h1.33v1.33h-1.33zM500.66 312.56h1.33v1.33h-1.33zM503.32 312.56h1.33v1.33h-1.33zM505.98 312.56h1.33v1.33h-1.33zM508.64 312.56h1.33v1.33h-1.33zM499.33 311.23h1.33v1.33h-1.33zM501.99 311.23h1.33v1.33h-1.33zM504.65 311.23h1.33v1.33h-1.33zM507.31 311.23h1.33v1.33h-1.33zM509.97 311.23h1.03v1.33h-1.03zM498.00 309.90h1.33v1.33h-1.33zM500.66 309.90h1.33v1.33h-1.33zM503.32 309.90h1.33v1.33h-1.33zM505.98 309.90h1.33v1.33h-1.33zM508.64 309.90h1.33v1.33h-1.33zM499.33 308.57h1.33v1.33h-1.33zM501.99 308.57h1.33v1.33h-1.33zM504.65 308.57h1.33v1.33h-1.33zM507.31 308.57h1.33v1.33h-1.33zM509.97 308.57h1.03v1.33h-1.03zM498.00 307.24h1.33v1.33h-1.33zM500.66 307.24h1.33v1.33h-1.33zM503.32 307.24h1.33v1.33h-1.33zM505.98 307.24h1.33v1.33h-1.33zM508.64 307.24h1.33v1.33h-1.33zM499.33 305.91h1.33v1.33h-1.33zM501.99 305.91h1.33v1.33h-1.33zM504.65 305.91h1.33v1.33h-1.33zM507.31 305.91h1.33v1.33h-1.33zM509.97 305.91h1.03v1.33h-1.03zM498.00 304.58h1.33v1.33h-1.33zM500.66 304.58h1.33v1.33h-1.33zM503.32 304.58h1.33v1.33h-1.33zM505.98 304.58h1.33v1.33h-1.33zM508.64 304.58h1.33v1.33h-1.33zM499.33 303.25h1.33v1.33h-1.33zM501.99 303.25h1.33v1.33h-1.33zM504.65 303.25h1.33v1.33h-1.33zM507.31 303.25h1.33v1.33h-1.33zM509.97 303.25h1.03v1.33h-1.03zM498.00 301.92h1.33v1.33h-1.33zM500.66 301.92h1.33v1.33h-1.33zM503.32 301.92h1.33v1.33h-1.33zM505.98 301.92h1.33v1.33h-1.33zM508.64 301.92h1.33v1.33h-1.33zM499.33 300.59h1.33v1.33h-1.33zM501.99 300.59h1.33v1.33h-1.33zM504.65 300.59h1.33v1.33h-1.33zM507.31 300.59h1.33v1.33h-1.33zM509.97 300.59h1.03v1.33h-1.03zM498.00 299.26h1.33v1.33h-1.33zM500.66 299.26h1.33v1.33h-1.33zM503.32 299.26h1.33v1.33h-1.33zM505.98 299.26h1.33v1.33h-1.33zM508.64 299.26h1.33v1.33h-1.33zM499.33 297.93h1.33v1.33h-1.33zM501.99 297.93h1.33v1.33h-1.33zM504.65 297.93h1.33v1.33h-1.33zM507.31 297.93h1.33v1.33h-1.33zM509.97 297.93h1.03v1.33h-1.03zM498.00 296.60h1.33v1.33h-1.33zM500.66 296.60h1.33v1.33h-1.33zM503.32 296.60h1.33v1.33h-1.33zM505.98 296.60h1.33v1.33h-1.33zM508.64 296.60h1.33v1.33h-1.33zM499.33 295.27h1.33v1.33h-1.33zM501.99 295.27h1.33v1.33h-1.33zM504.65 295.27h1.33v1.33h-1.33zM507.31 295.27h1.33v1.33h-1.33zM509.97 295.27h1.03v1.33h-1.03zM498.00 293.94h1.33v1.33h-1.33zM500.66 293.94h1.33v1.33h-1.33zM503.32 293.94h1.33v1.33h-1.33zM505.98 293.94h1.33v1.33h-1.33zM508.64 293.94h1.33v1.33h-1.33zM499.33 292.61h1.33v1.33h-1.33zM501.99 292.61h1.33v1.33h-1.33zM504.65 292.61h1.33v1.33h-1.33zM507.31 292.61h1.33v1.33h-1.33zM509.97 292.61h1.03v1.33h-1.03zM498.00 291.28h1.33v1.33h-1.33zM500.66 291.28h1.33v1.33h-1.33zM503.32 291.28h1.33v1.33h-1.33zM505.98 291.28h1.33v1.33h-1.33zM508.64 291.28h1.33v1.33h-1.33zM499.33 289.95h1.33v1.33h-1.33zM501.99 289.95h1.33v1.33h-1.33zM504.65 289.95h1.33v1.33h-1.33zM507.31 289.95h1.33v1.33h-1.33zM509.97 289.95h1.03v1.33h-1.03zM498.00 288.62h1.33v1.33h-1.33zM500.66 288.62h1.33v1.33h-1.33zM503.32 288.62h1.33v1.33h-1.33zM505.98 288.62h1.33v1.33h-1.33zM508.64 288.62h1.33v1.33h-1.33zM499.33 287.29h1.33v1.33h-1.33zM501.99 287.29h1.33v1.33h-1.33zM504.65 287.29h1.33v1.33h-1.33zM507.31 287.29h1.33v1.33h-1.33zM509.97 287.29h1.03v1.33h-1.03zM498.00 285.96h1.33v1.33h-1.33zM500.66 285.96h1.33v1.33h-1.33zM503.32 285.96h1.33v1.33h-1.33zM505.98 285.96h1.33v1.33h-1.33zM508.64 285.96h1.33v1.33h-1.33zM499.33 284.63h1.33v1.33h-1.33zM501.99 284.63h1.33v1.33h-1.33zM504.65 284.63h1.33v1.33h-1.33zM507.31 284.63h1.33v1.33h-1.33zM509.97 284.63h1.03v1.33h-1.03zM498.00 283.30h1.33v1.33h-1.33zM500.66 283.30h1.33v1.33h-1.33zM503.32 283.30h1.33v1.33h-1.33zM505.98 283.30h1.33v1.33h-1.33zM508.64 283.30h1.33v1.33h-1.33zM499.33 281.97h1.33v1.33h-1.33zM501.99 281.97h1.33v1.33h-1.33zM504.65 281.97h1.33v1.33h-1.33zM507.31 281.97h1.33v1.33h-1.33zM509.97 281.97h1.03v1.33h-1.03zM498.00 280.64h1.33v1.33h-1.33zM500.66 280.64h1.33v1.33h-1.33zM503.32 280.64h1.33v1.33h-1.33zM505.98 280.64h1.33v1.33h-1.33zM508.64 280.64h1.33v1.33h-1.33zM499.33 279.31h1.33v1.33h-1.33zM501.99 279.31h1.33v1.33h-1.33zM504.65 279.31h1.33v1.33h-1.33zM507.31 279.31h1.33v1.33h-1.33zM509.97 279.31h1.03v1.33h-1.03zM498.00 277.98h1.33v1.33h-1.33zM500.66 277.98h1.33v1.33h-1.33zM503.32 277.98h1.33v1.33h-1.33zM505.98 277.98h1.33v1.33h-1.33zM508.64 277.98h1.33v1.33h-1.33zM499.33 276.65h1.33v1.33h-1.33zM501.99 276.65h1.33v1.33h-1.33zM504.65 276.65h1.33v1.33h-1.33zM507.31 276.65h1.33v1.33h-1.33zM509.97 276.65h1.03v1.33h-1.03zM498.00 275.32h1.33v1.33h-1.33zM500.66 275.32h1.33v1.33h-1.33zM503.32 275.32h1.33v1.33h-1.33zM505.98 275.32h1.33v1.33h-1.33zM508.64 275.32h1.33v1.33h-1.33zM499.33 273.99h1.33v1.33h-1.33zM501.99 273.99h1.33v1.33h-1.33zM504.65 273.99h1.33v1.33h-1.33zM507.31 273.99h1.33v1.33h-1.33zM509.97 273.99h1.03v1.33h-1.03zM498.00 272.66h1.33v1.33h-1.33zM500.66 272.66h1.33v1.33h-1.33zM503.32 272.66h1.33v1.33h-1.33zM505.98 272.66h1.33v1.33h-1.33zM508.64 272.66h1.33v1.33h-1.33zM499.33 271.33h1.33v1.33h-1.33zM501.99 271.33h1.33v1.33h-1.33zM504.65 271.33h1.33v1.33h-1.33zM507.31 271.33h1.33v1.33h-1.33zM509.97 271.33h1.03v1.33h-1.03zM498.00 270.00h1.33v1.33h-1.33zM500.66 270.00h1.33v1.33h-1.33zM503.32 270.00h1.33v1.33h-1.33zM505.98 270.00h1.33v1.33h-1.33zM508.64 270.00h1.33v1.33h-1.33zM499.33 268.67h1.33v1.33h-1.33zM501.99 268.67h1.33v1.33h-1.33zM504.65 268.67h1.33v1.33h-1.33zM507.31 268.67h1.33v1.33h-1.33zM509.97 268.67h1.03v1.33h-1.03zM498.00 267.34h1.33v1.33h-1.33zM500.66 267.34h1.33v1.33h-1.33zM503.32 267.34h1.33v1.33h-1.33zM505.98 267.34h1.33v1.33h-1.33zM508.64 267.34h1.33v1.33h-1.33zM499.33 266.01h1.33v1.33h-1.33zM501.99 266.01h1.33v1.33h-1.33zM504.65 266.01h1.33v1.33h-1.33zM507.31 266.01h1.33v1.33h-1.33zM509.97 266.01h1.03v1.33h-1.03zM498.00 264.68h1.33v1.33h-1.33zM500.66 264.68h1.33v1.33h-1.33zM503.32 264.68h1.33v1.33h-1.33zM505.98 264.68h1.33v1.33h-1.33zM508.64 264.68h1.33v1.33h-1.33zM499.33 263.35h1.33v1.33h-1.33zM501.99 263.35h1.33v1.33h-1.33zM504.65 263.35h1.33v1.33h-1.33zM507.31 263.35h1.33v1.33h-1.33zM509.97 263.35h1.03v1.33h-1.03zM498.00 262.02h1.33v1.33h-1.33zM500.66 262.02h1.33v1.33h-1.33zM503.32 262.02h1.33v1.33h-1.33zM505.98 262.02h1.33v1.33h-1.33zM508.64 262.02h1.33v1.33h-1.33zM499.33 260.69h1.33v1.33h-1.33zM501.99 260.69h1.33v1.33h-1.33zM504.65 260.69h1.33v1.33h-1.33zM507.31 260.69h1.33v1.33h-1.33zM509.97 260.69h1.03v1.33h-1.03zM498.00 259.36h1.33v1.33h-1.33zM500.66 259.36h1.33v1.33h-1.33zM503.32 259.36h1.33v1.33h-1.33zM505.98 259.36h1.33v1.33h-1.33zM508.64 259.36h1.33v1.33h-1.33zM499.33 258.03h1.33v1.33h-1.33zM501.99 258.03h1.33v1.33h-1.33zM504.65 258.03h1.33v1.33h-1.33zM507.31 258.03h1.33v1.33h-1.33zM509.97 258.03h1.03v1.33h-1.03zM498.00 256.70h1.33v1.33h-1.33zM500.66 256.70h1.33v1.33h-1.33zM503.32 256.70h1.33v1.33h-1.33zM505.98 256.70h1.33v1.33h-1.33zM508.64 256.70h1.33v1.33h-1.33zM499.33 255.37h1.33v1.33h-1.33zM501.99 255.37h1.33v1.33h-1.33zM504.65 255.37h1.33v1.33h-1.33zM507.31 255.37h1.33v1.33h-1.33zM509.97 255.37h1.03v1.33h-1.03zM498.00 254.04h1.33v1.33h-1.33zM500.66 254.04h1.33v1.33h-1.33zM503.32 254.04h1.33v1.33h-1.33zM505.98 254.04h1.33v1.33h-1.33zM508.64 254.04h1.33v1.33h-1.33zM499.33 252.71h1.33v1.33h-1.33zM501.99 252.71h1.33v1.33h-1.33zM504.65 252.71h1.33v1.33h-1.33zM507.31 252.71h1.33v1.33h-1.33zM509.97 252.71h1.03v1.33h-1.03zM498.00 251.38h1.33v1.33h-1.33zM500.66 251.38h1.33v1.33h-1.33zM503.32 251.38h1.33v1.33h-1.33zM505.98 251.38h1.33v1.33h-1.33zM508.64 251.38h1.33v1.33h-1.33zM499.33 250.05h1.33v1.33h-1.33zM501.99 250.05h1.33v1.33h-1.33zM504.65 250.05h1.33v1.33h-1.33zM507.31 250.05h1.33v1.33h-1.33zM509.97 250.05h1.03v1.33h-1.03zM498.00 248.72h1.33v1.33h-1.33zM500.66 248.72h1.33v1.33h-1.33zM503.32 248.72h1.33v1.33h-1.33zM505.98 248.72h1.33v1.33h-1.33zM508.64 248.72h1.33v1.33h-1.33zM499.33 247.39h1.33v1.33h-1.33zM501.99 247.39h1.33v1.33h-1.33zM504.65 247.39h1.33v1.33h-1.33zM507.31 247.39h1.33v1.33h-1.33zM509.97 247.39h1.03v1.33h-1.03zM498.00 246.06h1.33v1.33h-1.33zM500.66 246.06h1.33v1.33h-1.33zM503.32 246.06h1.33v1.33h-1.33zM505.98 246.06h1.33v1.33h-1.33zM508.64 246.06h1.33v1.33h-1.33zM499.33 244.73h1.33v1.33h-1.33zM501.99 244.73h1.33v1.33h-1.33zM504.65 244.73h1.33v1.33h-1.33zM507.31 244.73h1.33v1.33h-1.33zM509.97 244.73h1.03v1.33h-1.03zM498.00 243.40h1.33v1.33h-1.33zM500.66 243.40h1.33v1.33h-1.33zM503.32 243.40h1.33v1.33h-1.33zM505.98 243.40h1.33v1.33h-1.33zM508.64 243.40h1.33v1.33h-1.33zM499.33 242.07h1.33v1.33h-1.33zM501.99 242.07h1.33v1.33h-1.33zM504.65 242.07h1.33v1.33h-1.33zM507.31 242.07h1.33v1.33h-1.33zM509.97 242.07h1.03v1.33h-1.03zM498.00 240.74h1.33v1.33h-1.33zM500.66 240.74h1.33v1.33h-1.33zM503.32 240.74h1.33v1.33h-1.33zM505.98 240.74h1.33v1.33h-1.33zM508.64 240.74h1.33v1.33h-1.33zM499.33 239.41h1.33v1.33h-1.33zM501.99 239.41h1.33v1.33h-1.33zM504.65 239.41h1.33v1.33h-1.33zM507.31 239.41h1.33v1.33h-1.33zM509.97 239.41h1.03v1.33h-1.03zM498.00 238.08h1.33v1.33h-1.33zM500.66 238.08h1.33v1.33h-1.33zM503.32 238.08h1.33v1.33h-1.33zM505.98 238.08h1.33v1.33h-1.33zM508.64 238.08h1.33v1.33h-1.33zM499.33 236.75h1.33v1.33h-1.33zM501.99 236.75h1.33v1.33h-1.33zM504.65 236.75h1.33v1.33h-1.33zM507.31 236.75h1.33v1.33h-1.33zM509.97 236.75h1.03v1.33h-1.03zM498.00 235.42h1.33v1.33h-1.33zM500.66 235.42h1.33v1.33h-1.33zM503.32 235.42h1.33v1.33h-1.33zM505.98 235.42h1.33v1.33h-1.33zM508.64 235.42h1.33v1.33h-1.33zM499.33 234.09h1.33v1.33h-1.33zM501.99 234.09h1.33v1.33h-1.33zM504.65 234.09h1.33v1.33h-1.33zM507.31 234.09h1.33v1.33h-1.33zM509.97 234.09h1.03v1.33h-1.03zM498.00 232.76h1.33v1.33h-1.33zM500.66 232.76h1.33v1.33h-1.33zM503.32 232.76h1.33v1.33h-1.33zM505.98 232.76h1.33v1.33h-1.33zM508.64 232.76h1.33v1.33h-1.33zM499.33 231.43h1.33v1.33h-1.33zM501.99 231.43h1.33v1.33h-1.33zM504.65 231.43h1.33v1.33h-1.33zM507.31 231.43h1.33v1.33h-1.33zM509.97 231.43h1.03v1.33h-1.03zM498.00 230.10h1.33v1.33h-1.33zM500.66 230.10h1.33v1.33h-1.33zM503.32 230.10h1.33v1.33h-1.33zM505.98 230.10h1.33v1.33h-1.33zM508.64 230.10h1.33v1.33h-1.33zM499.33 228.77h1.33v1.33h-1.33zM501.99 228.77h1.33v1.33h-1.33zM504.65 228.77h1.33v1.33h-1.33zM507.31 228.77h1.33v1.33h-1.33zM509.97 228.77h1.03v1.33h-1.03zM498.00 227.44h1.33v1.33h-1.33zM500.66 227.44h1.33v1.33h-1.33zM503.32 227.44h1.33v1.33h-1.33zM505.98 227.44h1.33v1.33h-1.33zM508.64 227.44h1.33v1.33h-1.33zM499.33 226.11h1.33v1.33h-1.33zM501.99 226.11h1.33v1.33h-1.33zM504.65 226.11h1.33v1.33h-1.33zM507.31 226.11h1.33v1.33h-1.33zM509.97 226.11h1.03v1.33h-1.03zM498.00 224.78h1.33v1.33h-1.33zM500.66 224.78h1.33v1.33h-1.33zM503.32 224.78h1.33v1.33h-1.33zM505.98 224.78h1.33v1.33h-1.33zM508.64 224.78h1.33v1.33h-1.33zM499.33 223.45h1.33v1.33h-1.33zM501.99 223.45h1.33v1.33h-1.33zM504.65 223.45h1.33v1.33h-1.33zM507.31 223.45h1.33v1.33h-1.33zM509.97 223.45h1.03v1.33h-1.03zM498.00 222.12h1.33v1.33h-1.33zM500.66 222.12h1.33v1.33h-1.33zM503.32 222.12h1.33v1.33h-1.33zM505.98 222.12h1.33v1.33h-1.33zM508.64 222.12h1.33v1.33h-1.33zM499.33 220.79h1.33v1.33h-1.33zM501.99 220.79h1.33v1.33h-1.33zM504.65 220.79h1.33v1.33h-1.33zM507.31 220.79h1.33v1.33h-1.33zM509.97 220.79h1.03v1.33h-1.03zM498.00 219.46h1.33v1.33h-1.33zM500.66 219.46h1.33v1.33h-1.33zM503.32 219.46h1.33v1.33h-1.33zM505.98 219.46h1.33v1.33h-1.33zM508.64 219.46h1.33v1.33h-1.33zM499.33 218.13h1.33v1.33h-1.33zM501.99 218.13h1.33v1.33h-1.33zM504.65 218.13h1.33v1.33h-1.33zM507.31 218.13h1.33v1.33h-1.33zM509.97 218.13h1.03v1.33h-1.03zM498.00 216.80h1.33v1.33h-1.33zM500.66 216.80h1.33v1.33h-1.33zM503.32 216.80h1.33v1.33h-1.33zM505.98 216.80h1.33v1.33h-1.33zM508.64 216.80h1.33v1.33h-1.33zM499.33 215.47h1.33v1.33h-1.33zM501.99 215.47h1.33v1.33h-1.33zM504.65 215.47h1.33v1.33h-1.33zM507.31 215.47h1.33v1.33h-1.33zM509.97 215.47h1.03v1.33h-1.03zM498.00 214.14h1.33v1.33h-1.33zM500.66 214.14h1.33v1.33h-1.33zM503.32 214.14h1.33v1.33h-1.33zM505.98 214.14h1.33v1.33h-1.33zM508.64 214.14h1.33v1.33h-1.33zM499.33 212.81h1.33v1.33h-1.33zM501.99 212.81h1.33v1.33h-1.33zM504.65 212.81h1.33v1.33h-1.33zM507.31 212.81h1.33v1.33h-1.33zM509.97 212.81h1.03v1.33h-1.03zM498.00 211.48h1.33v1.33h-1.33zM500.66 211.48h1.33v1.33h-1.33zM503.32 211.48h1.33v1.33h-1.33zM505.98 211.48h1.33v1.33h-1.33zM508.64 211.48h1.33v1.33h-1.33zM499.33 210.15h1.33v1.33h-1.33zM501.99 210.15h1.33v1.33h-1.33zM504.65 210.15h1.33v1.33h-1.33zM507.31 210.15h1.33v1.33h-1.33zM509.97 210.15h1.03v1.33h-1.03zM498.00 208.82h1.33v1.33h-1.33zM500.66 208.82h1.33v1.33h-1.33zM503.32 208.82h1.33v1.33h-1.33zM505.98 208.82h1.33v1.33h-1.33zM508.64 208.82h1.33v1.33h-1.33zM499.33 207.49h1.33v1.33h-1.33zM501.99 207.49h1.33v1.33h-1.33zM504.65 207.49h1.33v1.33h-1.33zM507.31 207.49h1.33v1.33h-1.33zM509.97 207.49h1.03v1.33h-1.03zM498.00 206.16h1.33v1.33h-1.33zM500.66 206.16h1.33v1.33h-1.33zM503.32 206.16h1.33v1.33h-1.33zM505.98 206.16h1.33v1.33h-1.33zM508.64 206.16h1.33v1.33h-1.33zM499.33 204.83h1.33v1.33h-1.33zM501.99 204.83h1.33v1.33h-1.33zM504.65 204.83h1.33v1.33h-1.33zM507.31 204.83h1.33v1.33h-1.33zM509.97 204.83h1.03v1.33h-1.03zM498.00 203.50h1.33v1.33h-1.33zM500.66 203.50h1.33v1.33h-1.33zM503.32 203.50h1.33v1.33h-1.33zM505.98 203.50h1.33v1.33h-1.33zM508.64 203.50h1.33v1.33h-1.33zM499.33 202.17h1.33v1.33h-1.33zM501.99 202.17h1.33v1.33h-1.33zM504.65 202.17h1.33v1.33h-1.33zM507.31 202.17h1.33v1.33h-1.33zM509.97 202.17h1.03v1.33h-1.03zM498.00 200.84h1.33v1.33h-1.33zM500.66 200.84h1.33v1.33h-1.33zM503.32 200.84h1.33v1.33h-1.33zM505.98 200.84h1.33v1.33h-1.33zM508.64 200.84h1.33v1.33h-1.33zM499.33 199.51h1.33v1.33h-1.33zM501.99 199.51h1.33v1.33h-1.33zM504.65 199.51h1.33v1.33h-1.33zM507.31 199.51h1.33v1.33h-1.33zM509.97 199.51h1.03v1.33h-1.03zM498.00 198.18h1.33v1.33h-1.33zM500.66 198.18h1.33v1.33h-1.33zM503.32 198.18h1.33v1.33h-1.33zM505.98 198.18h1.33v1.33h-1.33zM508.64 198.18h1.33v1.33h-1.33zM499.33 196.85h1.33v1.33h-1.33zM501.99 196.85h1.33v1.33h-1.33zM504.65 196.85h1.33v1.33h-1.33zM507.31 196.85h1.33v1.33h-1.33zM509.97 196.85h1.03v1.33h-1.03zM498.00 195.52h1.33v1.33h-1.33zM500.66 195.52h1.33v1.33h-1.33zM503.32 195.52h1.33v1.33h-1.33zM505.98 195.52h1.33v1.33h-1.33zM508.64 195.52h1.33v1.33h-1.33zM499.33 194.19h1.33v1.33h-1.33zM501.99 194.19h1.33v1.33h-1.33zM504.65 194.19h1.33v1.33h-1.33zM507.31 194.19h1.33v1.33h-1.33zM509.97 194.19h1.03v1.33h-1.03zM498.00 192.86h1.33v1.33h-1.33zM500.66 192.86h1.33v1.33h-1.33zM503.32 192.86h1.33v1.33h-1.33zM505.98 192.86h1.33v1.33h-1.33zM508.64 192.86h1.33v1.33h-1.33zM499.33 191.53h1.33v1.33h-1.33zM501.99 191.53h1.33v1.33h-1.33zM504.65 191.53h1.33v1.33h-1.33zM507.31 191.53h1.33v1.33h-1.33zM509.97 191.53h1.03v1.33h-1.03zM498.00 190.20h1.33v1.33h-1.33zM500.66 190.20h1.33v1.33h-1.33zM503.32 190.20h1.33v1.33h-1.33zM505.98 190.20h1.33v1.33h-1.33zM508.64 190.20h1.33v1.33h-1.33zM499.33 188.87h1.33v1.33h-1.33zM501.99 188.87h1.33v1.33h-1.33zM504.65 188.87h1.33v1.33h-1.33zM507.31 188.87h1.33v1.33h-1.33zM509.97 188.87h1.03v1.33h-1.03zM498.00 187.54h1.33v1.33h-1.33zM500.66 187.54h1.33v1.33h-1.33zM503.32 187.54h1.33v1.33h-1.33zM505.98 187.54h1.33v1.33h-1.33zM508.64 187.54h1.33v1.33h-1.33zM499.33 186.21h1.33v1.33h-1.33zM501.99 186.21h1.33v1.33h-1.33zM504.65 186.21h1.33v1.33h-1.33zM507.31 186.21h1.33v1.33h-1.33zM509.97 186.21h1.03v1.33h-1.03zM498.00 184.88h1.33v1.33h-1.33zM500.66 184.88h1.33v1.33h-1.33zM503.32 184.88h1.33v1.33h-1.33zM505.98 184.88h1.33v1.33h-1.33zM508.64 184.88h1.33v1.33h-1.33zM499.33 183.55h1.33v1.33h-1.33zM501.99 183.55h1.33v1.33h-1.33zM504.65 183.55h1.33v1.33h-1.33zM507.31 183.55h1.33v1.33h-1.33zM509.97 183.55h1.03v1.33h-1.03zM498.00 182.22h1.33v1.33h-1.33zM500.66 182.22h1.33v1.33h-1.33zM503.32 182.22h1.33v1.33h-1.33zM505.98 182.22h1.33v1.33h-1.33zM508.64 182.22h1.33v1.33h-1.33zM499.33 180.89h1.33v1.33h-1.33zM501.99 180.89h1.33v1.33h-1.33zM504.65 180.89h1.33v1.33h-1.33zM507.31 180.89h1.33v1.33h-1.33zM509.97 180.89h1.03v1.33h-1.03zM498.00 179.56h1.33v1.33h-1.33zM500.66 179.56h1.33v1.33h-1.33zM503.32 179.56h1.33v1.33h-1.33zM505.98 179.56h1.33v1.33h-1.33zM508.64 179.56h1.33v1.33h-1.33zM499.33 178.23h1.33v1.33h-1.33zM501.99 178.23h1.33v1.33h-1.33zM504.65 178.23h1.33v1.33h-1.33zM507.31 178.23h1.33v1.33h-1.33zM509.97 178.23h1.03v1.33h-1.03zM498.00 176.90h1.33v1.33h-1.33zM500.66 176.90h1.33v1.33h-1.33zM503.32 176.90h1.33v1.33h-1.33zM505.98 176.90h1.33v1.33h-1.33zM508.64 176.90h1.33v1.33h-1.33zM499.33 175.57h1.33v1.33h-1.33zM501.99 175.57h1.33v1.33h-1.33zM504.65 175.57h1.33v1.33h-1.33zM507.31 175.57h1.33v1.33h-1.33zM509.97 175.57h1.03v1.33h-1.03zM498.00 174.24h1.33v1.33h-1.33zM500.66 174.24h1.33v1.33h-1.33zM503.32 174.24h1.33v1.33h-1.33zM505.98 174.24h1.33v1.33h-1.33zM508.64 174.24h1.33v1.33h-1.33zM499.33 172.91h1.33v1.33h-1.33zM501.99 172.91h1.33v1.33h-1.33zM504.65 172.91h1.33v1.33h-1.33zM507.31 172.91h1.33v1.33h-1.33zM509.97 172.91h1.03v1.33h-1.03zM498.00 171.58h1.33v1.33h-1.33zM500.66 171.58h1.33v1.33h-1.33zM503.32 171.58h1.33v1.33h-1.33zM505.98 171.58h1.33v1.33h-1.33zM508.64 171.58h1.33v1.33h-1.33zM499.33 170.25h1.33v1.33h-1.33zM501.99 170.25h1.33v1.33h-1.33zM504.65 170.25h1.33v1.33h-1.33zM507.31 170.25h1.33v1.33h-1.33zM509.97 170.25h1.03v1.33h-1.03zM498.00 168.92h1.33v1.33h-1.33zM500.66 168.92h1.33v1.33h-1.33zM503.32 168.92h1.33v1.33h-1.33zM505.98 168.92h1.33v1.33h-1.33zM508.64 168.92h1.33v1.33h-1.33zM499.33 167.59h1.33v1.33h-1.33zM501.99 167.59h1.33v1.33h-1.33zM504.65 167.59h1.33v1.33h-1.33zM507.31 167.59h1.33v1.33h-1.33zM509.97 167.59h1.03v1.33h-1.03zM498.00 166.26h1.33v1.33h-1.33zM500.66 166.26h1.33v1.33h-1.33zM503.32 166.26h1.33v1.33h-1.33zM505.98 166.26h1.33v1.33h-1.33zM508.64 166.26h1.33v1.33h-1.33z" fill="#2a2a2a"/>
<rect x="497.50" y="165.50" width="14.00" height="171.00" fill="none" stroke="#111" stroke-width="1.2"/>
<line x1="504.50" y1="165.00" x2="504.50" y2="154.50" stroke="#111" stroke-width="1.2"/>
<line x1="501.10" y1="154.50" x2="507.90" y2="154.50" stroke="#111" stroke-width="1.2"/>
<text x="505.40" y="148.80" font-size="20.5" text-anchor="middle">b</text>
<rect x="515.50" y="263.50" width="14.00" height="73.00" fill="url(#pb)" stroke="#111" stroke-width="1.2"/>
<line x1="522.50" y1="263.00" x2="522.50" y2="251.50" stroke="#111" stroke-width="1.2"/>
<line x1="519.10" y1="251.50" x2="525.90" y2="251.50" stroke="#111" stroke-width="1.2"/>
<text x="522.60" y="246.30" font-size="20.5" text-anchor="middle">a</text>
<rect x="533.50" y="280.50" width="15.00" height="56.00" fill="url(#pc4)" stroke="#111" stroke-width="1.2"/>
<line x1="541.50" y1="280.00" x2="541.50" y2="265.50" stroke="#111" stroke-width="1.2"/>
<line x1="538.10" y1="265.50" x2="544.90" y2="265.50" stroke="#111" stroke-width="1.2"/>
<text x="541.10" y="260.50" font-size="20.5" text-anchor="middle">a</text>
<rect x="551.50" y="92.50" width="15.00" height="244.00" fill="#fff" stroke="#111" stroke-width="1.2"/>
<line x1="559.50" y1="92.00" x2="559.50" y2="68.50" stroke="#111" stroke-width="1.2"/>
<line x1="556.10" y1="68.50" x2="562.90" y2="68.50" stroke="#111" stroke-width="1.2"/>
<text x="558.70" y="65.10" font-size="20.5" text-anchor="middle">ab</text>
<rect x="598.50" y="152.50" width="14.00" height="184.00" fill="#e8e8e8"/>
<path d="M599.00 333.84h1.33v1.33h-1.33zM601.66 333.84h1.33v1.33h-1.33zM604.32 333.84h1.33v1.33h-1.33zM606.98 333.84h1.33v1.33h-1.33zM609.64 333.84h1.33v1.33h-1.33zM600.33 332.51h1.33v1.33h-1.33zM602.99 332.51h1.33v1.33h-1.33zM605.65 332.51h1.33v1.33h-1.33zM608.31 332.51h1.33v1.33h-1.33zM610.97 332.51h1.03v1.33h-1.03zM599.00 331.18h1.33v1.33h-1.33zM601.66 331.18h1.33v1.33h-1.33zM604.32 331.18h1.33v1.33h-1.33zM606.98 331.18h1.33v1.33h-1.33zM609.64 331.18h1.33v1.33h-1.33zM600.33 329.85h1.33v1.33h-1.33zM602.99 329.85h1.33v1.33h-1.33zM605.65 329.85h1.33v1.33h-1.33zM608.31 329.85h1.33v1.33h-1.33zM610.97 329.85h1.03v1.33h-1.03zM599.00 328.52h1.33v1.33h-1.33zM601.66 328.52h1.33v1.33h-1.33zM604.32 328.52h1.33v1.33h-1.33zM606.98 328.52h1.33v1.33h-1.33zM609.64 328.52h1.33v1.33h-1.33zM600.33 327.19h1.33v1.33h-1.33zM602.99 327.19h1.33v1.33h-1.33zM605.65 327.19h1.33v1.33h-1.33zM608.31 327.19h1.33v1.33h-1.33zM610.97 327.19h1.03v1.33h-1.03zM599.00 325.86h1.33v1.33h-1.33zM601.66 325.86h1.33v1.33h-1.33zM604.32 325.86h1.33v1.33h-1.33zM606.98 325.86h1.33v1.33h-1.33zM609.64 325.86h1.33v1.33h-1.33zM600.33 324.53h1.33v1.33h-1.33zM602.99 324.53h1.33v1.33h-1.33zM605.65 324.53h1.33v1.33h-1.33zM608.31 324.53h1.33v1.33h-1.33zM610.97 324.53h1.03v1.33h-1.03zM599.00 323.20h1.33v1.33h-1.33zM601.66 323.20h1.33v1.33h-1.33zM604.32 323.20h1.33v1.33h-1.33zM606.98 323.20h1.33v1.33h-1.33zM609.64 323.20h1.33v1.33h-1.33zM600.33 321.87h1.33v1.33h-1.33zM602.99 321.87h1.33v1.33h-1.33zM605.65 321.87h1.33v1.33h-1.33zM608.31 321.87h1.33v1.33h-1.33zM610.97 321.87h1.03v1.33h-1.03zM599.00 320.54h1.33v1.33h-1.33zM601.66 320.54h1.33v1.33h-1.33zM604.32 320.54h1.33v1.33h-1.33zM606.98 320.54h1.33v1.33h-1.33zM609.64 320.54h1.33v1.33h-1.33zM600.33 319.21h1.33v1.33h-1.33zM602.99 319.21h1.33v1.33h-1.33zM605.65 319.21h1.33v1.33h-1.33zM608.31 319.21h1.33v1.33h-1.33zM610.97 319.21h1.03v1.33h-1.03zM599.00 317.88h1.33v1.33h-1.33zM601.66 317.88h1.33v1.33h-1.33zM604.32 317.88h1.33v1.33h-1.33zM606.98 317.88h1.33v1.33h-1.33zM609.64 317.88h1.33v1.33h-1.33zM600.33 316.55h1.33v1.33h-1.33zM602.99 316.55h1.33v1.33h-1.33zM605.65 316.55h1.33v1.33h-1.33zM608.31 316.55h1.33v1.33h-1.33zM610.97 316.55h1.03v1.33h-1.03zM599.00 315.22h1.33v1.33h-1.33zM601.66 315.22h1.33v1.33h-1.33zM604.32 315.22h1.33v1.33h-1.33zM606.98 315.22h1.33v1.33h-1.33zM609.64 315.22h1.33v1.33h-1.33zM600.33 313.89h1.33v1.33h-1.33zM602.99 313.89h1.33v1.33h-1.33zM605.65 313.89h1.33v1.33h-1.33zM608.31 313.89h1.33v1.33h-1.33zM610.97 313.89h1.03v1.33h-1.03zM599.00 312.56h1.33v1.33h-1.33zM601.66 312.56h1.33v1.33h-1.33zM604.32 312.56h1.33v1.33h-1.33zM606.98 312.56h1.33v1.33h-1.33zM609.64 312.56h1.33v1.33h-1.33zM600.33 311.23h1.33v1.33h-1.33zM602.99 311.23h1.33v1.33h-1.33zM605.65 311.23h1.33v1.33h-1.33zM608.31 311.23h1.33v1.33h-1.33zM610.97 311.23h1.03v1.33h-1.03zM599.00 309.90h1.33v1.33h-1.33zM601.66 309.90h1.33v1.33h-1.33zM604.32 309.90h1.33v1.33h-1.33zM606.98 309.90h1.33v1.33h-1.33zM609.64 309.90h1.33v1.33h-1.33zM600.33 308.57h1.33v1.33h-1.33zM602.99 308.57h1.33v1.33h-1.33zM605.65 308.57h1.33v1.33h-1.33zM608.31 308.57h1.33v1.33h-1.33zM610.97 308.57h1.03v1.33h-1.03zM599.00 307.24h1.33v1.33h-1.33zM601.66 307.24h1.33v1.33h-1.33zM604.32 307.24h1.33v1.33h-1.33zM606.98 307.24h1.33v1.33h-1.33zM609.64 307.24h1.33v1.33h-1.33zM600.33 305.91h1.33v1.33h-1.33zM602.99 305.91h1.33v1.33h-1.33zM605.65 305.91h1.33v1.33h-1.33zM608.31 305.91h1.33v1.33h-1.33zM610.97 305.91h1.03v1.33h-1.03zM599.00 304.58h1.33v1.33h-1.33zM601.66 304.58h1.33v1.33h-1.33zM604.32 304.58h1.33v1.33h-1.33zM606.98 304.58h1.33v1.33h-1.33zM609.64 304.58h1.33v1.33h-1.33zM600.33 303.25h1.33v1.33h-1.33zM602.99 303.25h1.33v1.33h-1.33zM605.65 303.25h1.33v1.33h-1.33zM608.31 303.25h1.33v1.33h-1.33zM610.97 303.25h1.03v1.33h-1.03zM599.00 301.92h1.33v1.33h-1.33zM601.66 301.92h1.33v1.33h-1.33zM604.32 301.92h1.33v1.33h-1.33zM606.98 301.92h1.33v1.33h-1.33zM609.64 301.92h1.33v1.33h-1.33zM600.33 300.59h1.33v1.33h-1.33zM602.99 300.59h1.33v1.33h-1.33zM605.65 300.59h1.33v1.33h-1.33zM608.31 300.59h1.33v1.33h-1.33zM610.97 300.59h1.03v1.33h-1.03zM599.00 299.26h1.33v1.33h-1.33zM601.66 299.26h1.33v1.33h-1.33zM604.32 299.26h1.33v1.33h-1.33zM606.98 299.26h1.33v1.33h-1.33zM609.64 299.26h1.33v1.33h-1.33zM600.33 297.93h1.33v1.33h-1.33zM602.99 297.93h1.33v1.33h-1.33zM605.65 297.93h1.33v1.33h-1.33zM608.31 297.93h1.33v1.33h-1.33zM610.97 297.93h1.03v1.33h-1.03zM599.00 296.60h1.33v1.33h-1.33zM601.66 296.60h1.33v1.33h-1.33zM604.32 296.60h1.33v1.33h-1.33zM606.98 296.60h1.33v1.33h-1.33zM609.64 296.60h1.33v1.33h-1.33zM600.33 295.27h1.33v1.33h-1.33zM602.99 295.27h1.33v1.33h-1.33zM605.65 295.27h1.33v1.33h-1.33zM608.31 295.27h1.33v1.33h-1.33zM610.97 295.27h1.03v1.33h-1.03zM599.00 293.94h1.33v1.33h-1.33zM601.66 293.94h1.33v1.33h-1.33zM604.32 293.94h1.33v1.33h-1.33zM606.98 293.94h1.33v1.33h-1.33zM609.64 293.94h1.33v1.33h-1.33zM600.33 292.61h1.33v1.33h-1.33zM602.99 292.61h1.33v1.33h-1.33zM605.65 292.61h1.33v1.33h-1.33zM608.31 292.61h1.33v1.33h-1.33zM610.97 292.61h1.03v1.33h-1.03zM599.00 291.28h1.33v1.33h-1.33zM601.66 291.28h1.33v1.33h-1.33zM604.32 291.28h1.33v1.33h-1.33zM606.98 291.28h1.33v1.33h-1.33zM609.64 291.28h1.33v1.33h-1.33zM600.33 289.95h1.33v1.33h-1.33zM602.99 289.95h1.33v1.33h-1.33zM605.65 289.95h1.33v1.33h-1.33zM608.31 289.95h1.33v1.33h-1.33zM610.97 289.95h1.03v1.33h-1.03zM599.00 288.62h1.33v1.33h-1.33zM601.66 288.62h1.33v1.33h-1.33zM604.32 288.62h1.33v1.33h-1.33zM606.98 288.62h1.33v1.33h-1.33zM609.64 288.62h1.33v1.33h-1.33zM600.33 287.29h1.33v1.33h-1.33zM602.99 287.29h1.33v1.33h-1.33zM605.65 287.29h1.33v1.33h-1.33zM608.31 287.29h1.33v1.33h-1.33zM610.97 287.29h1.03v1.33h-1.03zM599.00 285.96h1.33v1.33h-1.33zM601.66 285.96h1.33v1.33h-1.33zM604.32 285.96h1.33v1.33h-1.33zM606.98 285.96h1.33v1.33h-1.33zM609.64 285.96h1.33v1.33h-1.33zM600.33 284.63h1.33v1.33h-1.33zM602.99 284.63h1.33v1.33h-1.33zM605.65 284.63h1.33v1.33h-1.33zM608.31 284.63h1.33v1.33h-1.33zM610.97 284.63h1.03v1.33h-1.03zM599.00 283.30h1.33v1.33h-1.33zM601.66 283.30h1.33v1.33h-1.33zM604.32 283.30h1.33v1.33h-1.33zM606.98 283.30h1.33v1.33h-1.33zM609.64 283.30h1.33v1.33h-1.33zM600.33 281.97h1.33v1.33h-1.33zM602.99 281.97h1.33v1.33h-1.33zM605.65 281.97h1.33v1.33h-1.33zM608.31 281.97h1.33v1.33h-1.33zM610.97 281.97h1.03v1.33h-1.03zM599.00 280.64h1.33v1.33h-1.33zM601.66 280.64h1.33v1.33h-1.33zM604.32 280.64h1.33v1.33h-1.33zM606.98 280.64h1.33v1.33h-1.33zM609.64 280.64h1.33v1.33h-1.33zM600.33 279.31h1.33v1.33h-1.33zM602.99 279.31h1.33v1.33h-1.33zM605.65 279.31h1.33v1.33h-1.33zM608.31 279.31h1.33v1.33h-1.33zM610.97 279.31h1.03v1.33h-1.03zM599.00 277.98h1.33v1.33h-1.33zM601.66 277.98h1.33v1.33h-1.33zM604.32 277.98h1.33v1.33h-1.33zM606.98 277.98h1.33v1.33h-1.33zM609.64 277.98h1.33v1.33h-1.33zM600.33 276.65h1.33v1.33h-1.33zM602.99 276.65h1.33v1.33h-1.33zM605.65 276.65h1.33v1.33h-1.33zM608.31 276.65h1.33v1.33h-1.33zM610.97 276.65h1.03v1.33h-1.03zM599.00 275.32h1.33v1.33h-1.33zM601.66 275.32h1.33v1.33h-1.33zM604.32 275.32h1.33v1.33h-1.33zM606.98 275.32h1.33v1.33h-1.33zM609.64 275.32h1.33v1.33h-1.33zM600.33 273.99h1.33v1.33h-1.33zM602.99 273.99h1.33v1.33h-1.33zM605.65 273.99h1.33v1.33h-1.33zM608.31 273.99h1.33v1.33h-1.33zM610.97 273.99h1.03v1.33h-1.03zM599.00 272.66h1.33v1.33h-1.33zM601.66 272.66h1.33v1.33h-1.33zM604.32 272.66h1.33v1.33h-1.33zM606.98 272.66h1.33v1.33h-1.33zM609.64 272.66h1.33v1.33h-1.33zM600.33 271.33h1.33v1.33h-1.33zM602.99 271.33h1.33v1.33h-1.33zM605.65 271.33h1.33v1.33h-1.33zM608.31 271.33h1.33v1.33h-1.33zM610.97 271.33h1.03v1.33h-1.03zM599.00 270.00h1.33v1.33h-1.33zM601.66 270.00h1.33v1.33h-1.33zM604.32 270.00h1.33v1.33h-1.33zM606.98 270.00h1.33v1.33h-1.33zM609.64 270.00h1.33v1.33h-1.33zM600.33 268.67h1.33v1.33h-1.33zM602.99 268.67h1.33v1.33h-1.33zM605.65 268.67h1.33v1.33h-1.33zM608.31 268.67h1.33v1.33h-1.33zM610.97 268.67h1.03v1.33h-1.03zM599.00 267.34h1.33v1.33h-1.33zM601.66 267.34h1.33v1.33h-1.33zM604.32 267.34h1.33v1.33h-1.33zM606.98 267.34h1.33v1.33h-1.33zM609.64 267.34h1.33v1.33h-1.33zM600.33 266.01h1.33v1.33h-1.33zM602.99 266.01h1.33v1.33h-1.33zM605.65 266.01h1.33v1.33h-1.33zM608.31 266.01h1.33v1.33h-1.33zM610.97 266.01h1.03v1.33h-1.03zM599.00 264.68h1.33v1.33h-1.33zM601.66 264.68h1.33v1.33h-1.33zM604.32 264.68h1.33v1.33h-1.33zM606.98 264.68h1.33v1.33h-1.33zM609.64 264.68h1.33v1.33h-1.33zM600.33 263.35h1.33v1.33h-1.33zM602.99 263.35h1.33v1.33h-1.33zM605.65 263.35h1.33v1.33h-1.33zM608.31 263.35h1.33v1.33h-1.33zM610.97 263.35h1.03v1.33h-1.03zM599.00 262.02h1.33v1.33h-1.33zM601.66 262.02h1.33v1.33h-1.33zM604.32 262.02h1.33v1.33h-1.33zM606.98 262.02h1.33v1.33h-1.33zM609.64 262.02h1.33v1.33h-1.33zM600.33 260.69h1.33v1.33h-1.33zM602.99 260.69h1.33v1.33h-1.33zM605.65 260.69h1.33v1.33h-1.33zM608.31 260.69h1.33v1.33h-1.33zM610.97 260.69h1.03v1.33h-1.03zM599.00 259.36h1.33v1.33h-1.33zM601.66 259.36h1.33v1.33h-1.33zM604.32 259.36h1.33v1.33h-1.33zM606.98 259.36h1.33v1.33h-1.33zM609.64 259.36h1.33v1.33h-1.33zM600.33 258.03h1.33v1.33h-1.33zM602.99 258.03h1.33v1.33h-1.33zM605.65 258.03h1.33v1.33h-1.33zM608.31 258.03h1.33v1.33h-1.33zM610.97 258.03h1.03v1.33h-1.03zM599.00 256.70h1.33v1.33h-1.33zM601.66 256.70h1.33v1.33h-1.33zM604.32 256.70h1.33v1.33h-1.33zM606.98 256.70h1.33v1.33h-1.33zM609.64 256.70h1.33v1.33h-1.33zM600.33 255.37h1.33v1.33h-1.33zM602.99 255.37h1.33v1.33h-1.33zM605.65 255.37h1.33v1.33h-1.33zM608.31 255.37h1.33v1.33h-1.33zM610.97 255.37h1.03v1.33h-1.03zM599.00 254.04h1.33v1.33h-1.33zM601.66 254.04h1.33v1.33h-1.33zM604.32 254.04h1.33v1.33h-1.33zM606.98 254.04h1.33v1.33h-1.33zM609.64 254.04h1.33v1.33h-1.33zM600.33 252.71h1.33v1.33h-1.33zM602.99 252.71h1.33v1.33h-1.33zM605.65 252.71h1.33v1.33h-1.33zM608.31 252.71h1.33v1.33h-1.33zM610.97 252.71h1.03v1.33h-1.03zM599.00 251.38h1.33v1.33h-1.33zM601.66 251.38h1.33v1.33h-1.33zM604.32 251.38h1.33v1.33h-1.33zM606.98 251.38h1.33v1.33h-1.33zM609.64 251.38h1.33v1.33h-1.33zM600.33 250.05h1.33v1.33h-1.33zM602.99 250.05h1.33v1.33h-1.33zM605.65 250.05h1.33v1.33h-1.33zM608.31 250.05h1.33v1.33h-1.33zM610.97 250.05h1.03v1.33h-1.03zM599.00 248.72h1.33v1.33h-1.33zM601.66 248.72h1.33v1.33h-1.33zM604.32 248.72h1.33v1.33h-1.33zM606.98 248.72h1.33v1.33h-1.33zM609.64 248.72h1.33v1.33h-1.33zM600.33 247.39h1.33v1.33h-1.33zM602.99 247.39h1.33v1.33h-1.33zM605.65 247.39h1.33v1.33h-1.33zM608.31 247.39h1.33v1.33h-1.33zM610.97 247.39h1.03v1.33h-1.03zM599.00 246.06h1.33v1.33h-1.33zM601.66 246.06h1.33v1.33h-1.33zM604.32 246.06h1.33v1.33h-1.33zM606.98 246.06h1.33v1.33h-1.33zM609.64 246.06h1.33v1.33h-1.33zM600.33 244.73h1.33v1.33h-1.33zM602.99 244.73h1.33v1.33h-1.33zM605.65 244.73h1.33v1.33h-1.33zM608.31 244.73h1.33v1.33h-1.33zM610.97 244.73h1.03v1.33h-1.03zM599.00 243.40h1.33v1.33h-1.33zM601.66 243.40h1.33v1.33h-1.33zM604.32 243.40h1.33v1.33h-1.33zM606.98 243.40h1.33v1.33h-1.33zM609.64 243.40h1.33v1.33h-1.33zM600.33 242.07h1.33v1.33h-1.33zM602.99 242.07h1.33v1.33h-1.33zM605.65 242.07h1.33v1.33h-1.33zM608.31 242.07h1.33v1.33h-1.33zM610.97 242.07h1.03v1.33h-1.03zM599.00 240.74h1.33v1.33h-1.33zM601.66 240.74h1.33v1.33h-1.33zM604.32 240.74h1.33v1.33h-1.33zM606.98 240.74h1.33v1.33h-1.33zM609.64 240.74h1.33v1.33h-1.33zM600.33 239.41h1.33v1.33h-1.33zM602.99 239.41h1.33v1.33h-1.33zM605.65 239.41h1.33v1.33h-1.33zM608.31 239.41h1.33v1.33h-1.33zM610.97 239.41h1.03v1.33h-1.03zM599.00 238.08h1.33v1.33h-1.33zM601.66 238.08h1.33v1.33h-1.33zM604.32 238.08h1.33v1.33h-1.33zM606.98 238.08h1.33v1.33h-1.33zM609.64 238.08h1.33v1.33h-1.33zM600.33 236.75h1.33v1.33h-1.33zM602.99 236.75h1.33v1.33h-1.33zM605.65 236.75h1.33v1.33h-1.33zM608.31 236.75h1.33v1.33h-1.33zM610.97 236.75h1.03v1.33h-1.03zM599.00 235.42h1.33v1.33h-1.33zM601.66 235.42h1.33v1.33h-1.33zM604.32 235.42h1.33v1.33h-1.33zM606.98 235.42h1.33v1.33h-1.33zM609.64 235.42h1.33v1.33h-1.33zM600.33 234.09h1.33v1.33h-1.33zM602.99 234.09h1.33v1.33h-1.33zM605.65 234.09h1.33v1.33h-1.33zM608.31 234.09h1.33v1.33h-1.33zM610.97 234.09h1.03v1.33h-1.03zM599.00 232.76h1.33v1.33h-1.33zM601.66 232.76h1.33v1.33h-1.33zM604.32 232.76h1.33v1.33h-1.33zM606.98 232.76h1.33v1.33h-1.33zM609.64 232.76h1.33v1.33h-1.33zM600.33 231.43h1.33v1.33h-1.33zM602.99 231.43h1.33v1.33h-1.33zM605.65 231.43h1.33v1.33h-1.33zM608.31 231.43h1.33v1.33h-1.33zM610.97 231.43h1.03v1.33h-1.03zM599.00 230.10h1.33v1.33h-1.33zM601.66 230.10h1.33v1.33h-1.33zM604.32 230.10h1.33v1.33h-1.33zM606.98 230.10h1.33v1.33h-1.33zM609.64 230.10h1.33v1.33h-1.33zM600.33 228.77h1.33v1.33h-1.33zM602.99 228.77h1.33v1.33h-1.33zM605.65 228.77h1.33v1.33h-1.33zM608.31 228.77h1.33v1.33h-1.33zM610.97 228.77h1.03v1.33h-1.03zM599.00 227.44h1.33v1.33h-1.33zM601.66 227.44h1.33v1.33h-1.33zM604.32 227.44h1.33v1.33h-1.33zM606.98 227.44h1.33v1.33h-1.33zM609.64 227.44h1.33v1.33h-1.33zM600.33 226.11h1.33v1.33h-1.33zM602.99 226.11h1.33v1.33h-1.33zM605.65 226.11h1.33v1.33h-1.33zM608.31 226.11h1.33v1.33h-1.33zM610.97 226.11h1.03v1.33h-1.03zM599.00 224.78h1.33v1.33h-1.33zM601.66 224.78h1.33v1.33h-1.33zM604.32 224.78h1.33v1.33h-1.33zM606.98 224.78h1.33v1.33h-1.33zM609.64 224.78h1.33v1.33h-1.33zM600.33 223.45h1.33v1.33h-1.33zM602.99 223.45h1.33v1.33h-1.33zM605.65 223.45h1.33v1.33h-1.33zM608.31 223.45h1.33v1.33h-1.33zM610.97 223.45h1.03v1.33h-1.03zM599.00 222.12h1.33v1.33h-1.33zM601.66 222.12h1.33v1.33h-1.33zM604.32 222.12h1.33v1.33h-1.33zM606.98 222.12h1.33v1.33h-1.33zM609.64 222.12h1.33v1.33h-1.33zM600.33 220.79h1.33v1.33h-1.33zM602.99 220.79h1.33v1.33h-1.33zM605.65 220.79h1.33v1.33h-1.33zM608.31 220.79h1.33v1.33h-1.33zM610.97 220.79h1.03v1.33h-1.03zM599.00 219.46h1.33v1.33h-1.33zM601.66 219.46h1.33v1.33h-1.33zM604.32 219.46h1.33v1.33h-1.33zM606.98 219.46h1.33v1.33h-1.33zM609.64 219.46h1.33v1.33h-1.33zM600.33 218.13h1.33v1.33h-1.33zM602.99 218.13h1.33v1.33h-1.33zM605.65 218.13h1.33v1.33h-1.33zM608.31 218.13h1.33v1.33h-1.33zM610.97 218.13h1.03v1.33h-1.03zM599.00 216.80h1.33v1.33h-1.33zM601.66 216.80h1.33v1.33h-1.33zM604.32 216.80h1.33v1.33h-1.33zM606.98 216.80h1.33v1.33h-1.33zM609.64 216.80h1.33v1.33h-1.33zM600.33 215.47h1.33v1.33h-1.33zM602.99 215.47h1.33v1.33h-1.33zM605.65 215.47h1.33v1.33h-1.33zM608.31 215.47h1.33v1.33h-1.33zM610.97 215.47h1.03v1.33h-1.03zM599.00 214.14h1.33v1.33h-1.33zM601.66 214.14h1.33v1.33h-1.33zM604.32 214.14h1.33v1.33h-1.33zM606.98 214.14h1.33v1.33h-1.33zM609.64 214.14h1.33v1.33h-1.33zM600.33 212.81h1.33v1.33h-1.33zM602.99 212.81h1.33v1.33h-1.33zM605.65 212.81h1.33v1.33h-1.33zM608.31 212.81h1.33v1.33h-1.33zM610.97 212.81h1.03v1.33h-1.03zM599.00 211.48h1.33v1.33h-1.33zM601.66 211.48h1.33v1.33h-1.33zM604.32 211.48h1.33v1.33h-1.33zM606.98 211.48h1.33v1.33h-1.33zM609.64 211.48h1.33v1.33h-1.33zM600.33 210.15h1.33v1.33h-1.33zM602.99 210.15h1.33v1.33h-1.33zM605.65 210.15h1.33v1.33h-1.33zM608.31 210.15h1.33v1.33h-1.33zM610.97 210.15h1.03v1.33h-1.03zM599.00 208.82h1.33v1.33h-1.33zM601.66 208.82h1.33v1.33h-1.33zM604.32 208.82h1.33v1.33h-1.33zM606.98 208.82h1.33v1.33h-1.33zM609.64 208.82h1.33v1.33h-1.33zM600.33 207.49h1.33v1.33h-1.33zM602.99 207.49h1.33v1.33h-1.33zM605.65 207.49h1.33v1.33h-1.33zM608.31 207.49h1.33v1.33h-1.33zM610.97 207.49h1.03v1.33h-1.03zM599.00 206.16h1.33v1.33h-1.33zM601.66 206.16h1.33v1.33h-1.33zM604.32 206.16h1.33v1.33h-1.33zM606.98 206.16h1.33v1.33h-1.33zM609.64 206.16h1.33v1.33h-1.33zM600.33 204.83h1.33v1.33h-1.33zM602.99 204.83h1.33v1.33h-1.33zM605.65 204.83h1.33v1.33h-1.33zM608.31 204.83h1.33v1.33h-1.33zM610.97 204.83h1.03v1.33h-1.03zM599.00 203.50h1.33v1.33h-1.33zM601.66 203.50h1.33v1.33h-1.33zM604.32 203.50h1.33v1.33h-1.33zM606.98 203.50h1.33v1.33h-1.33zM609.64 203.50h1.33v1.33h-1.33zM600.33 202.17h1.33v1.33h-1.33zM602.99 202.17h1.33v1.33h-1.33zM605.65 202.17h1.33v1.33h-1.33zM608.31 202.17h1.33v1.33h-1.33zM610.97 202.17h1.03v1.33h-1.03zM599.00 200.84h1.33v1.33h-1.33zM601.66 200.84h1.33v1.33h-1.33zM604.32 200.84h1.33v1.33h-1.33zM606.98 200.84h1.33v1.33h-1.33zM609.64 200.84h1.33v1.33h-1.33zM600.33 199.51h1.33v1.33h-1.33zM602.99 199.51h1.33v1.33h-1.33zM605.65 199.51h1.33v1.33h-1.33zM608.31 199.51h1.33v1.33h-1.33zM610.97 199.51h1.03v1.33h-1.03zM599.00 198.18h1.33v1.33h-1.33zM601.66 198.18h1.33v1.33h-1.33zM604.32 198.18h1.33v1.33h-1.33zM606.98 198.18h1.33v1.33h-1.33zM609.64 198.18h1.33v1.33h-1.33zM600.33 196.85h1.33v1.33h-1.33zM602.99 196.85h1.33v1.33h-1.33zM605.65 196.85h1.33v1.33h-1.33zM608.31 196.85h1.33v1.33h-1.33zM610.97 196.85h1.03v1.33h-1.03zM599.00 195.52h1.33v1.33h-1.33zM601.66 195.52h1.33v1.33h-1.33zM604.32 195.52h1.33v1.33h-1.33zM606.98 195.52h1.33v1.33h-1.33zM609.64 195.52h1.33v1.33h-1.33zM600.33 194.19h1.33v1.33h-1.33zM602.99 194.19h1.33v1.33h-1.33zM605.65 194.19h1.33v1.33h-1.33zM608.31 194.19h1.33v1.33h-1.33zM610.97 194.19h1.03v1.33h-1.03zM599.00 192.86h1.33v1.33h-1.33zM601.66 192.86h1.33v1.33h-1.33zM604.32 192.86h1.33v1.33h-1.33zM606.98 192.86h1.33v1.33h-1.33zM609.64 192.86h1.33v1.33h-1.33zM600.33 191.53h1.33v1.33h-1.33zM602.99 191.53h1.33v1.33h-1.33zM605.65 191.53h1.33v1.33h-1.33zM608.31 191.53h1.33v1.33h-1.33zM610.97 191.53h1.03v1.33h-1.03zM599.00 190.20h1.33v1.33h-1.33zM601.66 190.20h1.33v1.33h-1.33zM604.32 190.20h1.33v1.33h-1.33zM606.98 190.20h1.33v1.33h-1.33zM609.64 190.20h1.33v1.33h-1.33zM600.33 188.87h1.33v1.33h-1.33zM602.99 188.87h1.33v1.33h-1.33zM605.65 188.87h1.33v1.33h-1.33zM608.31 188.87h1.33v1.33h-1.33zM610.97 188.87h1.03v1.33h-1.03zM599.00 187.54h1.33v1.33h-1.33zM601.66 187.54h1.33v1.33h-1.33zM604.32 187.54h1.33v1.33h-1.33zM606.98 187.54h1.33v1.33h-1.33zM609.64 187.54h1.33v1.33h-1.33zM600.33 186.21h1.33v1.33h-1.33zM602.99 186.21h1.33v1.33h-1.33zM605.65 186.21h1.33v1.33h-1.33zM608.31 186.21h1.33v1.33h-1.33zM610.97 186.21h1.03v1.33h-1.03zM599.00 184.88h1.33v1.33h-1.33zM601.66 184.88h1.33v1.33h-1.33zM604.32 184.88h1.33v1.33h-1.33zM606.98 184.88h1.33v1.33h-1.33zM609.64 184.88h1.33v1.33h-1.33zM600.33 183.55h1.33v1.33h-1.33zM602.99 183.55h1.33v1.33h-1.33zM605.65 183.55h1.33v1.33h-1.33zM608.31 183.55h1.33v1.33h-1.33zM610.97 183.55h1.03v1.33h-1.03zM599.00 182.22h1.33v1.33h-1.33zM601.66 182.22h1.33v1.33h-1.33zM604.32 182.22h1.33v1.33h-1.33zM606.98 182.22h1.33v1.33h-1.33zM609.64 182.22h1.33v1.33h-1.33zM600.33 180.89h1.33v1.33h-1.33zM602.99 180.89h1.33v1.33h-1.33zM605.65 180.89h1.33v1.33h-1.33zM608.31 180.89h1.33v1.33h-1.33zM610.97 180.89h1.03v1.33h-1.03zM599.00 179.56h1.33v1.33h-1.33zM601.66 179.56h1.33v1.33h-1.33zM604.32 179.56h1.33v1.33h-1.33zM606.98 179.56h1.33v1.33h-1.33zM609.64 179.56h1.33v1.33h-1.33zM600.33 178.23h1.33v1.33h-1.33zM602.99 178.23h1.33v1.33h-1.33zM605.65 178.23h1.33v1.33h-1.33zM608.31 178.23h1.33v1.33h-1.33zM610.97 178.23h1.03v1.33h-1.03zM599.00 176.90h1.33v1.33h-1.33zM601.66 176.90h1.33v1.33h-1.33zM604.32 176.90h1.33v1.33h-1.33zM606.98 176.90h1.33v1.33h-1.33zM609.64 176.90h1.33v1.33h-1.33zM600.33 175.57h1.33v1.33h-1.33zM602.99 175.57h1.33v1.33h-1.33zM605.65 175.57h1.33v1.33h-1.33zM608.31 175.57h1.33v1.33h-1.33zM610.97 175.57h1.03v1.33h-1.03zM599.00 174.24h1.33v1.33h-1.33zM601.66 174.24h1.33v1.33h-1.33zM604.32 174.24h1.33v1.33h-1.33zM606.98 174.24h1.33v1.33h-1.33zM609.64 174.24h1.33v1.33h-1.33zM600.33 172.91h1.33v1.33h-1.33zM602.99 172.91h1.33v1.33h-1.33zM605.65 172.91h1.33v1.33h-1.33zM608.31 172.91h1.33v1.33h-1.33zM610.97 172.91h1.03v1.33h-1.03zM599.00 171.58h1.33v1.33h-1.33zM601.66 171.58h1.33v1.33h-1.33zM604.32 171.58h1.33v1.33h-1.33zM606.98 171.58h1.33v1.33h-1.33zM609.64 171.58h1.33v1.33h-1.33zM600.33 170.25h1.33v1.33h-1.33zM602.99 170.25h1.33v1.33h-1.33zM605.65 170.25h1.33v1.33h-1.33zM608.31 170.25h1.33v1.33h-1.33zM610.97 170.25h1.03v1.33h-1.03zM599.00 168.92h1.33v1.33h-1.33zM601.66 168.92h1.33v1.33h-1.33zM604.32 168.92h1.33v1.33h-1.33zM606.98 168.92h1.33v1.33h-1.33zM609.64 168.92h1.33v1.33h-1.33zM600.33 167.59h1.33v1.33h-1.33zM602.99 167.59h1.33v1.33h-1.33zM605.65 167.59h1.33v1.33h-1.33zM608.31 167.59h1.33v1.33h-1.33zM610.97 167.59h1.03v1.33h-1.03zM599.00 166.26h1.33v1.33h-1.33zM601.66 166.26h1.33v1.33h-1.33zM604.32 166.26h1.33v1.33h-1.33zM606.98 166.26h1.33v1.33h-1.33zM609.64 166.26h1.33v1.33h-1.33zM600.33 164.93h1.33v1.33h-1.33zM602.99 164.93h1.33v1.33h-1.33zM605.65 164.93h1.33v1.33h-1.33zM608.31 164.93h1.33v1.33h-1.33zM610.97 164.93h1.03v1.33h-1.03zM599.00 163.60h1.33v1.33h-1.33zM601.66 163.60h1.33v1.33h-1.33zM604.32 163.60h1.33v1.33h-1.33zM606.98 163.60h1.33v1.33h-1.33zM609.64 163.60h1.33v1.33h-1.33zM600.33 162.27h1.33v1.33h-1.33zM602.99 162.27h1.33v1.33h-1.33zM605.65 162.27h1.33v1.33h-1.33zM608.31 162.27h1.33v1.33h-1.33zM610.97 162.27h1.03v1.33h-1.03zM599.00 160.94h1.33v1.33h-1.33zM601.66 160.94h1.33v1.33h-1.33zM604.32 160.94h1.33v1.33h-1.33zM606.98 160.94h1.33v1.33h-1.33zM609.64 160.94h1.33v1.33h-1.33zM600.33 159.61h1.33v1.33h-1.33zM602.99 159.61h1.33v1.33h-1.33zM605.65 159.61h1.33v1.33h-1.33zM608.31 159.61h1.33v1.33h-1.33zM610.97 159.61h1.03v1.33h-1.03zM599.00 158.28h1.33v1.33h-1.33zM601.66 158.28h1.33v1.33h-1.33zM604.32 158.28h1.33v1.33h-1.33zM606.98 158.28h1.33v1.33h-1.33zM609.64 158.28h1.33v1.33h-1.33zM600.33 156.95h1.33v1.33h-1.33zM602.99 156.95h1.33v1.33h-1.33zM605.65 156.95h1.33v1.33h-1.33zM608.31 156.95h1.33v1.33h-1.33zM610.97 156.95h1.03v1.33h-1.03zM599.00 155.62h1.33v1.33h-1.33zM601.66 155.62h1.33v1.33h-1.33zM604.32 155.62h1.33v1.33h-1.33zM606.98 155.62h1.33v1.33h-1.33zM609.64 155.62h1.33v1.33h-1.33zM600.33 154.29h1.33v1.33h-1.33zM602.99 154.29h1.33v1.33h-1.33zM605.65 154.29h1.33v1.33h-1.33zM608.31 154.29h1.33v1.33h-1.33zM610.97 154.29h1.03v1.33h-1.03zM599.00 153.00h1.33v1.29h-1.33zM601.66 153.00h1.33v1.29h-1.33zM604.32 153.00h1.33v1.29h-1.33zM606.98 153.00h1.33v1.29h-1.33zM609.64 153.00h1.33v1.29h-1.33z" fill="#2a2a2a"/>
<rect x="598.50" y="152.50" width="14.00" height="184.00" fill="none" stroke="#111" stroke-width="1.2"/>
<line x1="605.50" y1="152.00" x2="605.50" y2="144.50" stroke="#111" stroke-width="1.2"/>
<line x1="602.10" y1="144.50" x2="608.90" y2="144.50" stroke="#111" stroke-width="1.2"/>
<text x="606.30" y="141.30" font-size="20.5" text-anchor="middle">a</text>
<rect x="616.50" y="261.50" width="14.00" height="75.00" fill="url(#pb)" stroke="#111" stroke-width="1.2"/>
<line x1="623.50" y1="261.00" x2="623.50" y2="248.50" stroke="#111" stroke-width="1.2"/>
<line x1="620.10" y1="248.50" x2="626.90" y2="248.50" stroke="#111" stroke-width="1.2"/>
<text x="623.60" y="245.30" font-size="20.5" text-anchor="middle">a</text>
<rect x="635.50" y="273.50" width="13.00" height="63.00" fill="url(#pc5)" stroke="#111" stroke-width="1.2"/>
<line x1="642.50" y1="273.00" x2="642.50" y2="265.50" stroke="#111" stroke-width="1.2"/>
<line x1="639.10" y1="265.50" x2="645.90" y2="265.50" stroke="#111" stroke-width="1.2"/>
<text x="641.80" y="258.00" font-size="20.5" text-anchor="middle">a</text>
<rect x="652.50" y="76.50" width="16.00" height="260.00" fill="#fff" stroke="#111" stroke-width="1.2"/>
<line x1="660.50" y1="76.00" x2="660.50" y2="56.50" stroke="#111" stroke-width="1.2"/>
<line x1="657.10" y1="56.50" x2="663.90" y2="56.50" stroke="#111" stroke-width="1.2"/>
<text x="660.60" y="52.60" font-size="20.5" text-anchor="middle">a</text>
<rect x="75" y="8" width="608.5" height="328.5" fill="none" stroke="#111" stroke-width="1.8"/>
<line x1="75" y1="336.50" x2="83.5" y2="336.50" stroke="#111" stroke-width="1.5"/>
<text x="61.5" y="342.70" font-size="20.5" text-anchor="end" style="stroke-width:0.2px">0.0</text>
<line x1="75" y1="271.50" x2="83.5" y2="271.50" stroke="#111" stroke-width="1.5"/>
<text x="61.5" y="277.70" font-size="20.5" text-anchor="end" style="stroke-width:0.2px">0.5</text>
<line x1="75" y1="206.10" x2="83.5" y2="206.10" stroke="#111" stroke-width="1.5"/>
<text x="61.5" y="212.30" font-size="20.5" text-anchor="end" style="stroke-width:0.2px">1.0</text>
<line x1="75" y1="139.30" x2="83.5" y2="139.30" stroke="#111" stroke-width="1.5"/>
<text x="61.5" y="145.50" font-size="20.5" text-anchor="end" style="stroke-width:0.2px">1.5</text>
<line x1="75" y1="73.50" x2="83.5" y2="73.50" stroke="#111" stroke-width="1.5"/>
<text x="61.5" y="79.70" font-size="20.5" text-anchor="end" style="stroke-width:0.2px">2.0</text>
<line x1="75" y1="8.00" x2="83.5" y2="8.00" stroke="#111" stroke-width="1.5"/>
<text x="61.5" y="14.20" font-size="20.5" text-anchor="end" style="stroke-width:0.2px">2.5</text>
<text x="123.70" y="357.8" font-size="20.5" text-anchor="middle">R</text>
<text x="226.20" y="357.8" font-size="20.5" text-anchor="middle">B</text>
<text x="328.00" y="357.8" font-size="20.5" text-anchor="middle">RB</text>
<text x="428.40" y="357.8" font-size="20.5" text-anchor="middle">R/RB/B</text>
<text x="507.60" y="357.8" font-size="20.5" text-anchor="middle">R/B</text>
<text x="607.60" y="357.8" font-size="20.5" text-anchor="middle">R/B</text>
<text x="554.30" y="357.8" font-size="20.5" text-anchor="middle">4h</text>
<text x="655.00" y="357.8" font-size="20.5" text-anchor="middle">1h</text>
<path d="M540.6,341.9 Q533.3,350 540.6,358.2" fill="none" stroke="#111" stroke-width="1.1"/>
<path d="M568.2,341.9 Q575.5,350 568.2,358.2" fill="none" stroke="#111" stroke-width="1.1"/>
<path d="M640.6,341.9 Q633.3,350 640.6,358.2" fill="none" stroke="#111" stroke-width="1.1"/>
<path d="M668.2,341.9 Q675.5,350 668.2,358.2" fill="none" stroke="#111" stroke-width="1.1"/>
<text transform="translate(18,314.3) rotate(-90) scale(1.16,1)" font-size="20.5">Pigment content (mg g<tspan dy="-8" font-size="13">-1</tspan><tspan dy="8"> FW)</tspan></text>
<rect x="87.5" y="18.5" width="13.5" height="13" fill="#e8e8e8"/>
<path d="M88.20 19.20h1.33v1.33h-1.33zM90.86 19.20h1.33v1.33h-1.33zM93.52 19.20h1.33v1.33h-1.33zM96.18 19.20h1.33v1.33h-1.33zM98.84 19.20h1.33v1.33h-1.33zM89.53 20.53h1.33v1.33h-1.33zM92.19 20.53h1.33v1.33h-1.33zM94.85 20.53h1.33v1.33h-1.33zM97.51 20.53h1.33v1.33h-1.33zM100.17 20.53h0.63v1.33h-0.63zM88.20 21.86h1.33v1.33h-1.33zM90.86 21.86h1.33v1.33h-1.33zM93.52 21.86h1.33v1.33h-1.33zM96.18 21.86h1.33v1.33h-1.33zM98.84 21.86h1.33v1.33h-1.33zM89.53 23.19h1.33v1.33h-1.33zM92.19 23.19h1.33v1.33h-1.33zM94.85 23.19h1.33v1.33h-1.33zM97.51 23.19h1.33v1.33h-1.33zM100.17 23.19h0.63v1.33h-0.63zM88.20 24.52h1.33v1.33h-1.33zM90.86 24.52h1.33v1.33h-1.33zM93.52 24.52h1.33v1.33h-1.33zM96.18 24.52h1.33v1.33h-1.33zM98.84 24.52h1.33v1.33h-1.33zM89.53 25.85h1.33v1.33h-1.33zM92.19 25.85h1.33v1.33h-1.33zM94.85 25.85h1.33v1.33h-1.33zM97.51 25.85h1.33v1.33h-1.33zM100.17 25.85h0.63v1.33h-0.63zM88.20 27.18h1.33v1.33h-1.33zM90.86 27.18h1.33v1.33h-1.33zM93.52 27.18h1.33v1.33h-1.33zM96.18 27.18h1.33v1.33h-1.33zM98.84 27.18h1.33v1.33h-1.33zM89.53 28.51h1.33v1.33h-1.33zM92.19 28.51h1.33v1.33h-1.33zM94.85 28.51h1.33v1.33h-1.33zM97.51 28.51h1.33v1.33h-1.33zM100.17 28.51h0.63v1.33h-0.63zM88.20 29.84h1.33v1.33h-1.33zM90.86 29.84h1.33v1.33h-1.33zM93.52 29.84h1.33v1.33h-1.33zM96.18 29.84h1.33v1.33h-1.33zM98.84 29.84h1.33v1.33h-1.33zM89.53 31.17h1.33v0.33h-1.33zM92.19 31.17h1.33v0.33h-1.33zM94.85 31.17h1.33v0.33h-1.33zM97.51 31.17h1.33v0.33h-1.33zM100.17 31.17h0.63v0.33h-0.63z" fill="#2a2a2a"/>
<rect x="87.5" y="18.5" width="13.5" height="13" fill="none" stroke="#111" stroke-width="1.3"/>
<rect x="87.5" y="42" width="13" height="13" fill="#fff" stroke="#111" stroke-width="1.3"/>
<line x1="88.6" y1="53.9" x2="99.4" y2="43.1" stroke="#aaa" stroke-width="2.4"/>
<rect x="162.5" y="19" width="14" height="12.5" fill="#fff" stroke="#111" stroke-width="1.3"/>
<rect x="165" y="23.8" width="1.4" height="1.4" fill="#222"/><rect x="172" y="22.2" width="1.4" height="1.4" fill="#222"/><rect x="170.3" y="29.5" width="1.4" height="1.4" fill="#222"/>
<rect x="162.5" y="43" width="14" height="12.5" fill="#fff" stroke="#111" stroke-width="1.3"/>
<text x="107.5" y="30" font-size="19.5">Chla</text>
<text x="107" y="52.8" font-size="19.5">Car</text>
<text x="183" y="30.2" font-size="19.5">Chlb</text>
<text x="183" y="53.5" font-size="19.5">Chl</text>
</svg></body></html>
